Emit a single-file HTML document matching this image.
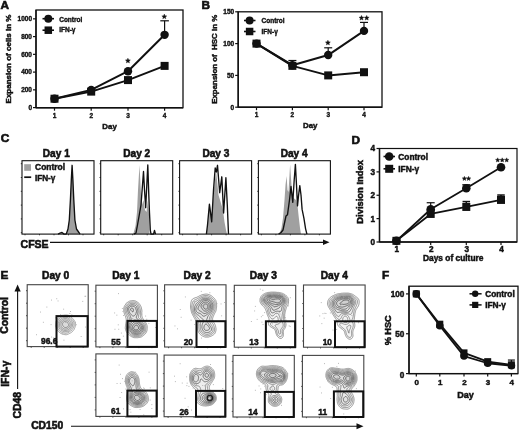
<!DOCTYPE html>
<html><head><meta charset="utf-8"><style>
html,body{margin:0;padding:0;background:#fff;}
body{width:520px;height:430px;overflow:hidden;}
svg{display:block;font-family:"Liberation Sans", sans-serif;}
text{white-space:pre;}
svg{will-change:transform;}
</style></head><body>
<svg width="520" height="430" viewBox="0 0 520 430">
<rect width="520" height="430" fill="#fff"/>
<text x="4.85" y="8.62" font-size="11.8" text-anchor="middle" font-weight="bold" fill="#111" stroke="#111" stroke-width="0.65">A</text>
<rect x="36.00" y="10.00" width="147.00" height="97.70" stroke="#111" stroke-width="1.3" fill="none"/>
<line x1="36.00" y1="10.00" x2="36.00" y2="107.70" stroke="#111" stroke-width="1.35" />
<line x1="36.00" y1="107.70" x2="183.00" y2="107.70" stroke="#111" stroke-width="1.35" />
<line x1="33.00" y1="107.60" x2="36.00" y2="107.60" stroke="#111" stroke-width="1.2" />
<text x="32.00" y="109.93" font-size="6.5" text-anchor="end" font-weight="bold" fill="#111" stroke="#111" stroke-width="0.36">0</text>
<line x1="33.00" y1="89.85" x2="36.00" y2="89.85" stroke="#111" stroke-width="1.2" />
<text x="32.00" y="92.18" font-size="6.5" text-anchor="end" font-weight="bold" fill="#111" stroke="#111" stroke-width="0.36">200</text>
<line x1="33.00" y1="72.10" x2="36.00" y2="72.10" stroke="#111" stroke-width="1.2" />
<text x="32.00" y="74.43" font-size="6.5" text-anchor="end" font-weight="bold" fill="#111" stroke="#111" stroke-width="0.36">400</text>
<line x1="33.00" y1="54.35" x2="36.00" y2="54.35" stroke="#111" stroke-width="1.2" />
<text x="32.00" y="56.68" font-size="6.5" text-anchor="end" font-weight="bold" fill="#111" stroke="#111" stroke-width="0.36">600</text>
<line x1="33.00" y1="36.60" x2="36.00" y2="36.60" stroke="#111" stroke-width="1.2" />
<text x="32.00" y="38.93" font-size="6.5" text-anchor="end" font-weight="bold" fill="#111" stroke="#111" stroke-width="0.36">800</text>
<line x1="33.00" y1="18.85" x2="36.00" y2="18.85" stroke="#111" stroke-width="1.2" />
<text x="32.00" y="21.18" font-size="6.5" text-anchor="end" font-weight="bold" fill="#111" stroke="#111" stroke-width="0.36">1000</text>
<line x1="54.50" y1="107.70" x2="54.50" y2="110.70" stroke="#111" stroke-width="1.2" />
<text x="54.50" y="117.63" font-size="6.5" text-anchor="middle" font-weight="bold" fill="#111" stroke="#111" stroke-width="0.36">1</text>
<line x1="91.20" y1="107.70" x2="91.20" y2="110.70" stroke="#111" stroke-width="1.2" />
<text x="91.20" y="117.63" font-size="6.5" text-anchor="middle" font-weight="bold" fill="#111" stroke="#111" stroke-width="0.36">2</text>
<line x1="128.00" y1="107.70" x2="128.00" y2="110.70" stroke="#111" stroke-width="1.2" />
<text x="128.00" y="117.63" font-size="6.5" text-anchor="middle" font-weight="bold" fill="#111" stroke="#111" stroke-width="0.36">3</text>
<line x1="164.60" y1="107.70" x2="164.60" y2="110.70" stroke="#111" stroke-width="1.2" />
<text x="164.60" y="117.63" font-size="6.5" text-anchor="middle" font-weight="bold" fill="#111" stroke="#111" stroke-width="0.36">4</text>
<text x="109.60" y="129.23" font-size="7.9" text-anchor="middle" font-weight="bold" fill="#111" stroke="#111" stroke-width="0.43">Day</text>
<text transform="translate(8.60,59.00) rotate(-90)" x="0" y="2.86" font-size="8" text-anchor="middle" font-weight="bold" fill="#111" stroke="#111" stroke-width="0.44">Expansion of cells in %</text>
<line x1="164.60" y1="34.83" x2="164.60" y2="20.80" stroke="#111" stroke-width="1.2" />
<line x1="160.30" y1="20.80" x2="168.90" y2="20.80" stroke="#111" stroke-width="1.2" />
<polyline points="54.50,98.72 91.20,89.85 128.00,71.21 164.60,34.83" stroke="#111" stroke-width="2.0" fill="none" stroke-linejoin="round" />
<polyline points="54.50,98.72 91.20,91.62 128.00,80.09 164.60,65.89" stroke="#111" stroke-width="2.0" fill="none" stroke-linejoin="round" />
<rect x="50.50" y="94.72" width="8" height="8" fill="#111"/>
<circle cx="54.50" cy="98.72" r="4.2" fill="#111"/>
<rect x="87.20" y="87.62" width="8" height="8" fill="#111"/>
<circle cx="91.20" cy="89.85" r="4.2" fill="#111"/>
<rect x="124.00" y="76.09" width="8" height="8" fill="#111"/>
<circle cx="128.00" cy="71.21" r="4.2" fill="#111"/>
<rect x="160.60" y="61.89" width="8" height="8" fill="#111"/>
<circle cx="164.60" cy="34.83" r="4.2" fill="#111"/>
<polygon points="127.90,58.20 128.59,59.85 130.37,60.00 129.01,61.16 129.43,62.90 127.90,61.97 126.37,62.90 126.79,61.16 125.43,60.00 127.21,59.85" fill="#111" stroke="#111" stroke-width="0.4" stroke-linejoin="round"/>
<polygon points="164.30,14.10 164.99,15.75 166.77,15.90 165.41,17.06 165.83,18.80 164.30,17.87 162.77,18.80 163.19,17.06 161.83,15.90 163.61,15.75" fill="#111" stroke="#111" stroke-width="0.4" stroke-linejoin="round"/>
<line x1="42.50" y1="18.70" x2="54.00" y2="18.70" stroke="#111" stroke-width="1.6" />
<circle cx="48.30" cy="18.70" r="4" fill="#111"/>
<line x1="42.50" y1="30.20" x2="54.00" y2="30.20" stroke="#111" stroke-width="1.6" />
<rect x="44.55" y="26.45" width="7.5" height="7.5" fill="#111"/>
<text x="59.20" y="21.63" font-size="6.5" text-anchor="start" font-weight="bold" fill="#111" stroke="#111" stroke-width="0.36">Control</text>
<text x="59.20" y="32.33" font-size="6.5" text-anchor="start" font-weight="bold" fill="#111" stroke="#111" stroke-width="0.36">IFN-γ</text>
<text x="205.80" y="8.72" font-size="11.8" text-anchor="middle" font-weight="bold" fill="#111" stroke="#111" stroke-width="0.65">B</text>
<rect x="238.20" y="11.80" width="143.80" height="95.40" stroke="#111" stroke-width="1.3" fill="none"/>
<line x1="238.20" y1="11.80" x2="238.20" y2="107.20" stroke="#111" stroke-width="1.35" />
<line x1="238.20" y1="107.20" x2="382.00" y2="107.20" stroke="#111" stroke-width="1.35" />
<line x1="235.20" y1="107.20" x2="238.20" y2="107.20" stroke="#111" stroke-width="1.2" />
<text x="234.20" y="109.53" font-size="6.5" text-anchor="end" font-weight="bold" fill="#111" stroke="#111" stroke-width="0.36">0</text>
<line x1="235.20" y1="75.40" x2="238.20" y2="75.40" stroke="#111" stroke-width="1.2" />
<text x="234.20" y="77.73" font-size="6.5" text-anchor="end" font-weight="bold" fill="#111" stroke="#111" stroke-width="0.36">50</text>
<line x1="235.20" y1="43.60" x2="238.20" y2="43.60" stroke="#111" stroke-width="1.2" />
<text x="234.20" y="45.93" font-size="6.5" text-anchor="end" font-weight="bold" fill="#111" stroke="#111" stroke-width="0.36">100</text>
<line x1="235.20" y1="11.80" x2="238.20" y2="11.80" stroke="#111" stroke-width="1.2" />
<text x="234.20" y="14.13" font-size="6.5" text-anchor="end" font-weight="bold" fill="#111" stroke="#111" stroke-width="0.36">150</text>
<line x1="256.50" y1="107.20" x2="256.50" y2="110.20" stroke="#111" stroke-width="1.2" />
<text x="256.50" y="116.93" font-size="6.5" text-anchor="middle" font-weight="bold" fill="#111" stroke="#111" stroke-width="0.36">1</text>
<line x1="292.40" y1="107.20" x2="292.40" y2="110.20" stroke="#111" stroke-width="1.2" />
<text x="292.40" y="116.93" font-size="6.5" text-anchor="middle" font-weight="bold" fill="#111" stroke="#111" stroke-width="0.36">2</text>
<line x1="328.20" y1="107.20" x2="328.20" y2="110.20" stroke="#111" stroke-width="1.2" />
<text x="328.20" y="116.93" font-size="6.5" text-anchor="middle" font-weight="bold" fill="#111" stroke="#111" stroke-width="0.36">3</text>
<line x1="364.00" y1="107.20" x2="364.00" y2="110.20" stroke="#111" stroke-width="1.2" />
<text x="364.00" y="116.93" font-size="6.5" text-anchor="middle" font-weight="bold" fill="#111" stroke="#111" stroke-width="0.36">4</text>
<text x="310.20" y="128.43" font-size="7.9" text-anchor="middle" font-weight="bold" fill="#111" stroke="#111" stroke-width="0.43">Day</text>
<text transform="translate(214.60,59.30) rotate(-90)" x="0" y="2.83" font-size="7.9" text-anchor="middle" font-weight="bold" fill="#111" stroke="#111" stroke-width="0.43">Expansion of  HSC in %</text>
<line x1="292.40" y1="65.22" x2="292.40" y2="60.50" stroke="#111" stroke-width="1.2" />
<line x1="288.40" y1="60.50" x2="296.40" y2="60.50" stroke="#111" stroke-width="1.2" />
<line x1="328.20" y1="55.05" x2="328.20" y2="47.80" stroke="#111" stroke-width="1.2" />
<line x1="324.20" y1="47.80" x2="332.20" y2="47.80" stroke="#111" stroke-width="1.2" />
<line x1="364.00" y1="30.88" x2="364.00" y2="22.40" stroke="#111" stroke-width="1.2" />
<line x1="360.00" y1="22.40" x2="368.00" y2="22.40" stroke="#111" stroke-width="1.2" />
<polyline points="256.50,43.60 292.40,65.22 328.20,55.05 364.00,30.88" stroke="#111" stroke-width="2.0" fill="none" stroke-linejoin="round" />
<polyline points="256.50,43.60 292.40,65.86 328.20,75.40 364.00,72.22" stroke="#111" stroke-width="2.0" fill="none" stroke-linejoin="round" />
<circle cx="256.50" cy="43.60" r="4.2" fill="#111"/>
<rect x="252.50" y="39.60" width="8" height="8" fill="#111"/>
<circle cx="292.40" cy="65.22" r="4.2" fill="#111"/>
<rect x="288.40" y="61.86" width="8" height="8" fill="#111"/>
<circle cx="328.20" cy="55.05" r="4.2" fill="#111"/>
<rect x="324.20" y="71.40" width="8" height="8" fill="#111"/>
<circle cx="364.00" cy="30.88" r="4.2" fill="#111"/>
<rect x="360.00" y="68.22" width="8" height="8" fill="#111"/>
<polygon points="327.90,40.20 328.59,41.85 330.37,42.00 329.01,43.16 329.43,44.90 327.90,43.97 326.37,44.90 326.79,43.16 325.43,42.00 327.21,41.85" fill="#111" stroke="#111" stroke-width="0.4" stroke-linejoin="round"/>
<polygon points="361.50,15.40 362.19,17.05 363.97,17.20 362.61,18.36 363.03,20.10 361.50,19.17 359.97,20.10 360.39,18.36 359.03,17.20 360.81,17.05" fill="#111" stroke="#111" stroke-width="0.4" stroke-linejoin="round"/>
<polygon points="366.70,15.40 367.39,17.05 369.17,17.20 367.81,18.36 368.23,20.10 366.70,19.17 365.17,20.10 365.59,18.36 364.23,17.20 366.01,17.05" fill="#111" stroke="#111" stroke-width="0.4" stroke-linejoin="round"/>
<line x1="244.00" y1="20.50" x2="255.50" y2="20.50" stroke="#111" stroke-width="1.6" />
<circle cx="249.60" cy="20.50" r="4" fill="#111"/>
<line x1="244.00" y1="31.50" x2="255.50" y2="31.50" stroke="#111" stroke-width="1.6" />
<rect x="245.85" y="27.75" width="7.5" height="7.5" fill="#111"/>
<text x="261.50" y="22.83" font-size="6.5" text-anchor="start" font-weight="bold" fill="#111" stroke="#111" stroke-width="0.36">Control</text>
<text x="261.50" y="33.83" font-size="6.5" text-anchor="start" font-weight="bold" fill="#111" stroke="#111" stroke-width="0.36">IFN-γ</text>
<text x="4.90" y="142.32" font-size="11.8" text-anchor="middle" font-weight="bold" fill="#111" stroke="#111" stroke-width="0.65">C</text>
<line x1="20.80" y1="163.70" x2="22.00" y2="163.70" stroke="#111" stroke-width="0.8" />
<line x1="20.80" y1="177.50" x2="22.00" y2="177.50" stroke="#111" stroke-width="0.8" />
<line x1="20.80" y1="191.30" x2="22.00" y2="191.30" stroke="#111" stroke-width="0.8" />
<line x1="20.80" y1="205.10" x2="22.00" y2="205.10" stroke="#111" stroke-width="0.8" />
<line x1="20.80" y1="218.90" x2="22.00" y2="218.90" stroke="#111" stroke-width="0.8" />
<line x1="20.80" y1="232.70" x2="22.00" y2="232.70" stroke="#111" stroke-width="0.8" />
<line x1="25.00" y1="234.10" x2="25.00" y2="235.30" stroke="#111" stroke-width="0.8" />
<line x1="39.50" y1="234.10" x2="39.50" y2="235.30" stroke="#111" stroke-width="0.8" />
<line x1="54.00" y1="234.10" x2="54.00" y2="235.30" stroke="#111" stroke-width="0.8" />
<line x1="68.50" y1="234.10" x2="68.50" y2="235.30" stroke="#111" stroke-width="0.8" />
<line x1="83.00" y1="234.10" x2="83.00" y2="235.30" stroke="#111" stroke-width="0.8" />
<text x="56.30" y="156.92" font-size="10.1" text-anchor="middle" font-weight="bold" fill="#111" stroke="#111" stroke-width="0.56">Day 1</text>
<line x1="99.50" y1="163.70" x2="100.70" y2="163.70" stroke="#111" stroke-width="0.8" />
<line x1="99.50" y1="177.50" x2="100.70" y2="177.50" stroke="#111" stroke-width="0.8" />
<line x1="99.50" y1="191.30" x2="100.70" y2="191.30" stroke="#111" stroke-width="0.8" />
<line x1="99.50" y1="205.10" x2="100.70" y2="205.10" stroke="#111" stroke-width="0.8" />
<line x1="99.50" y1="218.90" x2="100.70" y2="218.90" stroke="#111" stroke-width="0.8" />
<line x1="99.50" y1="232.70" x2="100.70" y2="232.70" stroke="#111" stroke-width="0.8" />
<line x1="103.70" y1="234.10" x2="103.70" y2="235.30" stroke="#111" stroke-width="0.8" />
<line x1="118.20" y1="234.10" x2="118.20" y2="235.30" stroke="#111" stroke-width="0.8" />
<line x1="132.70" y1="234.10" x2="132.70" y2="235.30" stroke="#111" stroke-width="0.8" />
<line x1="147.20" y1="234.10" x2="147.20" y2="235.30" stroke="#111" stroke-width="0.8" />
<line x1="161.70" y1="234.10" x2="161.70" y2="235.30" stroke="#111" stroke-width="0.8" />
<text x="136.75" y="156.92" font-size="10.1" text-anchor="middle" font-weight="bold" fill="#111" stroke="#111" stroke-width="0.56">Day 2</text>
<line x1="178.40" y1="163.70" x2="179.60" y2="163.70" stroke="#111" stroke-width="0.8" />
<line x1="178.40" y1="177.50" x2="179.60" y2="177.50" stroke="#111" stroke-width="0.8" />
<line x1="178.40" y1="191.30" x2="179.60" y2="191.30" stroke="#111" stroke-width="0.8" />
<line x1="178.40" y1="205.10" x2="179.60" y2="205.10" stroke="#111" stroke-width="0.8" />
<line x1="178.40" y1="218.90" x2="179.60" y2="218.90" stroke="#111" stroke-width="0.8" />
<line x1="178.40" y1="232.70" x2="179.60" y2="232.70" stroke="#111" stroke-width="0.8" />
<line x1="182.60" y1="234.10" x2="182.60" y2="235.30" stroke="#111" stroke-width="0.8" />
<line x1="197.10" y1="234.10" x2="197.10" y2="235.30" stroke="#111" stroke-width="0.8" />
<line x1="211.60" y1="234.10" x2="211.60" y2="235.30" stroke="#111" stroke-width="0.8" />
<line x1="226.10" y1="234.10" x2="226.10" y2="235.30" stroke="#111" stroke-width="0.8" />
<line x1="240.60" y1="234.10" x2="240.60" y2="235.30" stroke="#111" stroke-width="0.8" />
<text x="215.85" y="156.92" font-size="10.1" text-anchor="middle" font-weight="bold" fill="#111" stroke="#111" stroke-width="0.56">Day 3</text>
<line x1="257.20" y1="163.70" x2="258.40" y2="163.70" stroke="#111" stroke-width="0.8" />
<line x1="257.20" y1="177.50" x2="258.40" y2="177.50" stroke="#111" stroke-width="0.8" />
<line x1="257.20" y1="191.30" x2="258.40" y2="191.30" stroke="#111" stroke-width="0.8" />
<line x1="257.20" y1="205.10" x2="258.40" y2="205.10" stroke="#111" stroke-width="0.8" />
<line x1="257.20" y1="218.90" x2="258.40" y2="218.90" stroke="#111" stroke-width="0.8" />
<line x1="257.20" y1="232.70" x2="258.40" y2="232.70" stroke="#111" stroke-width="0.8" />
<line x1="261.40" y1="234.10" x2="261.40" y2="235.30" stroke="#111" stroke-width="0.8" />
<line x1="275.90" y1="234.10" x2="275.90" y2="235.30" stroke="#111" stroke-width="0.8" />
<line x1="290.40" y1="234.10" x2="290.40" y2="235.30" stroke="#111" stroke-width="0.8" />
<line x1="304.90" y1="234.10" x2="304.90" y2="235.30" stroke="#111" stroke-width="0.8" />
<line x1="319.40" y1="234.10" x2="319.40" y2="235.30" stroke="#111" stroke-width="0.8" />
<text x="294.15" y="156.92" font-size="10.1" text-anchor="middle" font-weight="bold" fill="#111" stroke="#111" stroke-width="0.56">Day 4</text>
<polygon points="66.20,234.10 68.00,229.00 69.30,220.00 70.40,200.00 71.30,180.00 72.10,165.30 72.90,180.00 73.80,200.00 74.90,220.00 76.50,229.00 78.90,234.10" fill="#a0a0a0" stroke="none" stroke-width="0"/>
<polyline points="58.00,234.10 60.00,233.20 62.00,232.50 64.00,234.10 66.20,234.10 68.00,229.00 69.30,220.00 70.40,200.00 71.30,180.00 72.10,165.30 72.90,180.00 73.80,200.00 74.90,220.00 76.50,229.00 78.90,232.50 80.00,234.10" stroke="#111" stroke-width="1.35" fill="none" stroke-linejoin="round" />
<polygon points="133.30,234.10 135.50,226.00 137.00,212.00 138.00,190.00 139.50,165.00 140.80,190.00 141.40,200.00 142.00,205.00 143.50,200.00 145.00,210.00 146.50,212.00 147.80,200.00 149.00,215.00 149.60,234.10" fill="#a0a0a0" stroke="none" stroke-width="0"/>
<polyline points="134.00,234.10 136.00,233.00 137.50,225.00 139.00,216.50 141.00,205.00 142.50,185.00 143.50,171.50 144.50,190.00 145.70,207.70 146.80,185.00 147.80,165.00 148.80,195.00 149.50,213.00 150.30,230.00 151.00,234.10 153.50,234.10 154.50,230.50 155.50,234.10" stroke="#111" stroke-width="1.35" fill="none" stroke-linejoin="round" />
<polygon points="206.40,234.10 207.50,226.00 209.00,212.00 210.00,206.00 211.20,215.00 212.50,208.00 213.50,195.00 215.00,180.00 216.20,172.00 217.50,185.00 218.50,195.00 220.00,200.00 221.50,205.00 223.00,210.00 224.50,222.00 226.00,230.00 227.00,234.10" fill="#a0a0a0" stroke="none" stroke-width="0"/>
<polyline points="206.40,234.10 207.50,225.00 209.40,204.20 211.70,221.80 213.50,190.00 215.20,168.00 216.40,172.00 217.50,165.30 219.70,192.70 221.80,176.80 223.60,213.00 225.90,177.70 227.30,205.00 228.50,234.10" stroke="#111" stroke-width="1.35" fill="none" stroke-linejoin="round" />
<polygon points="279.50,234.10 281.50,228.00 283.00,218.00 284.50,200.00 285.50,185.00 286.60,176.00 287.50,190.00 288.50,192.00 289.50,175.00 290.10,164.40 291.00,178.00 291.80,190.00 293.50,198.00 296.00,200.00 297.50,205.00 298.50,215.00 300.00,228.00 301.00,234.10" fill="#a0a0a0" stroke="none" stroke-width="0"/>
<polyline points="278.60,234.10 281.00,232.50 283.00,230.00 286.00,216.00 287.50,214.70 289.50,200.00 291.00,186.50 292.80,202.30 294.20,180.00 295.40,164.40 296.50,185.00 297.50,205.90 298.60,195.00 299.80,185.60 301.00,195.00 302.10,209.40 303.90,218.20 305.60,228.80 306.90,234.10" stroke="#111" stroke-width="1.35" fill="none" stroke-linejoin="round" />
<rect x="22.00" y="160.70" width="72.00" height="73.40" stroke="#111" stroke-width="1.1" fill="none"/>
<rect x="100.70" y="160.70" width="72.00" height="73.40" stroke="#111" stroke-width="1.1" fill="none"/>
<rect x="179.60" y="160.70" width="72.00" height="73.40" stroke="#111" stroke-width="1.1" fill="none"/>
<rect x="258.40" y="160.70" width="72.00" height="73.40" stroke="#111" stroke-width="1.1" fill="none"/>
<rect x="24.2" y="164.2" width="6.8" height="6.6" fill="#a0a0a0"/>
<text x="35.10" y="170.13" font-size="8.45" text-anchor="start" font-weight="bold" fill="#111" stroke="#111" stroke-width="0.46">Control</text>
<line x1="24.20" y1="177.20" x2="31.20" y2="177.20" stroke="#111" stroke-width="1.7" />
<text x="34.90" y="180.74" font-size="8.2" text-anchor="start" font-weight="bold" fill="#111" stroke="#111" stroke-width="0.45">IFN-γ</text>
<text x="20.60" y="247.66" font-size="10.5" text-anchor="start" font-weight="bold" fill="#111" stroke="#111" stroke-width="0.58">CFSE</text>
<line x1="50.00" y1="242.30" x2="324.00" y2="242.30" stroke="#111" stroke-width="1.3" />
<polygon points="323.00,239.50 329.50,242.30 323.00,245.10" fill="#111" stroke="none" stroke-width="0"/>
<text x="355.80" y="143.72" font-size="11.8" text-anchor="middle" font-weight="bold" fill="#111" stroke="#111" stroke-width="0.65">D</text>
<rect x="379.50" y="148.50" width="137.50" height="93.50" stroke="#111" stroke-width="1.2" fill="none"/>
<line x1="379.50" y1="148.50" x2="379.50" y2="242.00" stroke="#111" stroke-width="1.4" />
<line x1="379.50" y1="242.00" x2="517.00" y2="242.00" stroke="#111" stroke-width="1.4" />
<line x1="376.50" y1="242.00" x2="379.50" y2="242.00" stroke="#111" stroke-width="1.2" />
<text x="375.00" y="244.94" font-size="8.2" text-anchor="end" font-weight="bold" fill="#111" stroke="#111" stroke-width="0.45">0</text>
<line x1="376.50" y1="218.62" x2="379.50" y2="218.62" stroke="#111" stroke-width="1.2" />
<text x="375.00" y="221.56" font-size="8.2" text-anchor="end" font-weight="bold" fill="#111" stroke="#111" stroke-width="0.45">1</text>
<line x1="376.50" y1="195.25" x2="379.50" y2="195.25" stroke="#111" stroke-width="1.2" />
<text x="375.00" y="198.19" font-size="8.2" text-anchor="end" font-weight="bold" fill="#111" stroke="#111" stroke-width="0.45">2</text>
<line x1="376.50" y1="171.88" x2="379.50" y2="171.88" stroke="#111" stroke-width="1.2" />
<text x="375.00" y="174.81" font-size="8.2" text-anchor="end" font-weight="bold" fill="#111" stroke="#111" stroke-width="0.45">3</text>
<line x1="376.50" y1="148.50" x2="379.50" y2="148.50" stroke="#111" stroke-width="1.2" />
<text x="375.00" y="151.44" font-size="8.2" text-anchor="end" font-weight="bold" fill="#111" stroke="#111" stroke-width="0.45">4</text>
<line x1="396.40" y1="242.00" x2="396.40" y2="245.00" stroke="#111" stroke-width="1.2" />
<text x="396.90" y="252.14" font-size="8.2" text-anchor="middle" font-weight="bold" fill="#111" stroke="#111" stroke-width="0.45">1</text>
<line x1="430.70" y1="242.00" x2="430.70" y2="245.00" stroke="#111" stroke-width="1.2" />
<text x="431.20" y="252.14" font-size="8.2" text-anchor="middle" font-weight="bold" fill="#111" stroke="#111" stroke-width="0.45">2</text>
<line x1="466.30" y1="242.00" x2="466.30" y2="245.00" stroke="#111" stroke-width="1.2" />
<text x="466.80" y="252.14" font-size="8.2" text-anchor="middle" font-weight="bold" fill="#111" stroke="#111" stroke-width="0.45">3</text>
<line x1="501.00" y1="242.00" x2="501.00" y2="245.00" stroke="#111" stroke-width="1.2" />
<text x="501.50" y="252.14" font-size="8.2" text-anchor="middle" font-weight="bold" fill="#111" stroke="#111" stroke-width="0.45">4</text>
<text x="453.20" y="261.31" font-size="8.4" text-anchor="middle" font-weight="bold" fill="#111" stroke="#111" stroke-width="0.46">Days of culture</text>
<text transform="translate(359.50,191.90) rotate(-90)" x="0" y="3.37" font-size="9.4" text-anchor="middle" font-weight="bold" fill="#111" stroke="#111" stroke-width="0.52">Division Index</text>
<line x1="430.70" y1="209.28" x2="430.70" y2="202.73" stroke="#111" stroke-width="1.2" />
<line x1="426.70" y1="202.73" x2="434.70" y2="202.73" stroke="#111" stroke-width="1.2" />
<line x1="466.30" y1="188.24" x2="466.30" y2="184.73" stroke="#111" stroke-width="1.2" />
<line x1="462.30" y1="184.73" x2="470.30" y2="184.73" stroke="#111" stroke-width="1.2" />
<line x1="466.30" y1="206.94" x2="466.30" y2="201.56" stroke="#111" stroke-width="1.5" />
<line x1="462.55" y1="201.56" x2="470.05" y2="201.56" stroke="#111" stroke-width="1.5" />
<line x1="501.00" y1="199.93" x2="501.00" y2="195.02" stroke="#111" stroke-width="1.5" />
<line x1="497.25" y1="195.02" x2="504.75" y2="195.02" stroke="#111" stroke-width="1.5" />
<polyline points="396.40,240.83 430.70,209.28 466.30,188.24 501.00,167.20" stroke="#111" stroke-width="1.8" fill="none" stroke-linejoin="round" />
<polyline points="396.40,240.83 430.70,213.95 466.30,206.94 501.00,199.93" stroke="#111" stroke-width="1.8" fill="none" stroke-linejoin="round" />
<circle cx="396.40" cy="240.83" r="4.3" fill="#111"/>
<rect x="392.40" y="236.83" width="8" height="8" fill="#111"/>
<circle cx="430.70" cy="209.28" r="4.3" fill="#111"/>
<rect x="426.70" y="209.95" width="8" height="8" fill="#111"/>
<circle cx="466.30" cy="188.24" r="4.3" fill="#111"/>
<rect x="462.30" y="202.94" width="8" height="8" fill="#111"/>
<circle cx="501.00" cy="167.20" r="4.3" fill="#111"/>
<rect x="497.00" y="195.93" width="8" height="8" fill="#111"/>
<polygon points="464.40,176.30 465.01,177.76 466.59,177.89 465.38,178.92 465.75,180.46 464.40,179.64 463.05,180.46 463.42,178.92 462.21,177.89 463.79,177.76" fill="#111" stroke="#111" stroke-width="0.4" stroke-linejoin="round"/>
<polygon points="468.60,176.30 469.21,177.76 470.79,177.89 469.58,178.92 469.95,180.46 468.60,179.64 467.25,180.46 467.62,178.92 466.41,177.89 467.99,177.76" fill="#111" stroke="#111" stroke-width="0.4" stroke-linejoin="round"/>
<polygon points="497.70,157.80 498.31,159.26 499.89,159.39 498.68,160.42 499.05,161.96 497.70,161.14 496.35,161.96 496.72,160.42 495.51,159.39 497.09,159.26" fill="#111" stroke="#111" stroke-width="0.4" stroke-linejoin="round"/>
<polygon points="502.20,157.80 502.81,159.26 504.39,159.39 503.18,160.42 503.55,161.96 502.20,161.14 500.85,161.96 501.22,160.42 500.01,159.39 501.59,159.26" fill="#111" stroke="#111" stroke-width="0.4" stroke-linejoin="round"/>
<polygon points="506.70,157.80 507.31,159.26 508.89,159.39 507.68,160.42 508.05,161.96 506.70,161.14 505.35,161.96 505.72,160.42 504.51,159.39 506.09,159.26" fill="#111" stroke="#111" stroke-width="0.4" stroke-linejoin="round"/>
<circle cx="389.20" cy="156.50" r="4.3" fill="#111"/>
<rect x="385.20" y="164.80" width="8" height="8" fill="#111"/>
<line x1="383.50" y1="156.50" x2="395.00" y2="156.50" stroke="#111" stroke-width="1.6" />
<line x1="383.50" y1="168.80" x2="395.00" y2="168.80" stroke="#111" stroke-width="1.6" />
<text x="398.30" y="160.09" font-size="8.35" text-anchor="start" font-weight="bold" fill="#111" stroke="#111" stroke-width="0.46">Control</text>
<text x="398.30" y="172.49" font-size="8.35" text-anchor="start" font-weight="bold" fill="#111" stroke="#111" stroke-width="0.46">IFN-γ</text>
<text x="4.40" y="278.82" font-size="11.8" text-anchor="middle" font-weight="bold" fill="#111" stroke="#111" stroke-width="0.65">E</text>
<text x="55.65" y="279.15" font-size="10.2" text-anchor="middle" font-weight="bold" fill="#111" stroke="#111" stroke-width="0.56">Day 0</text>
<text x="125.75" y="279.15" font-size="10.2" text-anchor="middle" font-weight="bold" fill="#111" stroke="#111" stroke-width="0.56">Day 1</text>
<text x="197.20" y="279.15" font-size="10.2" text-anchor="middle" font-weight="bold" fill="#111" stroke="#111" stroke-width="0.56">Day 2</text>
<text x="263.45" y="279.15" font-size="10.2" text-anchor="middle" font-weight="bold" fill="#111" stroke="#111" stroke-width="0.56">Day 3</text>
<text x="334.25" y="279.15" font-size="10.2" text-anchor="middle" font-weight="bold" fill="#111" stroke="#111" stroke-width="0.56">Day 4</text>
<line x1="26.00" y1="290.70" x2="27.20" y2="290.70" stroke="#333" stroke-width="0.9" />
<line x1="26.00" y1="303.20" x2="27.20" y2="303.20" stroke="#333" stroke-width="0.9" />
<line x1="26.00" y1="315.70" x2="27.20" y2="315.70" stroke="#333" stroke-width="0.9" />
<line x1="26.00" y1="328.20" x2="27.20" y2="328.20" stroke="#333" stroke-width="0.9" />
<line x1="26.00" y1="340.70" x2="27.20" y2="340.70" stroke="#333" stroke-width="0.9" />
<line x1="31.20" y1="346.60" x2="31.20" y2="347.80" stroke="#333" stroke-width="0.9" />
<line x1="44.20" y1="346.60" x2="44.20" y2="347.80" stroke="#333" stroke-width="0.9" />
<line x1="57.20" y1="346.60" x2="57.20" y2="347.80" stroke="#333" stroke-width="0.9" />
<line x1="70.20" y1="346.60" x2="70.20" y2="347.80" stroke="#333" stroke-width="0.9" />
<line x1="83.20" y1="346.60" x2="83.20" y2="347.80" stroke="#333" stroke-width="0.9" />
<rect x="27.20" y="284.70" width="61.00" height="61.90" stroke="#444" stroke-width="1.1" fill="none"/>
<text x="41.00" y="344.40" font-size="8.4" text-anchor="start" font-weight="bold" fill="#111" stroke="#111" stroke-width="0.46">96.6</text>
<line x1="94.70" y1="291.20" x2="95.90" y2="291.20" stroke="#333" stroke-width="0.9" />
<line x1="94.70" y1="303.70" x2="95.90" y2="303.70" stroke="#333" stroke-width="0.9" />
<line x1="94.70" y1="316.20" x2="95.90" y2="316.20" stroke="#333" stroke-width="0.9" />
<line x1="94.70" y1="328.70" x2="95.90" y2="328.70" stroke="#333" stroke-width="0.9" />
<line x1="94.70" y1="341.20" x2="95.90" y2="341.20" stroke="#333" stroke-width="0.9" />
<line x1="99.90" y1="346.90" x2="99.90" y2="348.10" stroke="#333" stroke-width="0.9" />
<line x1="112.90" y1="346.90" x2="112.90" y2="348.10" stroke="#333" stroke-width="0.9" />
<line x1="125.90" y1="346.90" x2="125.90" y2="348.10" stroke="#333" stroke-width="0.9" />
<line x1="138.90" y1="346.90" x2="138.90" y2="348.10" stroke="#333" stroke-width="0.9" />
<line x1="151.90" y1="346.90" x2="151.90" y2="348.10" stroke="#333" stroke-width="0.9" />
<rect x="95.90" y="285.20" width="61.50" height="61.70" stroke="#444" stroke-width="1.1" fill="none"/>
<text x="111.30" y="344.70" font-size="8.4" text-anchor="start" font-weight="bold" fill="#111" stroke="#111" stroke-width="0.46">55</text>
<line x1="163.40" y1="290.80" x2="164.60" y2="290.80" stroke="#333" stroke-width="0.9" />
<line x1="163.40" y1="303.30" x2="164.60" y2="303.30" stroke="#333" stroke-width="0.9" />
<line x1="163.40" y1="315.80" x2="164.60" y2="315.80" stroke="#333" stroke-width="0.9" />
<line x1="163.40" y1="328.30" x2="164.60" y2="328.30" stroke="#333" stroke-width="0.9" />
<line x1="163.40" y1="340.80" x2="164.60" y2="340.80" stroke="#333" stroke-width="0.9" />
<line x1="168.60" y1="347.00" x2="168.60" y2="348.20" stroke="#333" stroke-width="0.9" />
<line x1="181.60" y1="347.00" x2="181.60" y2="348.20" stroke="#333" stroke-width="0.9" />
<line x1="194.60" y1="347.00" x2="194.60" y2="348.20" stroke="#333" stroke-width="0.9" />
<line x1="207.60" y1="347.00" x2="207.60" y2="348.20" stroke="#333" stroke-width="0.9" />
<line x1="220.60" y1="347.00" x2="220.60" y2="348.20" stroke="#333" stroke-width="0.9" />
<rect x="164.60" y="284.80" width="61.40" height="62.20" stroke="#444" stroke-width="1.1" fill="none"/>
<text x="183.70" y="344.80" font-size="8.4" text-anchor="start" font-weight="bold" fill="#111" stroke="#111" stroke-width="0.46">20</text>
<line x1="233.10" y1="291.30" x2="234.30" y2="291.30" stroke="#333" stroke-width="0.9" />
<line x1="233.10" y1="303.80" x2="234.30" y2="303.80" stroke="#333" stroke-width="0.9" />
<line x1="233.10" y1="316.30" x2="234.30" y2="316.30" stroke="#333" stroke-width="0.9" />
<line x1="233.10" y1="328.80" x2="234.30" y2="328.80" stroke="#333" stroke-width="0.9" />
<line x1="233.10" y1="341.30" x2="234.30" y2="341.30" stroke="#333" stroke-width="0.9" />
<line x1="238.30" y1="347.20" x2="238.30" y2="348.40" stroke="#333" stroke-width="0.9" />
<line x1="251.30" y1="347.20" x2="251.30" y2="348.40" stroke="#333" stroke-width="0.9" />
<line x1="264.30" y1="347.20" x2="264.30" y2="348.40" stroke="#333" stroke-width="0.9" />
<line x1="277.30" y1="347.20" x2="277.30" y2="348.40" stroke="#333" stroke-width="0.9" />
<line x1="290.30" y1="347.20" x2="290.30" y2="348.40" stroke="#333" stroke-width="0.9" />
<rect x="234.30" y="285.30" width="61.40" height="61.90" stroke="#444" stroke-width="1.1" fill="none"/>
<text x="249.30" y="345.00" font-size="8.4" text-anchor="start" font-weight="bold" fill="#111" stroke="#111" stroke-width="0.46">13</text>
<line x1="302.30" y1="291.00" x2="303.50" y2="291.00" stroke="#333" stroke-width="0.9" />
<line x1="302.30" y1="303.50" x2="303.50" y2="303.50" stroke="#333" stroke-width="0.9" />
<line x1="302.30" y1="316.00" x2="303.50" y2="316.00" stroke="#333" stroke-width="0.9" />
<line x1="302.30" y1="328.50" x2="303.50" y2="328.50" stroke="#333" stroke-width="0.9" />
<line x1="302.30" y1="341.00" x2="303.50" y2="341.00" stroke="#333" stroke-width="0.9" />
<line x1="307.50" y1="347.20" x2="307.50" y2="348.40" stroke="#333" stroke-width="0.9" />
<line x1="320.50" y1="347.20" x2="320.50" y2="348.40" stroke="#333" stroke-width="0.9" />
<line x1="333.50" y1="347.20" x2="333.50" y2="348.40" stroke="#333" stroke-width="0.9" />
<line x1="346.50" y1="347.20" x2="346.50" y2="348.40" stroke="#333" stroke-width="0.9" />
<line x1="359.50" y1="347.20" x2="359.50" y2="348.40" stroke="#333" stroke-width="0.9" />
<rect x="303.50" y="285.00" width="61.60" height="62.20" stroke="#444" stroke-width="1.1" fill="none"/>
<text x="322.70" y="345.00" font-size="8.4" text-anchor="start" font-weight="bold" fill="#111" stroke="#111" stroke-width="0.46">10</text>
<line x1="94.70" y1="359.90" x2="95.90" y2="359.90" stroke="#333" stroke-width="0.9" />
<line x1="94.70" y1="372.40" x2="95.90" y2="372.40" stroke="#333" stroke-width="0.9" />
<line x1="94.70" y1="384.90" x2="95.90" y2="384.90" stroke="#333" stroke-width="0.9" />
<line x1="94.70" y1="397.40" x2="95.90" y2="397.40" stroke="#333" stroke-width="0.9" />
<line x1="94.70" y1="409.90" x2="95.90" y2="409.90" stroke="#333" stroke-width="0.9" />
<line x1="99.90" y1="416.40" x2="99.90" y2="417.60" stroke="#333" stroke-width="0.9" />
<line x1="112.90" y1="416.40" x2="112.90" y2="417.60" stroke="#333" stroke-width="0.9" />
<line x1="125.90" y1="416.40" x2="125.90" y2="417.60" stroke="#333" stroke-width="0.9" />
<line x1="138.90" y1="416.40" x2="138.90" y2="417.60" stroke="#333" stroke-width="0.9" />
<line x1="151.90" y1="416.40" x2="151.90" y2="417.60" stroke="#333" stroke-width="0.9" />
<rect x="95.90" y="353.90" width="61.30" height="62.50" stroke="#444" stroke-width="1.1" fill="none"/>
<text x="111.10" y="414.20" font-size="8.4" text-anchor="start" font-weight="bold" fill="#111" stroke="#111" stroke-width="0.46">61</text>
<line x1="162.90" y1="361.10" x2="164.10" y2="361.10" stroke="#333" stroke-width="0.9" />
<line x1="162.90" y1="373.60" x2="164.10" y2="373.60" stroke="#333" stroke-width="0.9" />
<line x1="162.90" y1="386.10" x2="164.10" y2="386.10" stroke="#333" stroke-width="0.9" />
<line x1="162.90" y1="398.60" x2="164.10" y2="398.60" stroke="#333" stroke-width="0.9" />
<line x1="162.90" y1="411.10" x2="164.10" y2="411.10" stroke="#333" stroke-width="0.9" />
<line x1="168.10" y1="416.70" x2="168.10" y2="417.90" stroke="#333" stroke-width="0.9" />
<line x1="181.10" y1="416.70" x2="181.10" y2="417.90" stroke="#333" stroke-width="0.9" />
<line x1="194.10" y1="416.70" x2="194.10" y2="417.90" stroke="#333" stroke-width="0.9" />
<line x1="207.10" y1="416.70" x2="207.10" y2="417.90" stroke="#333" stroke-width="0.9" />
<line x1="220.10" y1="416.70" x2="220.10" y2="417.90" stroke="#333" stroke-width="0.9" />
<rect x="164.10" y="355.10" width="61.70" height="61.60" stroke="#444" stroke-width="1.1" fill="none"/>
<text x="179.40" y="414.50" font-size="8.4" text-anchor="start" font-weight="bold" fill="#111" stroke="#111" stroke-width="0.46">26</text>
<line x1="231.80" y1="361.40" x2="233.00" y2="361.40" stroke="#333" stroke-width="0.9" />
<line x1="231.80" y1="373.90" x2="233.00" y2="373.90" stroke="#333" stroke-width="0.9" />
<line x1="231.80" y1="386.40" x2="233.00" y2="386.40" stroke="#333" stroke-width="0.9" />
<line x1="231.80" y1="398.90" x2="233.00" y2="398.90" stroke="#333" stroke-width="0.9" />
<line x1="231.80" y1="411.40" x2="233.00" y2="411.40" stroke="#333" stroke-width="0.9" />
<line x1="237.00" y1="417.00" x2="237.00" y2="418.20" stroke="#333" stroke-width="0.9" />
<line x1="250.00" y1="417.00" x2="250.00" y2="418.20" stroke="#333" stroke-width="0.9" />
<line x1="263.00" y1="417.00" x2="263.00" y2="418.20" stroke="#333" stroke-width="0.9" />
<line x1="276.00" y1="417.00" x2="276.00" y2="418.20" stroke="#333" stroke-width="0.9" />
<line x1="289.00" y1="417.00" x2="289.00" y2="418.20" stroke="#333" stroke-width="0.9" />
<rect x="233.00" y="355.40" width="61.30" height="61.60" stroke="#444" stroke-width="1.1" fill="none"/>
<text x="248.30" y="414.80" font-size="8.4" text-anchor="start" font-weight="bold" fill="#111" stroke="#111" stroke-width="0.46">14</text>
<line x1="301.20" y1="361.40" x2="302.40" y2="361.40" stroke="#333" stroke-width="0.9" />
<line x1="301.20" y1="373.90" x2="302.40" y2="373.90" stroke="#333" stroke-width="0.9" />
<line x1="301.20" y1="386.40" x2="302.40" y2="386.40" stroke="#333" stroke-width="0.9" />
<line x1="301.20" y1="398.90" x2="302.40" y2="398.90" stroke="#333" stroke-width="0.9" />
<line x1="301.20" y1="411.40" x2="302.40" y2="411.40" stroke="#333" stroke-width="0.9" />
<line x1="306.40" y1="417.00" x2="306.40" y2="418.20" stroke="#333" stroke-width="0.9" />
<line x1="319.40" y1="417.00" x2="319.40" y2="418.20" stroke="#333" stroke-width="0.9" />
<line x1="332.40" y1="417.00" x2="332.40" y2="418.20" stroke="#333" stroke-width="0.9" />
<line x1="345.40" y1="417.00" x2="345.40" y2="418.20" stroke="#333" stroke-width="0.9" />
<line x1="358.40" y1="417.00" x2="358.40" y2="418.20" stroke="#333" stroke-width="0.9" />
<rect x="302.40" y="355.40" width="61.40" height="61.60" stroke="#444" stroke-width="1.1" fill="none"/>
<text x="318.30" y="414.80" font-size="8.4" text-anchor="start" font-weight="bold" fill="#111" stroke="#111" stroke-width="0.46">11</text>
<path d="M66.0,327.5 L65.2,327.5 L64.8,327.4 L64.2,327.2 L63.8,326.8 L63.4,326.5 L63.0,326.0 L62.8,325.5 L62.6,325.0 L62.5,324.5 L62.5,323.9 L62.7,323.2 L62.9,322.8 L63.2,322.2 L63.5,322.0 L64.0,321.7 L64.5,321.5 L65.2,321.4 L65.8,321.5 L66.3,321.8 L66.8,322.0 L67.2,322.4 L67.6,322.8 L68.0,323.2 L68.2,323.6 L68.5,324.2 L68.6,324.8 L68.6,325.5 L68.4,326.0 L68.0,326.5 L67.8,326.8 L67.2,327.1 L66.8,327.3 L66.0,327.5Z" fill="#000" fill-opacity="0.022" stroke="#888" stroke-width="0.75"/>
<path d="M66.0,329.0 L65.2,329.1 L64.5,329.0 L64.0,328.9 L63.5,328.6 L63.0,328.4 L62.5,328.0 L62.2,327.7 L61.8,327.2 L61.5,326.8 L61.2,326.4 L61.0,325.8 L60.9,325.2 L60.9,324.5 L61.0,323.8 L61.1,323.2 L61.3,322.8 L61.5,322.2 L61.8,321.8 L62.2,321.2 L62.5,321.0 L63.0,320.6 L63.5,320.3 L64.0,320.1 L64.5,320.0 L65.2,319.9 L66.0,320.0 L66.5,320.2 L67.0,320.4 L67.5,320.7 L67.9,321.0 L68.2,321.3 L68.7,321.8 L69.0,322.1 L69.2,322.5 L69.5,323.0 L69.8,323.5 L70.0,324.2 L70.0,324.8 L70.0,325.4 L69.8,326.0 L69.6,326.5 L69.3,327.0 L69.0,327.4 L68.6,327.8 L68.2,328.1 L67.8,328.4 L67.2,328.7 L66.8,328.8 L66.2,329.0Z" fill="#000" fill-opacity="0.022" stroke="#888" stroke-width="0.75"/>
<path d="M66.5,330.3 L65.8,330.4 L65.0,330.4 L64.2,330.3 L63.8,330.2 L63.1,330.0 L62.6,329.8 L62.1,329.5 L61.8,329.2 L61.2,328.8 L60.9,328.5 L60.5,328.0 L60.2,327.6 L60.0,327.2 L59.8,326.7 L59.5,326.0 L59.4,325.5 L59.4,324.8 L59.5,324.0 L59.6,323.5 L59.7,322.8 L59.9,322.2 L60.1,321.8 L60.4,321.2 L60.8,320.9 L61.1,320.5 L61.5,320.1 L62.0,319.8 L62.3,319.5 L62.8,319.2 L63.2,319.0 L63.9,318.8 L64.5,318.6 L65.2,318.5 L65.6,318.5 L66.2,318.6 L66.8,318.8 L67.3,319.0 L67.8,319.3 L68.2,319.6 L68.8,320.0 L69.1,320.2 L69.5,320.6 L69.9,321.0 L70.2,321.4 L70.5,321.8 L70.8,322.2 L71.0,322.8 L71.2,323.5 L71.3,324.0 L71.4,324.8 L71.3,325.5 L71.2,326.0 L71.0,326.5 L70.7,327.0 L70.4,327.5 L70.1,328.0 L69.8,328.4 L69.4,328.8 L69.0,329.1 L68.5,329.5 L68.0,329.8 L67.5,330.0 L67.0,330.2 L66.5,330.3Z" fill="#000" fill-opacity="0.022" stroke="#888" stroke-width="0.75"/>
<path d="M66.8,331.6 L66.0,331.7 L65.2,331.7 L64.5,331.7 L63.8,331.5 L63.2,331.4 L62.8,331.2 L62.2,331.0 L61.7,330.8 L61.2,330.5 L60.8,330.1 L60.4,329.8 L60.0,329.3 L59.7,329.0 L59.4,328.5 L59.0,328.0 L58.8,327.5 L58.5,327.0 L58.3,326.5 L58.2,326.0 L58.1,325.2 L58.2,324.5 L58.2,323.8 L58.3,323.2 L58.5,322.5 L58.6,322.0 L58.8,321.5 L59.1,321.0 L59.4,320.5 L59.8,320.1 L60.1,319.8 L60.5,319.4 L61.0,319.0 L61.3,318.8 L61.8,318.4 L62.2,318.1 L62.8,317.9 L63.2,317.7 L63.9,317.5 L64.5,317.4 L65.2,317.3 L66.0,317.3 L66.8,317.4 L67.2,317.5 L67.8,317.8 L68.2,318.1 L68.8,318.5 L69.1,318.8 L69.5,319.0 L70.0,319.4 L70.4,319.8 L70.8,320.0 L71.2,320.5 L71.5,320.8 L71.8,321.2 L72.1,321.8 L72.3,322.2 L72.5,322.8 L72.7,323.5 L72.7,324.2 L72.7,325.0 L72.5,325.8 L72.4,326.2 L72.2,326.8 L72.0,327.3 L71.7,327.8 L71.4,328.2 L71.0,328.8 L70.8,329.1 L70.3,329.5 L70.0,329.8 L69.5,330.2 L69.1,330.5 L68.7,330.8 L68.2,331.0 L67.7,331.2 L67.0,331.5Z" fill="#000" fill-opacity="0.022" stroke="#888" stroke-width="0.75"/>
<path d="M65.8,333.3 L65.2,333.2 L64.5,333.1 L63.9,333.0 L63.2,332.8 L62.8,332.7 L62.2,332.5 L61.6,332.2 L61.1,332.0 L60.7,331.8 L60.2,331.5 L59.8,331.0 L59.5,330.8 L59.0,330.3 L58.8,330.0 L58.4,329.5 L58.1,329.0 L57.8,328.5 L57.5,328.0 L57.3,327.5 L57.1,327.0 L57.0,326.5 L56.9,325.8 L56.8,325.0 L56.9,324.2 L57.0,323.5 L57.1,323.0 L57.2,322.2 L57.3,321.8 L57.5,321.2 L57.8,320.7 L58.0,320.2 L58.4,319.8 L58.8,319.3 L59.0,319.0 L59.5,318.6 L59.9,318.2 L60.2,317.9 L60.8,317.6 L61.2,317.2 L61.6,317.0 L62.1,316.8 L62.7,316.5 L63.2,316.4 L63.9,316.2 L64.5,316.2 L65.2,316.1 L66.0,316.1 L66.8,316.1 L67.4,316.2 L68.0,316.4 L68.5,316.7 L69.0,317.0 L69.3,317.2 L69.8,317.6 L70.2,318.0 L70.6,318.2 L71.0,318.6 L71.5,319.0 L71.8,319.2 L72.2,319.7 L72.5,320.0 L72.9,320.5 L73.2,321.0 L73.5,321.5 L73.7,322.0 L73.9,322.5 L74.0,323.1 L74.1,323.8 L74.1,324.5 L74.1,325.2 L74.0,325.8 L73.8,326.5 L73.6,327.0 L73.4,327.5 L73.2,328.0 L72.9,328.5 L72.6,329.0 L72.2,329.5 L72.0,329.8 L71.6,330.2 L71.2,330.6 L70.8,331.0 L70.4,331.2 L70.0,331.5 L69.5,331.8 L69.0,332.1 L68.5,332.4 L68.0,332.6 L67.5,332.9 L67.0,333.0 L66.2,333.2 L65.8,333.3Z" fill="#000" fill-opacity="0.022" stroke="#888" stroke-width="0.75"/>
<path d="M67.2,334.5 L66.5,334.7 L65.8,334.7 L65.0,334.7 L64.2,334.5 L63.8,334.4 L63.0,334.2 L62.5,334.1 L62.0,333.9 L61.5,333.7 L61.0,333.5 L60.5,333.2 L60.0,332.9 L59.5,332.5 L59.2,332.2 L58.8,331.9 L58.4,331.5 L58.0,331.1 L57.7,330.8 L57.3,330.2 L57.0,329.9 L56.8,329.5 L56.5,329.0 L56.2,328.5 L56.0,327.8 L55.9,327.2 L55.7,326.8 L55.6,326.0 L55.6,325.2 L55.6,324.5 L55.7,323.8 L55.8,323.2 L55.9,322.5 L56.0,322.0 L56.2,321.2 L56.4,320.8 L56.7,320.2 L57.0,319.8 L57.2,319.3 L57.5,319.0 L57.9,318.5 L58.2,318.2 L58.7,317.8 L59.0,317.5 L59.5,317.0 L59.8,316.8 L60.2,316.4 L60.8,316.1 L61.2,315.8 L61.8,315.6 L62.2,315.4 L62.9,315.2 L63.5,315.2 L64.2,315.1 L65.0,315.0 L65.6,315.0 L66.2,315.0 L66.8,315.0 L67.5,315.1 L68.2,315.2 L68.8,315.5 L69.2,315.7 L69.7,316.0 L70.0,316.2 L70.5,316.6 L71.0,317.0 L71.3,317.2 L71.8,317.6 L72.2,318.0 L72.5,318.3 L73.0,318.8 L73.2,319.0 L73.6,319.5 L74.0,320.0 L74.2,320.4 L74.5,320.8 L74.8,321.3 L75.0,322.0 L75.2,322.5 L75.3,323.0 L75.4,323.8 L75.4,324.5 L75.4,325.2 L75.3,326.0 L75.2,326.5 L75.0,327.2 L74.8,327.8 L74.6,328.2 L74.4,328.8 L74.2,329.2 L73.9,329.8 L73.5,330.2 L73.2,330.6 L72.9,331.0 L72.5,331.5 L72.2,331.8 L71.8,332.1 L71.2,332.5 L70.8,332.8 L70.4,333.0 L69.9,333.2 L69.5,333.5 L69.0,333.8 L68.5,334.0 L68.0,334.2 L67.3,334.5Z" fill="#000" fill-opacity="0.022" stroke="#888" stroke-width="0.75"/>
<rect x="63.5" y="339.7" width="0.9" height="0.9" fill="#aaa"/>
<rect x="51.2" y="336.6" width="0.9" height="0.9" fill="#aaa"/>
<rect x="59.3" y="321.6" width="0.9" height="0.9" fill="#aaa"/>
<rect x="85.2" y="326.6" width="0.9" height="0.9" fill="#aaa"/>
<rect x="61.9" y="333.4" width="0.9" height="0.9" fill="#aaa"/>
<rect x="75.9" y="324.3" width="0.9" height="0.9" fill="#aaa"/>
<rect x="69.4" y="313.0" width="0.9" height="0.9" fill="#aaa"/>
<rect x="58.0" y="319.4" width="0.9" height="0.9" fill="#aaa"/>
<rect x="46.4" y="306.6" width="0.9" height="0.9" fill="#aaa"/>
<rect x="42.9" y="321.8" width="0.9" height="0.9" fill="#aaa"/>
<rect x="60.3" y="320.9" width="0.9" height="0.9" fill="#aaa"/>
<rect x="63.2" y="308.7" width="0.9" height="0.9" fill="#aaa"/>
<rect x="61.4" y="327.6" width="0.9" height="0.9" fill="#aaa"/>
<rect x="71.4" y="314.5" width="0.9" height="0.9" fill="#aaa"/>
<rect x="57.6" y="300.5" width="0.9" height="0.9" fill="#aaa"/>
<rect x="56.3" y="298.3" width="0.9" height="0.9" fill="#aaa"/>
<rect x="45.4" y="337.9" width="0.9" height="0.9" fill="#aaa"/>
<rect x="36.0" y="334.3" width="0.9" height="0.9" fill="#aaa"/>
<rect x="66.3" y="320.9" width="0.9" height="0.9" fill="#aaa"/>
<rect x="67.9" y="331.0" width="0.9" height="0.9" fill="#aaa"/>
<rect x="74.9" y="321.9" width="0.9" height="0.9" fill="#aaa"/>
<rect x="55.3" y="317.4" width="0.9" height="0.9" fill="#aaa"/>
<rect x="50.6" y="324.2" width="0.9" height="0.9" fill="#aaa"/>
<rect x="53.0" y="337.5" width="0.9" height="0.9" fill="#aaa"/>
<rect x="40.0" y="311.6" width="0.9" height="0.9" fill="#aaa"/>
<rect x="51.0" y="299.6" width="0.9" height="0.9" fill="#aaa"/>
<rect x="85.2" y="295.8" width="0.9" height="0.9" fill="#aaa"/>
<rect x="59.0" y="318.4" width="0.9" height="0.9" fill="#aaa"/>
<rect x="82.3" y="300.9" width="0.9" height="0.9" fill="#aaa"/>
<rect x="75.3" y="315.9" width="0.9" height="0.9" fill="#aaa"/>
<rect x="60.5" y="316.6" width="0.9" height="0.9" fill="#aaa"/>
<rect x="70.1" y="311.0" width="0.9" height="0.9" fill="#aaa"/>
<rect x="61.4" y="328.9" width="0.9" height="0.9" fill="#aaa"/>
<rect x="84.5" y="295.8" width="0.9" height="0.9" fill="#aaa"/>
<rect x="80.7" y="336.1" width="0.9" height="0.9" fill="#aaa"/>
<rect x="56.6" y="328.4" width="0.9" height="0.9" fill="#aaa"/>
<rect x="56.8" y="344.5" width="0.9" height="0.9" fill="#aaa"/>
<rect x="64.9" y="322.1" width="0.9" height="0.9" fill="#aaa"/>
<rect x="59.7" y="322.3" width="0.9" height="0.9" fill="#aaa"/>
<rect x="60.3" y="314.1" width="0.9" height="0.9" fill="#aaa"/>
<path d="M136.7,329.8 L135.9,329.9 L135.2,329.9 L134.6,329.8 L134.2,329.5 L133.8,329.0 L133.7,328.5 L133.7,328.0 L133.9,327.3 L134.2,326.8 L134.4,326.5 L134.8,326.0 L135.2,325.5 L135.5,325.2 L136.2,325.1 L136.9,325.2 L137.3,325.5 L137.7,325.9 L138.0,326.2 L138.3,326.8 L138.5,327.2 L138.7,328.0 L138.5,328.8 L138.2,329.1 L137.7,329.5 L137.2,329.7 L136.7,329.8Z" fill="#000" fill-opacity="0.022" stroke="#555" stroke-width="0.75"/>
<path d="M136.9,331.0 L136.2,331.1 L135.4,331.1 L134.7,331.1 L134.2,330.9 L133.7,330.7 L133.2,330.3 L132.9,330.0 L132.7,329.5 L132.4,329.0 L132.2,328.2 L132.2,327.8 L132.3,327.2 L132.4,326.7 L132.7,326.1 L132.9,325.7 L133.2,325.2 L133.5,324.8 L133.9,324.3 L134.2,324.0 L134.7,323.6 L135.2,323.3 L135.7,323.2 L136.4,323.1 L136.9,323.3 L137.4,323.5 L137.9,323.9 L138.3,324.2 L138.7,324.6 L139.0,325.0 L139.4,325.5 L139.7,326.0 L139.9,326.5 L140.1,327.0 L140.3,327.5 L140.3,328.2 L140.2,328.8 L139.9,329.3 L139.7,329.8 L139.2,330.2 L138.8,330.5 L138.2,330.8 L137.7,330.9 L137.1,331.0Z" fill="#000" fill-opacity="0.022" stroke="#555" stroke-width="0.75"/>
<path d="M132.9,311.8 L132.4,311.7 L131.9,311.4 L131.5,311.0 L131.2,310.7 L130.9,310.2 L130.6,309.8 L130.5,309.0 L130.8,308.5 L131.2,308.2 L131.9,308.1 L132.6,308.2 L132.9,308.5 L133.2,309.0 L133.4,309.8 L133.4,310.5 L133.4,311.2 L133.0,311.8Z" fill="#000" fill-opacity="0.022" stroke="#555" stroke-width="0.75"/>
<path d="M138.2,332.1 L137.4,332.2 L136.7,332.2 L135.9,332.2 L135.2,332.2 L134.4,332.1 L133.9,332.0 L133.4,331.7 L132.9,331.4 L132.6,331.0 L132.2,330.6 L131.9,330.2 L131.6,329.8 L131.3,329.2 L131.1,328.8 L130.9,328.2 L130.8,327.5 L130.8,326.8 L130.9,326.2 L131.2,325.5 L131.4,325.0 L131.7,324.5 L131.9,324.1 L132.2,323.8 L132.7,323.3 L133.0,323.0 L133.4,322.6 L133.9,322.2 L134.3,322.0 L134.9,321.8 L135.4,321.6 L136.2,321.6 L136.7,321.8 L137.4,322.0 L137.9,322.2 L138.2,322.5 L138.7,322.9 L139.1,323.2 L139.4,323.6 L139.8,324.0 L140.2,324.5 L140.4,324.8 L140.8,325.2 L141.1,325.8 L141.3,326.2 L141.5,326.8 L141.6,327.5 L141.5,328.2 L141.4,328.8 L141.2,329.4 L140.9,330.0 L140.7,330.4 L140.4,330.8 L139.9,331.2 L139.5,331.5 L139.1,331.8 L138.4,332.0Z" fill="#000" fill-opacity="0.022" stroke="#555" stroke-width="0.75"/>
<path d="M133.7,316.0 L132.9,316.0 L132.5,315.8 L132.2,315.5 L131.7,315.1 L131.3,314.8 L130.9,314.4 L130.6,314.0 L130.2,313.5 L129.9,313.1 L129.7,312.7 L129.4,312.1 L129.2,311.5 L129.1,311.0 L128.9,310.5 L128.7,309.8 L128.7,309.2 L128.7,308.7 L128.9,308.0 L129.2,307.5 L129.4,307.1 L129.9,306.8 L130.3,306.5 L130.9,306.3 L131.4,306.2 L132.2,306.1 L132.9,306.2 L133.4,306.3 L134.1,306.5 L134.6,306.8 L134.9,307.1 L135.3,307.5 L135.5,308.0 L135.7,308.5 L135.9,309.2 L136.1,309.8 L136.3,310.2 L136.4,310.8 L136.5,311.5 L136.4,312.2 L136.3,312.8 L136.1,313.2 L135.9,313.8 L135.6,314.2 L135.3,314.8 L134.9,315.2 L134.6,315.5 L134.2,315.8 L133.7,316.0Z" fill="#000" fill-opacity="0.022" stroke="#555" stroke-width="0.75"/>
<path d="M138.2,333.3 L137.4,333.4 L136.7,333.4 L135.9,333.4 L135.2,333.4 L134.4,333.3 L133.9,333.1 L133.4,332.9 L132.9,332.6 L132.6,332.2 L132.2,331.9 L131.8,331.5 L131.4,331.1 L131.1,330.8 L130.7,330.2 L130.4,329.8 L130.2,329.4 L129.9,328.9 L129.7,328.2 L129.6,327.8 L129.6,327.0 L129.7,326.2 L129.8,325.8 L130.0,325.2 L130.2,324.7 L130.4,324.1 L130.7,323.6 L130.9,323.2 L131.2,322.8 L131.6,322.2 L131.9,321.9 L132.3,321.5 L132.7,321.1 L133.0,320.8 L133.4,320.4 L133.9,320.1 L134.6,320.0 L135.2,320.0 L135.7,320.1 L136.4,320.2 L136.9,320.4 L137.4,320.7 L137.9,320.9 L138.4,321.2 L138.8,321.5 L139.2,321.8 L139.6,322.2 L139.9,322.6 L140.3,323.0 L140.7,323.5 L140.9,323.8 L141.3,324.2 L141.7,324.7 L141.9,325.1 L142.2,325.5 L142.4,326.1 L142.6,326.8 L142.7,327.5 L142.6,328.2 L142.4,329.0 L142.3,329.5 L142.2,330.0 L141.9,330.6 L141.7,331.0 L141.3,331.5 L140.9,331.9 L140.5,332.2 L140.1,332.5 L139.7,332.8 L139.1,333.0 L138.4,333.2Z" fill="#000" fill-opacity="0.022" stroke="#555" stroke-width="0.75"/>
<path d="M138.4,334.3 L137.7,334.4 L136.9,334.4 L136.2,334.4 L135.4,334.4 L134.7,334.4 L134.1,334.2 L133.4,334.0 L133.0,333.8 L132.6,333.5 L132.2,333.2 L131.8,332.8 L131.4,332.4 L131.0,332.0 L130.7,331.7 L130.3,331.2 L129.9,330.8 L129.7,330.5 L129.4,330.0 L129.1,329.5 L128.9,329.0 L128.7,328.4 L128.6,327.8 L128.6,327.0 L128.7,326.2 L128.8,325.8 L128.9,325.1 L129.1,324.5 L129.3,324.0 L129.5,323.5 L129.7,322.9 L129.9,322.4 L130.2,321.9 L130.4,321.4 L130.7,320.8 L130.9,320.2 L131.0,319.8 L131.1,319.0 L131.0,318.2 L130.9,317.8 L130.7,317.0 L130.5,316.5 L130.3,316.0 L130.0,315.5 L129.7,315.1 L129.4,314.8 L129.1,314.2 L128.8,313.8 L128.5,313.2 L128.3,312.8 L128.1,312.2 L127.9,311.8 L127.7,311.1 L127.5,310.5 L127.5,309.9 L127.4,309.2 L127.5,308.7 L127.6,308.0 L127.8,307.5 L128.1,307.0 L128.4,306.5 L128.7,306.2 L129.2,305.8 L129.5,305.5 L129.9,305.2 L130.5,305.0 L131.2,304.8 L131.9,304.8 L132.4,304.7 L132.9,304.8 L133.7,304.9 L134.4,305.0 L134.9,305.2 L135.4,305.4 L135.9,305.8 L136.2,306.1 L136.5,306.5 L136.7,307.0 L136.9,307.6 L137.1,308.2 L137.3,308.8 L137.4,309.3 L137.6,310.0 L137.7,310.5 L137.9,311.2 L137.9,312.0 L137.8,312.8 L137.7,313.4 L137.5,314.0 L137.3,314.5 L137.0,315.0 L136.8,315.5 L136.6,316.0 L136.4,316.5 L136.3,317.2 L136.4,318.0 L136.7,318.4 L137.0,318.8 L137.4,319.1 L137.9,319.5 L138.4,319.8 L138.8,320.0 L139.2,320.3 L139.7,320.8 L139.9,321.1 L140.3,321.5 L140.7,322.0 L140.9,322.3 L141.3,322.8 L141.7,323.2 L142.0,323.5 L142.4,324.0 L142.7,324.4 L142.9,324.8 L143.2,325.3 L143.4,325.9 L143.6,326.5 L143.7,327.2 L143.6,328.0 L143.6,328.8 L143.4,329.4 L143.3,330.0 L143.2,330.5 L142.9,331.1 L142.7,331.5 L142.3,332.0 L141.9,332.4 L141.6,332.8 L141.2,333.0 L140.7,333.4 L140.2,333.7 L139.7,333.9 L139.2,334.1 L138.6,334.2Z" fill="#000" fill-opacity="0.022" stroke="#555" stroke-width="0.75"/>
<path d="M135.4,335.5 L134.9,335.5 L134.2,335.4 L133.6,335.2 L133.0,335.0 L132.6,334.8 L132.2,334.5 L131.7,334.1 L131.3,333.8 L130.9,333.4 L130.5,333.0 L130.2,332.7 L129.7,332.2 L129.4,332.0 L129.0,331.5 L128.7,331.1 L128.4,330.7 L128.2,330.2 L128.0,329.7 L127.7,329.0 L127.6,328.5 L127.5,327.8 L127.5,327.0 L127.6,326.2 L127.7,325.7 L127.9,325.0 L128.0,324.5 L128.1,323.8 L128.3,323.2 L128.4,322.5 L128.6,322.0 L128.7,321.5 L128.9,320.8 L129.1,320.2 L129.2,319.7 L129.3,319.0 L129.3,318.2 L129.2,317.5 L129.1,317.0 L128.9,316.5 L128.6,316.0 L128.3,315.5 L128.0,315.0 L127.7,314.6 L127.5,314.2 L127.2,313.7 L127.0,313.1 L126.7,312.5 L126.5,312.0 L126.4,311.5 L126.3,310.8 L126.2,310.2 L126.1,309.5 L126.2,308.8 L126.2,308.2 L126.5,307.6 L126.7,307.0 L127.0,306.6 L127.2,306.2 L127.6,305.8 L128.0,305.3 L128.2,305.0 L128.7,304.6 L129.1,304.2 L129.5,304.0 L130.1,303.8 L130.7,303.5 L131.2,303.4 L131.9,303.4 L132.7,303.3 L133.4,303.4 L134.2,303.4 L134.7,303.6 L135.3,303.8 L135.8,304.0 L136.2,304.2 L136.7,304.6 L137.0,305.0 L137.4,305.5 L137.7,306.0 L137.9,306.5 L138.1,307.0 L138.3,307.5 L138.4,308.0 L138.7,308.8 L138.8,309.2 L138.9,310.0 L139.0,310.5 L139.1,311.2 L139.2,312.0 L139.2,312.5 L139.2,313.0 L139.1,313.8 L138.9,314.3 L138.7,315.0 L138.5,315.5 L138.4,316.0 L138.3,316.8 L138.4,317.4 L138.7,317.8 L139.0,318.2 L139.4,318.7 L139.8,319.0 L140.2,319.5 L140.5,319.8 L140.9,320.2 L141.2,320.7 L141.4,321.1 L141.8,321.5 L142.2,322.0 L142.4,322.3 L142.9,322.8 L143.2,323.1 L143.5,323.5 L143.8,324.0 L144.1,324.5 L144.3,325.0 L144.5,325.5 L144.6,326.2 L144.7,326.9 L144.7,327.5 L144.7,328.2 L144.7,328.8 L144.6,329.5 L144.5,330.2 L144.4,330.8 L144.2,331.2 L143.9,331.8 L143.6,332.2 L143.2,332.7 L142.9,333.0 L142.4,333.4 L142.0,333.8 L141.7,334.0 L141.2,334.4 L140.7,334.7 L140.2,334.9 L139.7,335.1 L139.1,335.2 L138.4,335.4 L137.7,335.4 L136.9,335.4 L136.2,335.5 L135.6,335.5Z" fill="#000" fill-opacity="0.022" stroke="#777" stroke-width="0.75"/>
<path d="M137.4,336.5 L136.7,336.5 L135.9,336.6 L135.2,336.6 L134.4,336.5 L133.9,336.5 L133.3,336.2 L132.7,336.0 L132.2,335.8 L131.8,335.5 L131.4,335.2 L130.9,334.9 L130.5,334.5 L130.2,334.2 L129.7,333.8 L129.4,333.5 L128.9,333.1 L128.6,332.8 L128.2,332.3 L128.0,332.0 L127.6,331.5 L127.3,331.0 L127.1,330.5 L126.9,330.0 L126.7,329.4 L126.5,328.8 L126.5,328.0 L126.5,327.2 L126.5,326.5 L126.6,325.8 L126.7,325.2 L126.8,324.5 L127.0,323.8 L127.0,323.2 L127.2,322.5 L127.3,322.0 L127.4,321.2 L127.5,320.8 L127.6,320.0 L127.7,319.2 L127.7,318.5 L127.6,317.8 L127.4,317.2 L127.2,316.7 L127.0,316.2 L126.7,315.7 L126.5,315.2 L126.2,314.7 L126.0,314.2 L125.7,313.5 L125.5,313.0 L125.4,312.5 L125.2,311.8 L125.1,311.2 L125.0,310.5 L125.0,309.8 L124.9,309.2 L125.0,308.8 L125.0,308.0 L125.2,307.4 L125.5,306.8 L125.7,306.4 L126.0,306.0 L126.3,305.5 L126.7,305.0 L127.0,304.7 L127.3,304.2 L127.7,303.8 L128.0,303.5 L128.4,303.2 L128.9,302.9 L129.4,302.6 L129.9,302.4 L130.4,302.2 L131.2,302.1 L131.9,302.0 L132.4,302.0 L133.2,302.0 L133.9,302.0 L134.4,302.1 L135.2,302.2 L135.7,302.5 L136.2,302.7 L136.6,303.0 L137.0,303.2 L137.4,303.6 L137.8,304.0 L138.2,304.5 L138.4,304.8 L138.7,305.2 L139.0,305.8 L139.2,306.2 L139.4,306.8 L139.7,307.4 L139.9,308.0 L140.0,308.5 L140.2,309.1 L140.3,309.8 L140.4,310.5 L140.5,311.0 L140.5,311.8 L140.5,312.5 L140.5,313.2 L140.4,313.8 L140.4,314.5 L140.3,315.2 L140.3,316.0 L140.4,316.8 L140.6,317.2 L140.8,317.8 L141.1,318.2 L141.4,318.8 L141.7,319.2 L141.9,319.6 L142.2,320.0 L142.6,320.5 L142.9,321.0 L143.2,321.3 L143.6,321.8 L143.9,322.1 L144.2,322.5 L144.6,323.0 L144.9,323.5 L145.2,324.0 L145.4,324.5 L145.6,325.0 L145.7,325.5 L145.9,326.2 L145.9,327.0 L145.9,327.8 L145.8,328.5 L145.8,329.2 L145.7,330.0 L145.6,330.5 L145.4,331.2 L145.2,331.8 L144.9,332.2 L144.7,332.6 L144.4,333.0 L143.9,333.5 L143.7,333.8 L143.2,334.2 L142.8,334.5 L142.4,334.8 L141.9,335.2 L141.5,335.5 L141.1,335.8 L140.5,336.0 L139.9,336.2 L139.4,336.3 L138.7,336.4 L137.9,336.5 L137.4,336.5Z" fill="#000" fill-opacity="0.022" stroke="#777" stroke-width="0.75"/>
<path d="M139.2,337.5 L138.4,337.6 L137.7,337.7 L136.9,337.7 L136.2,337.7 L135.4,337.7 L134.7,337.7 L133.9,337.6 L133.4,337.5 L132.8,337.2 L132.3,337.0 L131.8,336.8 L131.3,336.5 L130.9,336.2 L130.4,335.9 L129.9,335.6 L129.5,335.2 L129.2,335.0 L128.7,334.5 L128.4,334.2 L128.0,333.8 L127.7,333.5 L127.2,333.0 L127.0,332.7 L126.7,332.2 L126.4,331.8 L126.1,331.2 L125.9,330.8 L125.7,330.1 L125.5,329.5 L125.4,329.0 L125.3,328.2 L125.3,327.5 L125.4,326.8 L125.4,326.0 L125.5,325.5 L125.6,324.8 L125.7,324.0 L125.8,323.5 L125.9,322.8 L126.0,322.2 L126.1,321.5 L126.2,320.8 L126.2,320.2 L126.2,319.7 L126.1,319.0 L126.0,318.2 L125.8,317.8 L125.7,317.2 L125.5,316.6 L125.2,316.0 L125.0,315.5 L124.8,315.0 L124.6,314.5 L124.5,313.9 L124.2,313.2 L124.1,312.8 L124.0,312.0 L123.9,311.5 L123.8,310.8 L123.8,310.0 L123.8,309.2 L123.8,308.5 L123.9,307.8 L124.0,307.2 L124.2,306.7 L124.5,306.1 L124.7,305.6 L125.0,305.2 L125.3,304.8 L125.7,304.2 L126.0,303.9 L126.2,303.5 L126.7,303.0 L127.0,302.8 L127.5,302.3 L127.9,302.0 L128.3,301.8 L128.8,301.5 L129.4,301.2 L129.9,301.1 L130.4,300.9 L131.2,300.8 L131.7,300.7 L132.4,300.6 L133.2,300.6 L133.9,300.6 L134.7,300.8 L135.2,300.9 L135.7,301.1 L136.2,301.3 L136.7,301.6 L137.2,301.9 L137.7,302.2 L138.0,302.5 L138.4,302.9 L138.8,303.2 L139.2,303.7 L139.5,304.0 L139.8,304.5 L140.2,305.0 L140.4,305.5 L140.7,306.0 L140.9,306.5 L141.1,307.0 L141.3,307.5 L141.4,308.1 L141.6,308.8 L141.7,309.2 L141.8,310.0 L141.9,310.8 L141.9,311.5 L141.8,312.2 L141.8,313.0 L141.8,313.8 L141.8,314.5 L141.8,315.2 L141.9,316.0 L142.0,316.5 L142.2,317.1 L142.4,317.7 L142.7,318.2 L142.9,318.6 L143.2,319.1 L143.5,319.5 L143.8,320.0 L144.2,320.5 L144.4,320.8 L144.8,321.2 L145.2,321.8 L145.4,322.1 L145.7,322.5 L146.0,323.0 L146.3,323.5 L146.5,324.0 L146.7,324.5 L146.9,325.1 L147.1,325.8 L147.2,326.5 L147.2,327.2 L147.2,328.0 L147.1,328.8 L147.1,329.5 L147.0,330.2 L146.9,330.8 L146.7,331.4 L146.4,332.0 L146.2,332.5 L145.9,332.9 L145.7,333.3 L145.3,333.8 L144.9,334.2 L144.6,334.5 L144.2,334.9 L143.8,335.2 L143.4,335.5 L142.9,335.9 L142.5,336.2 L142.1,336.5 L141.6,336.8 L141.1,337.0 L140.4,337.2 L139.9,337.4 L139.4,337.5Z" fill="#000" fill-opacity="0.022" stroke="#777" stroke-width="0.75"/>
<rect x="130.1" y="325.3" width="0.9" height="0.9" fill="#aaa"/>
<rect x="129.5" y="319.0" width="0.9" height="0.9" fill="#aaa"/>
<rect x="135.9" y="332.4" width="0.9" height="0.9" fill="#aaa"/>
<rect x="126.5" y="316.3" width="0.9" height="0.9" fill="#aaa"/>
<rect x="155.2" y="327.1" width="0.9" height="0.9" fill="#aaa"/>
<rect x="141.2" y="313.7" width="0.9" height="0.9" fill="#aaa"/>
<rect x="117.8" y="324.4" width="0.9" height="0.9" fill="#aaa"/>
<rect x="121.9" y="308.1" width="0.9" height="0.9" fill="#aaa"/>
<rect x="116.4" y="314.7" width="0.9" height="0.9" fill="#aaa"/>
<rect x="145.2" y="315.6" width="0.9" height="0.9" fill="#aaa"/>
<rect x="114.5" y="328.8" width="0.9" height="0.9" fill="#aaa"/>
<rect x="132.7" y="330.9" width="0.9" height="0.9" fill="#aaa"/>
<rect x="146.3" y="318.8" width="0.9" height="0.9" fill="#aaa"/>
<rect x="130.2" y="320.2" width="0.9" height="0.9" fill="#aaa"/>
<rect x="118.3" y="328.8" width="0.9" height="0.9" fill="#aaa"/>
<rect x="148.4" y="322.9" width="0.9" height="0.9" fill="#aaa"/>
<rect x="129.1" y="317.7" width="0.9" height="0.9" fill="#aaa"/>
<rect x="122.5" y="311.1" width="0.9" height="0.9" fill="#aaa"/>
<rect x="127.1" y="310.7" width="0.9" height="0.9" fill="#aaa"/>
<rect x="126.7" y="301.9" width="0.9" height="0.9" fill="#aaa"/>
<rect x="136.1" y="321.4" width="0.9" height="0.9" fill="#aaa"/>
<rect x="118.1" y="293.2" width="0.9" height="0.9" fill="#aaa"/>
<rect x="131.8" y="334.0" width="0.9" height="0.9" fill="#aaa"/>
<rect x="123.1" y="315.0" width="0.9" height="0.9" fill="#aaa"/>
<rect x="125.1" y="328.6" width="0.9" height="0.9" fill="#aaa"/>
<rect x="120.9" y="332.6" width="0.9" height="0.9" fill="#aaa"/>
<rect x="128.3" y="331.9" width="0.9" height="0.9" fill="#aaa"/>
<rect x="132.3" y="318.0" width="0.9" height="0.9" fill="#aaa"/>
<rect x="114.2" y="312.5" width="0.9" height="0.9" fill="#aaa"/>
<rect x="128.8" y="328.7" width="0.9" height="0.9" fill="#aaa"/>
<rect x="134.8" y="312.4" width="0.9" height="0.9" fill="#aaa"/>
<rect x="136.8" y="332.6" width="0.9" height="0.9" fill="#aaa"/>
<rect x="130.1" y="315.5" width="0.9" height="0.9" fill="#aaa"/>
<rect x="127.2" y="330.5" width="0.9" height="0.9" fill="#aaa"/>
<rect x="138.4" y="309.6" width="0.9" height="0.9" fill="#aaa"/>
<rect x="136.4" y="315.0" width="0.9" height="0.9" fill="#aaa"/>
<rect x="122.9" y="335.7" width="0.9" height="0.9" fill="#aaa"/>
<path d="M206.4,309.1 L205.7,309.2 L205.2,309.0 L204.7,308.7 L204.2,308.4 L203.9,307.9 L203.7,307.6 L203.4,307.1 L203.2,306.6 L203.1,305.9 L203.2,305.4 L203.5,304.9 L203.9,304.5 L204.4,304.2 L204.9,304.0 L205.7,303.9 L206.4,304.0 L206.9,304.2 L207.3,304.6 L207.6,305.1 L207.7,305.6 L207.8,306.4 L207.8,307.1 L207.7,307.7 L207.4,308.3 L207.1,308.6 L206.7,309.0Z" fill="#000" fill-opacity="0.022" stroke="#555" stroke-width="0.75"/>
<path d="M205.9,311.1 L205.2,311.1 L204.7,311.0 L204.1,310.9 L203.7,310.5 L203.2,310.1 L202.9,309.8 L202.6,309.4 L202.3,308.9 L201.9,308.4 L201.7,308.0 L201.4,307.6 L201.1,307.1 L201.0,306.4 L201.1,305.6 L201.3,305.1 L201.5,304.6 L201.8,304.1 L202.2,303.7 L202.4,303.4 L202.9,303.0 L203.4,302.7 L203.9,302.5 L204.4,302.3 L205.2,302.1 L205.7,302.1 L206.2,302.1 L206.9,302.3 L207.4,302.6 L207.8,302.9 L208.2,303.2 L208.5,303.6 L208.8,304.1 L209.0,304.6 L209.2,305.2 L209.2,305.9 L209.3,306.6 L209.2,307.4 L209.1,307.9 L208.9,308.4 L208.7,308.9 L208.4,309.4 L208.0,309.9 L207.7,310.2 L207.2,310.6 L206.7,310.9 L206.2,311.1Z" fill="#000" fill-opacity="0.022" stroke="#555" stroke-width="0.75"/>
<path d="M205.4,313.4 L204.7,313.6 L203.9,313.4 L203.4,313.2 L202.9,312.9 L202.5,312.6 L202.2,312.3 L201.7,312.0 L201.2,311.6 L200.7,311.4 L200.3,311.1 L199.8,310.9 L199.4,310.6 L198.9,310.3 L198.5,309.9 L198.2,309.4 L198.0,308.9 L198.0,308.1 L198.2,307.5 L198.4,306.9 L198.7,306.4 L198.9,306.0 L199.2,305.6 L199.4,305.1 L199.7,304.6 L200.1,304.1 L200.4,303.7 L200.7,303.3 L201.1,302.9 L201.4,302.5 L201.8,302.1 L202.2,301.8 L202.7,301.4 L203.2,301.1 L203.7,300.9 L204.2,300.7 L204.7,300.6 L205.4,300.5 L206.2,300.5 L206.7,300.6 L207.4,300.8 L207.9,301.0 L208.4,301.4 L208.7,301.6 L209.1,302.1 L209.4,302.5 L209.7,302.9 L209.9,303.4 L210.2,303.9 L210.4,304.6 L210.5,305.1 L210.6,305.9 L210.6,306.6 L210.5,307.4 L210.4,307.9 L210.2,308.6 L210.0,309.1 L209.7,309.6 L209.4,310.1 L209.2,310.5 L208.9,310.9 L208.5,311.4 L208.2,311.7 L207.7,312.1 L207.4,312.4 L206.9,312.7 L206.4,313.0 L205.9,313.2 L205.4,313.4Z" fill="#000" fill-opacity="0.022" stroke="#555" stroke-width="0.75"/>
<path d="M204.4,316.1 L203.7,316.2 L203.1,316.1 L202.7,315.8 L202.2,315.4 L201.9,315.1 L201.5,314.6 L201.2,314.3 L200.7,313.9 L200.2,313.6 L199.7,313.4 L199.2,313.3 L198.6,313.1 L198.0,312.9 L197.6,312.6 L197.2,312.3 L196.8,311.9 L196.4,311.4 L196.2,310.9 L196.0,310.4 L195.9,309.9 L195.8,309.1 L195.9,308.5 L196.0,307.9 L196.2,307.4 L196.4,306.8 L196.7,306.3 L196.9,305.8 L197.2,305.4 L197.6,304.9 L197.9,304.4 L198.2,304.1 L198.6,303.6 L198.9,303.3 L199.3,302.9 L199.7,302.5 L200.1,302.1 L200.4,301.8 L200.8,301.4 L201.2,301.1 L201.7,300.6 L202.0,300.4 L202.4,300.1 L202.9,299.8 L203.5,299.6 L204.2,299.4 L204.7,299.3 L205.4,299.3 L206.2,299.3 L206.7,299.4 L207.4,299.6 L207.9,299.7 L208.4,299.9 L208.9,300.2 L209.4,300.5 L209.8,300.9 L210.2,301.3 L210.4,301.7 L210.7,302.1 L210.9,302.6 L211.2,303.2 L211.4,303.8 L211.6,304.4 L211.7,304.9 L211.8,305.6 L211.8,306.4 L211.7,307.1 L211.7,307.6 L211.5,308.4 L211.3,308.9 L211.1,309.4 L210.9,309.9 L210.7,310.5 L210.4,310.9 L210.1,311.4 L209.7,311.9 L209.4,312.3 L209.1,312.6 L208.7,313.1 L208.4,313.4 L207.9,313.8 L207.5,314.1 L207.2,314.4 L206.7,314.8 L206.2,315.1 L205.8,315.4 L205.4,315.6 L204.9,315.9 L204.4,316.1Z" fill="#000" fill-opacity="0.022" stroke="#555" stroke-width="0.75"/>
<path d="M207.2,330.4 L206.4,330.4 L205.8,330.4 L205.2,330.1 L204.8,329.9 L204.4,329.4 L204.2,328.9 L204.0,328.4 L203.9,327.6 L204.0,326.9 L204.1,326.1 L204.3,325.6 L204.6,325.1 L204.9,324.6 L205.3,324.4 L205.9,324.2 L206.5,324.4 L206.9,324.6 L207.4,325.0 L207.7,325.4 L208.1,325.9 L208.4,326.2 L208.7,326.6 L209.0,327.1 L209.3,327.6 L209.5,328.1 L209.5,328.9 L209.2,329.4 L208.9,329.7 L208.4,330.0 L207.9,330.2 L207.3,330.4Z" fill="#000" fill-opacity="0.022" stroke="#555" stroke-width="0.75"/>
<path d="M207.4,332.6 L206.7,332.6 L206.2,332.5 L205.6,332.4 L204.9,332.1 L204.4,331.9 L204.0,331.6 L203.7,331.3 L203.2,330.9 L202.9,330.4 L202.7,330.0 L202.4,329.4 L202.2,328.9 L202.1,328.4 L201.9,327.6 L201.9,327.1 L201.9,326.4 L201.9,325.9 L202.1,325.1 L202.2,324.6 L202.4,324.0 L202.6,323.4 L202.9,322.9 L203.1,322.4 L203.4,321.9 L203.6,321.4 L203.8,320.9 L203.7,320.2 L203.4,319.8 L202.9,319.4 L202.6,319.1 L202.2,318.8 L201.7,318.4 L201.3,318.1 L200.9,317.7 L200.6,317.4 L200.2,316.9 L199.9,316.5 L199.5,316.1 L199.2,315.8 L198.7,315.4 L198.2,315.2 L197.7,314.9 L197.2,314.6 L196.8,314.4 L196.4,314.0 L196.1,313.6 L195.7,313.1 L195.4,312.6 L195.2,312.1 L194.9,311.6 L194.8,311.1 L194.6,310.6 L194.5,309.9 L194.5,309.1 L194.5,308.4 L194.6,307.6 L194.7,307.1 L194.8,306.4 L195.0,305.9 L195.3,305.4 L195.5,304.9 L195.8,304.4 L196.1,303.9 L196.4,303.5 L196.8,303.1 L197.2,302.8 L197.7,302.4 L198.0,302.1 L198.4,301.8 L198.9,301.4 L199.3,301.1 L199.7,300.8 L200.1,300.4 L200.4,300.1 L200.9,299.7 L201.4,299.4 L201.8,299.1 L202.3,298.9 L202.9,298.6 L203.4,298.4 L203.9,298.3 L204.7,298.2 L205.4,298.2 L206.2,298.2 L206.9,298.4 L207.4,298.5 L207.9,298.6 L208.6,298.9 L209.2,299.1 L209.7,299.3 L210.0,299.6 L210.4,299.9 L210.9,300.4 L211.2,300.7 L211.5,301.1 L211.8,301.6 L212.0,302.1 L212.2,302.6 L212.4,303.1 L212.6,303.9 L212.7,304.4 L212.8,305.1 L212.8,305.9 L212.8,306.6 L212.8,307.4 L212.7,308.1 L212.6,308.6 L212.4,309.1 L212.2,309.8 L211.9,310.4 L211.7,310.9 L211.5,311.4 L211.2,311.9 L210.9,312.3 L210.7,312.6 L210.3,313.1 L209.9,313.6 L209.7,313.9 L209.3,314.4 L208.9,314.8 L208.7,315.2 L208.3,315.6 L208.0,316.1 L207.8,316.6 L207.6,317.1 L207.4,317.9 L207.2,318.4 L207.0,318.9 L206.8,319.4 L206.6,319.9 L206.6,320.6 L206.8,321.1 L207.1,321.6 L207.4,322.0 L207.7,322.4 L208.0,322.9 L208.3,323.4 L208.6,323.9 L208.9,324.3 L209.2,324.6 L209.5,325.1 L209.8,325.6 L210.2,326.0 L210.4,326.4 L210.7,326.9 L211.0,327.4 L211.3,327.9 L211.4,328.4 L211.5,329.1 L211.4,329.9 L211.2,330.4 L210.9,330.8 L210.6,331.1 L210.2,331.5 L209.7,331.8 L209.2,332.1 L208.7,332.3 L208.2,332.5 L207.4,332.6Z" fill="#000" fill-opacity="0.022" stroke="#555" stroke-width="0.75"/>
<path d="M207.4,334.4 L206.7,334.4 L206.2,334.3 L205.4,334.1 L204.9,333.9 L204.4,333.6 L203.9,333.4 L203.5,333.1 L203.1,332.9 L202.7,332.5 L202.2,332.1 L201.9,331.8 L201.5,331.4 L201.2,330.9 L201.0,330.4 L200.8,329.9 L200.6,329.4 L200.4,328.6 L200.4,328.1 L200.3,327.4 L200.3,326.6 L200.3,325.9 L200.4,325.1 L200.4,324.4 L200.4,323.9 L200.4,323.4 L200.3,322.6 L200.3,321.9 L200.2,321.2 L200.0,320.6 L199.7,320.1 L199.4,319.6 L199.2,319.3 L198.7,318.9 L198.4,318.5 L198.0,318.1 L197.7,317.7 L197.3,317.4 L196.9,316.9 L196.7,316.5 L196.3,316.1 L195.9,315.6 L195.7,315.3 L195.3,314.9 L194.9,314.4 L194.7,313.9 L194.4,313.4 L194.2,312.9 L193.9,312.4 L193.7,311.9 L193.6,311.4 L193.4,310.6 L193.3,310.1 L193.2,309.4 L193.2,308.6 L193.1,308.1 L193.1,307.4 L193.1,306.6 L193.2,306.1 L193.4,305.4 L193.6,304.9 L193.7,304.4 L193.9,303.9 L194.2,303.3 L194.4,302.8 L194.7,302.4 L195.2,301.9 L195.6,301.6 L196.0,301.4 L196.5,301.1 L196.9,300.9 L197.4,300.6 L197.9,300.2 L198.4,299.9 L198.8,299.6 L199.2,299.3 L199.7,298.9 L200.1,298.6 L200.5,298.4 L200.9,298.1 L201.4,297.8 L202.0,297.6 L202.7,297.4 L203.2,297.2 L203.7,297.1 L204.4,296.9 L204.9,296.9 L205.7,296.8 L206.2,296.9 L206.9,297.0 L207.4,297.1 L208.1,297.4 L208.7,297.6 L209.2,297.8 L209.7,298.0 L210.2,298.3 L210.6,298.6 L211.0,298.9 L211.4,299.2 L211.9,299.6 L212.2,299.9 L212.5,300.4 L212.9,300.9 L213.2,301.3 L213.4,301.8 L213.6,302.4 L213.8,302.9 L213.9,303.6 L213.9,304.1 L213.9,304.9 L213.9,305.6 L213.9,306.4 L213.9,307.1 L213.9,307.9 L213.8,308.4 L213.7,309.1 L213.5,309.6 L213.3,310.1 L213.1,310.6 L212.9,311.1 L212.7,311.7 L212.4,312.2 L212.2,312.6 L211.9,313.1 L211.5,313.6 L211.2,314.1 L210.9,314.6 L210.7,315.1 L210.4,315.6 L210.2,316.1 L210.0,316.6 L209.8,317.1 L209.6,317.6 L209.5,318.4 L209.4,318.9 L209.3,319.6 L209.3,320.4 L209.4,320.9 L209.6,321.6 L209.8,322.1 L210.0,322.6 L210.2,323.1 L210.5,323.6 L210.8,324.1 L211.1,324.6 L211.4,325.0 L211.7,325.4 L211.9,325.9 L212.2,326.4 L212.5,326.9 L212.7,327.4 L212.9,328.0 L213.0,328.6 L213.1,329.4 L213.1,330.1 L212.9,330.7 L212.7,331.3 L212.4,331.7 L212.0,332.1 L211.7,332.4 L211.2,332.8 L210.7,333.1 L210.3,333.4 L209.8,333.6 L209.3,333.9 L208.7,334.1 L208.2,334.2 L207.4,334.4Z" fill="#000" fill-opacity="0.022" stroke="#777" stroke-width="0.75"/>
<path d="M208.4,335.6 L207.7,335.8 L206.9,335.8 L206.2,335.8 L205.4,335.7 L204.9,335.5 L204.4,335.3 L203.9,335.1 L203.4,334.8 L202.9,334.5 L202.4,334.2 L202.0,333.9 L201.7,333.6 L201.2,333.1 L200.9,332.9 L200.5,332.4 L200.2,331.9 L199.9,331.5 L199.7,331.1 L199.4,330.5 L199.2,329.9 L199.1,329.4 L198.9,328.6 L198.9,328.1 L198.8,327.4 L198.8,326.6 L198.8,325.9 L198.8,325.1 L198.8,324.4 L198.7,323.6 L198.6,323.1 L198.4,322.4 L198.3,321.9 L198.1,321.4 L197.9,320.9 L197.6,320.4 L197.2,319.9 L196.9,319.5 L196.6,319.1 L196.2,318.6 L195.9,318.1 L195.7,317.7 L195.4,317.3 L195.1,316.9 L194.8,316.4 L194.5,315.9 L194.2,315.4 L193.9,314.9 L193.7,314.4 L193.4,314.0 L193.2,313.4 L192.9,312.9 L192.7,312.4 L192.5,311.9 L192.4,311.4 L192.2,310.6 L192.1,310.1 L192.0,309.4 L191.9,308.8 L191.8,308.1 L191.7,307.4 L191.7,306.6 L191.8,305.9 L191.9,305.1 L192.0,304.6 L192.2,304.1 L192.3,303.4 L192.5,302.9 L192.7,302.3 L192.9,301.7 L193.2,301.2 L193.4,300.9 L193.9,300.5 L194.4,300.1 L194.9,299.9 L195.4,299.7 L195.9,299.4 L196.4,299.2 L196.9,299.0 L197.4,298.7 L197.9,298.4 L198.4,298.1 L198.8,297.9 L199.2,297.6 L199.7,297.3 L200.2,297.0 L200.7,296.8 L201.2,296.5 L201.7,296.3 L202.3,296.1 L202.9,295.9 L203.4,295.8 L204.2,295.6 L204.7,295.5 L205.4,295.5 L206.2,295.5 L206.9,295.5 L207.4,295.6 L208.1,295.9 L208.7,296.0 L209.2,296.3 L209.7,296.5 L210.2,296.8 L210.6,297.1 L211.0,297.4 L211.4,297.6 L211.9,298.0 L212.4,298.4 L212.7,298.6 L213.1,299.1 L213.4,299.4 L213.8,299.9 L214.2,300.3 L214.4,300.7 L214.7,301.2 L214.9,301.8 L215.0,302.4 L215.1,303.1 L215.2,303.6 L215.2,304.4 L215.2,305.1 L215.2,305.9 L215.2,306.6 L215.2,307.4 L215.1,307.9 L215.1,308.6 L214.9,309.4 L214.8,309.9 L214.6,310.4 L214.4,310.9 L214.2,311.5 L213.9,312.0 L213.7,312.5 L213.4,313.0 L213.2,313.5 L212.9,313.9 L212.7,314.4 L212.4,314.9 L212.2,315.4 L211.9,316.0 L211.7,316.6 L211.4,317.1 L211.3,317.6 L211.1,318.1 L211.0,318.9 L211.0,319.6 L211.1,320.4 L211.2,320.9 L211.4,321.4 L211.7,322.0 L211.9,322.5 L212.2,322.9 L212.5,323.4 L212.8,323.9 L213.2,324.3 L213.4,324.8 L213.6,325.4 L213.8,325.9 L214.0,326.4 L214.2,327.1 L214.3,327.6 L214.4,328.1 L214.5,328.9 L214.6,329.6 L214.5,330.4 L214.4,330.9 L214.2,331.6 L213.9,332.1 L213.7,332.5 L213.4,332.9 L212.9,333.3 L212.6,333.6 L212.2,333.9 L211.7,334.2 L211.2,334.5 L210.7,334.8 L210.2,335.1 L209.7,335.3 L209.2,335.4 L208.6,335.6Z" fill="#000" fill-opacity="0.022" stroke="#777" stroke-width="0.75"/>
<path d="M207.4,337.1 L206.7,337.1 L205.9,337.1 L205.4,337.1 L204.7,336.9 L204.2,336.8 L203.7,336.6 L203.1,336.4 L202.6,336.1 L202.2,335.8 L201.7,335.5 L201.2,335.2 L200.8,334.9 L200.4,334.5 L200.0,334.1 L199.7,333.7 L199.3,333.4 L199.0,332.9 L198.7,332.4 L198.4,331.9 L198.2,331.4 L197.9,330.9 L197.8,330.4 L197.7,329.8 L197.5,329.1 L197.4,328.4 L197.4,327.9 L197.3,327.1 L197.3,326.4 L197.3,325.6 L197.3,324.9 L197.2,324.1 L197.1,323.6 L197.0,322.9 L196.8,322.4 L196.6,321.9 L196.4,321.4 L196.1,320.9 L195.7,320.4 L195.4,319.9 L195.2,319.4 L194.9,319.0 L194.7,318.5 L194.4,318.1 L194.1,317.6 L193.9,317.1 L193.6,316.6 L193.3,316.1 L193.0,315.6 L192.8,315.1 L192.5,314.6 L192.3,314.1 L192.0,313.6 L191.8,313.1 L191.6,312.6 L191.4,311.9 L191.3,311.4 L191.2,310.8 L191.0,310.1 L190.9,309.6 L190.7,308.9 L190.6,308.4 L190.5,307.6 L190.5,306.9 L190.5,306.1 L190.5,305.4 L190.6,304.6 L190.7,304.1 L190.8,303.4 L190.9,302.9 L191.0,302.1 L191.2,301.5 L191.3,300.9 L191.5,300.4 L191.8,299.9 L192.2,299.5 L192.5,299.1 L192.9,298.8 L193.4,298.5 L193.9,298.3 L194.4,298.1 L195.0,297.9 L195.7,297.6 L196.2,297.5 L196.7,297.3 L197.2,297.1 L197.7,296.8 L198.2,296.6 L198.7,296.3 L199.2,296.0 L199.7,295.7 L200.2,295.5 L200.7,295.3 L201.2,295.0 L201.7,294.9 L202.4,294.6 L202.9,294.5 L203.7,294.4 L204.2,294.3 L204.9,294.2 L205.6,294.1 L206.2,294.1 L206.7,294.1 L207.4,294.2 L208.0,294.4 L208.7,294.5 L209.2,294.7 L209.7,294.9 L210.2,295.1 L210.7,295.4 L211.2,295.7 L211.7,296.0 L212.1,296.4 L212.4,296.6 L212.9,297.0 L213.3,297.4 L213.7,297.7 L214.1,298.1 L214.4,298.4 L214.7,298.9 L215.1,299.4 L215.4,299.8 L215.7,300.2 L215.9,300.7 L216.1,301.4 L216.2,301.9 L216.4,302.6 L216.4,303.1 L216.5,303.9 L216.5,304.6 L216.6,305.4 L216.6,306.1 L216.6,306.9 L216.5,307.6 L216.4,308.4 L216.4,308.9 L216.2,309.6 L216.1,310.1 L215.9,310.8 L215.7,311.4 L215.5,311.9 L215.2,312.4 L215.0,312.9 L214.7,313.4 L214.4,313.9 L214.2,314.4 L213.9,314.9 L213.7,315.4 L213.5,315.9 L213.3,316.4 L213.1,316.9 L212.9,317.4 L212.7,318.1 L212.6,318.6 L212.6,319.4 L212.7,319.9 L212.8,320.6 L213.0,321.1 L213.3,321.6 L213.5,322.1 L213.9,322.6 L214.2,323.0 L214.4,323.4 L214.7,323.9 L214.9,324.4 L215.2,324.9 L215.4,325.6 L215.5,326.1 L215.7,326.7 L215.8,327.4 L215.9,327.9 L216.0,328.6 L216.0,329.4 L216.0,330.1 L215.9,330.6 L215.7,331.4 L215.6,331.9 L215.4,332.4 L215.2,332.9 L214.9,333.4 L214.5,333.9 L214.2,334.2 L213.7,334.6 L213.3,334.9 L212.9,335.2 L212.4,335.5 L211.9,335.8 L211.4,336.0 L210.9,336.3 L210.4,336.5 L209.9,336.6 L209.2,336.8 L208.7,337.0 L207.9,337.1 L207.4,337.1Z" fill="#000" fill-opacity="0.022" stroke="#777" stroke-width="0.75"/>
<rect x="211.3" y="305.1" width="0.9" height="0.9" fill="#aaa"/>
<rect x="202.4" y="319.8" width="0.9" height="0.9" fill="#aaa"/>
<rect x="193.8" y="312.3" width="0.9" height="0.9" fill="#aaa"/>
<rect x="209.4" y="292.3" width="0.9" height="0.9" fill="#aaa"/>
<rect x="205.4" y="322.6" width="0.9" height="0.9" fill="#aaa"/>
<rect x="207.5" y="297.7" width="0.9" height="0.9" fill="#aaa"/>
<rect x="205.3" y="303.4" width="0.9" height="0.9" fill="#aaa"/>
<rect x="208.3" y="321.0" width="0.9" height="0.9" fill="#aaa"/>
<rect x="204.0" y="304.6" width="0.9" height="0.9" fill="#aaa"/>
<rect x="194.3" y="324.0" width="0.9" height="0.9" fill="#aaa"/>
<rect x="190.6" y="319.7" width="0.9" height="0.9" fill="#aaa"/>
<rect x="207.6" y="310.4" width="0.9" height="0.9" fill="#aaa"/>
<rect x="174.5" y="325.5" width="0.9" height="0.9" fill="#aaa"/>
<rect x="209.1" y="310.0" width="0.9" height="0.9" fill="#aaa"/>
<rect x="200.8" y="290.9" width="0.9" height="0.9" fill="#aaa"/>
<rect x="193.9" y="301.4" width="0.9" height="0.9" fill="#aaa"/>
<rect x="198.8" y="324.4" width="0.9" height="0.9" fill="#aaa"/>
<rect x="202.1" y="318.2" width="0.9" height="0.9" fill="#aaa"/>
<rect x="193.1" y="308.5" width="0.9" height="0.9" fill="#aaa"/>
<rect x="202.8" y="310.4" width="0.9" height="0.9" fill="#aaa"/>
<rect x="216.6" y="303.3" width="0.9" height="0.9" fill="#aaa"/>
<rect x="224.1" y="302.0" width="0.9" height="0.9" fill="#aaa"/>
<rect x="214.1" y="304.5" width="0.9" height="0.9" fill="#aaa"/>
<rect x="221.2" y="315.4" width="0.9" height="0.9" fill="#aaa"/>
<rect x="206.2" y="322.7" width="0.9" height="0.9" fill="#aaa"/>
<rect x="193.8" y="301.3" width="0.9" height="0.9" fill="#aaa"/>
<rect x="177.1" y="328.4" width="0.9" height="0.9" fill="#aaa"/>
<rect x="193.1" y="306.7" width="0.9" height="0.9" fill="#aaa"/>
<rect x="201.1" y="337.6" width="0.9" height="0.9" fill="#aaa"/>
<rect x="180.7" y="316.8" width="0.9" height="0.9" fill="#aaa"/>
<rect x="196.7" y="320.1" width="0.9" height="0.9" fill="#aaa"/>
<rect x="179.8" y="309.0" width="0.9" height="0.9" fill="#aaa"/>
<rect x="211.5" y="332.5" width="0.9" height="0.9" fill="#aaa"/>
<rect x="220.6" y="303.5" width="0.9" height="0.9" fill="#aaa"/>
<rect x="202.1" y="312.4" width="0.9" height="0.9" fill="#aaa"/>
<rect x="184.9" y="296.5" width="0.9" height="0.9" fill="#aaa"/>
<rect x="210.5" y="316.7" width="0.9" height="0.9" fill="#aaa"/>
<rect x="199.7" y="328.4" width="0.9" height="0.9" fill="#aaa"/>
<path d="M277.9,302.9 L277.1,302.9 L276.6,302.8 L275.9,302.6 L275.4,302.4 L274.9,302.2 L274.3,302.1 L273.6,301.9 L273.1,301.8 L272.6,301.6 L271.9,301.4 L271.4,301.3 L270.6,301.1 L270.1,301.0 L269.6,300.8 L269.1,300.4 L268.9,299.9 L269.1,299.1 L269.4,298.8 L269.9,298.6 L270.5,298.6 L271.1,298.9 L271.5,299.1 L271.9,299.4 L272.4,299.6 L273.1,299.7 L273.6,299.6 L274.4,299.4 L274.9,299.2 L275.4,299.1 L276.1,299.0 L276.9,298.9 L277.6,298.9 L278.4,298.9 L279.1,299.1 L279.6,299.3 L280.1,299.6 L280.4,299.9 L280.6,300.4 L280.6,301.1 L280.4,301.6 L280.1,301.9 L279.6,302.2 L279.1,302.5 L278.6,302.7 L277.9,302.9Z" fill="#000" fill-opacity="0.022" stroke="#555" stroke-width="0.75"/>
<path d="M276.9,304.6 L276.1,304.6 L275.6,304.6 L274.9,304.4 L274.4,304.3 L273.6,304.1 L273.1,304.0 L272.6,303.8 L272.1,303.6 L271.6,303.4 L271.1,303.1 L270.6,302.9 L270.1,302.6 L269.6,302.4 L269.1,302.1 L268.6,301.8 L268.1,301.5 L267.6,301.1 L267.4,300.8 L267.2,300.1 L267.3,299.4 L267.6,298.9 L267.9,298.4 L268.1,298.1 L268.6,297.7 L269.1,297.5 L269.6,297.3 L270.4,297.3 L270.9,297.4 L271.5,297.6 L272.1,297.8 L272.6,297.9 L273.4,297.9 L274.1,297.9 L274.6,297.8 L275.4,297.7 L276.1,297.7 L276.9,297.7 L277.6,297.7 L278.4,297.8 L279.0,297.9 L279.6,298.0 L280.1,298.1 L280.7,298.4 L281.1,298.6 L281.6,299.1 L281.9,299.5 L282.1,300.0 L282.2,300.6 L282.1,301.4 L281.9,301.9 L281.6,302.2 L281.3,302.6 L280.9,303.0 L280.4,303.3 L279.9,303.6 L279.4,303.8 L278.9,304.0 L278.4,304.2 L277.9,304.4 L277.1,304.6Z" fill="#000" fill-opacity="0.022" stroke="#555" stroke-width="0.75"/>
<path d="M275.9,306.6 L275.1,306.7 L274.4,306.6 L273.9,306.4 L273.4,306.1 L272.9,305.9 L272.4,305.6 L272.0,305.4 L271.6,305.1 L271.1,304.8 L270.6,304.4 L270.1,304.1 L269.7,303.9 L269.3,303.6 L268.9,303.3 L268.4,303.0 L267.9,302.7 L267.4,302.4 L266.9,302.1 L266.6,301.9 L266.1,301.4 L265.9,300.9 L265.7,300.4 L265.8,299.6 L266.0,299.1 L266.3,298.6 L266.6,298.2 L266.9,297.9 L267.4,297.4 L267.8,297.1 L268.2,296.9 L268.8,296.6 L269.4,296.5 L270.1,296.4 L270.9,296.4 L271.6,296.6 L272.1,296.7 L272.9,296.7 L273.6,296.7 L274.4,296.6 L275.1,296.6 L275.9,296.6 L276.6,296.7 L277.4,296.7 L278.1,296.8 L278.6,296.9 L279.4,297.0 L279.9,297.1 L280.6,297.3 L281.1,297.5 L281.6,297.8 L282.1,298.1 L282.4,298.4 L282.7,298.9 L282.9,299.4 L283.1,299.9 L283.3,300.6 L283.2,301.4 L283.1,301.9 L282.8,302.4 L282.4,302.9 L282.1,303.2 L281.7,303.6 L281.4,303.9 L280.9,304.3 L280.4,304.6 L280.0,304.9 L279.5,305.1 L279.0,305.4 L278.5,305.6 L278.0,305.9 L277.5,306.1 L276.9,306.4 L276.4,306.5 L275.9,306.6Z" fill="#000" fill-opacity="0.022" stroke="#555" stroke-width="0.75"/>
<path d="M274.4,310.2 L273.6,310.3 L272.9,310.1 L272.6,309.8 L272.4,309.3 L272.1,308.7 L271.9,308.1 L271.6,307.6 L271.4,307.1 L271.1,306.8 L270.6,306.4 L270.4,306.1 L269.9,305.6 L269.5,305.4 L269.1,305.0 L268.6,304.6 L268.3,304.4 L267.9,304.0 L267.4,303.7 L266.9,303.4 L266.5,303.1 L266.1,302.8 L265.6,302.4 L265.3,302.1 L265.0,301.6 L264.7,301.1 L264.6,300.6 L264.5,299.9 L264.6,299.3 L264.9,298.6 L265.1,298.2 L265.4,297.9 L265.9,297.4 L266.3,297.1 L266.6,296.8 L267.1,296.5 L267.6,296.2 L268.1,296.0 L268.6,295.8 L269.4,295.7 L270.1,295.6 L270.4,295.6 L271.1,295.6 L271.9,295.7 L272.6,295.7 L273.4,295.7 L274.1,295.7 L274.9,295.6 L275.6,295.7 L276.4,295.7 L277.1,295.8 L277.6,295.9 L278.4,295.9 L279.1,296.1 L279.6,296.2 L280.2,296.4 L280.9,296.5 L281.4,296.7 L281.9,297.0 L282.4,297.2 L282.8,297.6 L283.1,297.9 L283.4,298.4 L283.7,298.9 L283.9,299.4 L284.1,300.0 L284.2,300.6 L284.2,301.4 L284.0,301.9 L283.9,302.4 L283.6,302.9 L283.2,303.4 L282.9,303.8 L282.6,304.1 L282.1,304.6 L281.9,304.9 L281.4,305.4 L281.1,305.6 L280.6,306.1 L280.4,306.4 L280.0,306.9 L279.6,307.4 L279.4,307.7 L278.9,308.1 L278.4,308.4 L277.9,308.6 L277.4,308.8 L276.9,309.0 L276.4,309.3 L275.9,309.5 L275.4,309.7 L274.9,310.0 L274.4,310.2Z" fill="#000" fill-opacity="0.022" stroke="#555" stroke-width="0.75"/>
<path d="M272.6,312.9 L272.1,312.8 L271.6,312.6 L271.2,312.1 L270.9,311.6 L270.7,311.1 L270.6,310.6 L270.4,309.9 L270.3,309.4 L270.2,308.6 L270.0,308.1 L269.7,307.6 L269.4,307.2 L269.1,306.9 L268.6,306.4 L268.4,306.0 L267.9,305.6 L267.6,305.3 L267.1,304.9 L266.8,304.6 L266.4,304.3 L265.9,303.9 L265.5,303.6 L265.1,303.3 L264.7,302.9 L264.4,302.4 L264.1,302.0 L263.9,301.5 L263.6,300.9 L263.5,300.4 L263.5,299.6 L263.6,298.9 L263.8,298.4 L264.0,297.9 L264.4,297.5 L264.7,297.1 L265.1,296.8 L265.6,296.5 L266.1,296.1 L266.6,295.9 L267.1,295.6 L267.6,295.4 L268.1,295.2 L268.6,295.0 L269.4,294.9 L270.1,294.9 L270.6,294.8 L271.1,294.9 L271.9,294.9 L272.6,294.9 L273.1,294.8 L273.9,294.8 L274.6,294.8 L275.4,294.8 L275.9,294.9 L276.6,294.9 L277.4,295.0 L278.1,295.1 L278.6,295.2 L279.4,295.3 L279.9,295.5 L280.4,295.6 L281.1,295.9 L281.6,296.0 L282.1,296.2 L282.6,296.5 L283.1,296.8 L283.4,297.1 L283.9,297.5 L284.1,297.9 L284.4,298.4 L284.7,298.9 L284.9,299.4 L285.0,300.1 L285.1,300.9 L285.0,301.6 L284.9,302.3 L284.6,302.9 L284.4,303.4 L284.1,303.7 L283.8,304.1 L283.5,304.6 L283.1,305.1 L282.9,305.5 L282.6,305.9 L282.3,306.4 L282.0,306.9 L281.9,307.5 L281.8,308.1 L281.7,308.9 L281.6,309.6 L281.5,310.1 L281.3,310.6 L280.9,311.1 L280.5,311.4 L279.9,311.5 L279.1,311.4 L278.6,311.3 L277.9,311.2 L277.1,311.2 L276.4,311.3 L275.9,311.4 L275.4,311.6 L274.9,311.9 L274.4,312.2 L273.9,312.4 L273.4,312.7 L272.7,312.9Z" fill="#000" fill-opacity="0.022" stroke="#555" stroke-width="0.75"/>
<path d="M280.1,333.9 L279.4,334.0 L278.9,333.6 L278.6,333.1 L278.5,332.6 L278.4,331.9 L278.4,331.2 L278.2,330.6 L278.0,330.1 L277.7,329.6 L277.4,329.1 L277.1,328.6 L276.9,328.3 L276.6,327.9 L276.2,327.4 L275.9,327.0 L275.6,326.6 L275.2,326.1 L275.0,325.6 L275.2,325.1 L275.6,324.9 L276.3,324.6 L276.9,324.4 L277.4,324.3 L277.9,324.1 L278.4,323.9 L278.9,323.6 L279.4,323.3 L279.8,322.9 L280.1,322.6 L280.4,322.1 L280.7,321.6 L280.9,320.9 L280.8,320.6 L280.6,319.9 L280.4,319.4 L280.2,318.9 L280.1,318.4 L279.9,317.6 L279.8,317.1 L279.6,316.6 L279.4,316.0 L279.1,315.5 L278.9,315.0 L278.6,314.5 L278.3,314.1 L277.9,313.6 L277.5,313.4 L276.9,313.2 L276.1,313.3 L275.6,313.5 L275.1,313.8 L274.8,314.1 L274.4,314.6 L274.1,314.9 L273.7,315.4 L273.4,315.6 L272.8,315.9 L272.1,315.9 L271.6,315.7 L271.1,315.4 L270.8,315.1 L270.4,314.6 L270.1,314.2 L269.9,313.7 L269.6,313.2 L269.4,312.6 L269.2,312.1 L269.0,311.6 L268.9,310.9 L268.8,310.4 L268.7,309.6 L268.6,309.1 L268.4,308.5 L268.1,308.0 L267.8,307.6 L267.5,307.1 L267.1,306.6 L266.9,306.3 L266.4,305.9 L266.1,305.5 L265.6,305.1 L265.3,304.9 L264.9,304.5 L264.4,304.1 L264.1,303.9 L263.6,303.4 L263.4,303.0 L263.1,302.5 L262.9,302.0 L262.6,301.4 L262.5,300.9 L262.4,300.1 L262.4,299.4 L262.6,298.6 L262.7,298.1 L262.9,297.6 L263.3,297.1 L263.6,296.7 L264.0,296.4 L264.4,296.1 L264.9,295.8 L265.4,295.5 L265.9,295.2 L266.4,295.0 L266.9,294.7 L267.4,294.5 L268.0,294.4 L268.6,294.2 L269.4,294.1 L269.9,294.1 L270.6,294.0 L271.4,294.0 L272.1,294.0 L272.9,293.9 L273.6,293.9 L274.4,293.9 L275.1,293.9 L275.9,294.0 L276.6,294.1 L277.1,294.1 L277.9,294.2 L278.6,294.3 L279.1,294.4 L279.9,294.6 L280.4,294.7 L280.9,294.9 L281.4,295.1 L282.1,295.4 L282.6,295.6 L283.1,295.8 L283.6,296.1 L283.9,296.4 L284.4,296.7 L284.7,297.1 L285.1,297.6 L285.4,298.0 L285.6,298.4 L285.9,299.1 L286.0,299.6 L286.0,300.4 L286.1,301.1 L286.0,301.9 L285.9,302.6 L285.7,303.1 L285.5,303.6 L285.2,304.1 L284.9,304.6 L284.6,305.0 L284.4,305.5 L284.1,306.0 L283.9,306.5 L283.6,307.1 L283.5,307.6 L283.4,308.4 L283.3,308.9 L283.2,309.6 L283.1,310.3 L283.0,310.9 L282.9,311.5 L282.7,312.1 L282.6,312.8 L282.5,313.4 L282.4,314.1 L282.3,314.6 L282.2,315.4 L282.1,315.9 L282.0,316.6 L282.0,317.4 L281.9,318.1 L281.9,318.7 L281.7,319.4 L281.6,320.1 L281.7,320.9 L281.9,321.4 L282.1,321.9 L282.4,322.4 L282.6,322.9 L282.9,323.4 L283.1,324.1 L283.2,324.6 L283.2,325.4 L283.1,326.0 L282.9,326.6 L282.6,327.0 L282.3,327.4 L281.9,327.9 L281.6,328.3 L281.4,328.6 L281.1,329.1 L280.8,329.6 L280.7,330.4 L280.6,331.1 L280.7,331.9 L280.7,332.6 L280.6,333.1 L280.4,333.7Z" fill="#000" fill-opacity="0.022" stroke="#777" stroke-width="0.75"/>
<path d="M280.9,336.6 L280.1,336.7 L279.6,336.6 L279.1,336.3 L278.6,335.9 L278.3,335.6 L277.9,335.1 L277.6,334.6 L277.4,334.1 L277.2,333.6 L277.0,333.1 L276.9,332.4 L276.8,331.9 L276.6,331.1 L276.5,330.6 L276.3,330.1 L276.1,329.6 L275.8,329.1 L275.4,328.6 L275.1,328.3 L274.6,327.9 L274.2,327.6 L273.9,327.3 L273.4,327.0 L272.9,326.7 L272.4,326.4 L271.9,326.1 L271.6,325.9 L271.1,325.4 L270.8,325.1 L270.5,324.6 L270.5,323.9 L270.6,323.4 L271.0,322.9 L271.4,322.5 L271.9,322.2 L272.4,322.1 L273.1,322.1 L273.6,322.2 L274.2,322.4 L274.9,322.5 L275.6,322.6 L276.1,322.6 L276.6,322.6 L277.3,322.4 L277.7,322.1 L278.1,321.6 L278.3,321.1 L278.4,320.6 L278.3,320.1 L278.2,319.4 L278.1,318.8 L277.9,318.1 L277.8,317.6 L277.6,317.1 L277.2,316.6 L276.9,316.3 L276.1,316.3 L275.7,316.6 L275.4,317.0 L275.1,317.4 L274.6,317.8 L274.3,318.1 L273.9,318.5 L273.4,318.8 L272.9,319.0 L272.1,319.0 L271.6,318.7 L271.1,318.4 L270.8,318.1 L270.4,317.6 L270.1,317.1 L269.9,316.8 L269.6,316.4 L269.3,315.9 L269.0,315.4 L268.8,314.9 L268.6,314.4 L268.4,313.8 L268.1,313.1 L268.0,312.6 L267.8,312.1 L267.6,311.4 L267.5,310.9 L267.4,310.2 L267.2,309.6 L267.0,309.1 L266.8,308.6 L266.5,308.1 L266.2,307.6 L265.9,307.1 L265.6,306.8 L265.2,306.4 L264.9,306.0 L264.4,305.6 L264.0,305.4 L263.6,305.0 L263.2,304.6 L262.9,304.2 L262.5,303.9 L262.2,303.4 L261.9,302.9 L261.7,302.4 L261.5,301.9 L261.4,301.1 L261.3,300.6 L261.3,299.9 L261.3,299.1 L261.4,298.6 L261.6,298.0 L261.9,297.4 L262.1,296.9 L262.4,296.6 L262.8,296.1 L263.1,295.8 L263.6,295.4 L264.0,295.1 L264.5,294.9 L264.9,294.6 L265.4,294.4 L266.0,294.1 L266.6,293.9 L267.1,293.7 L267.6,293.5 L268.4,293.4 L268.9,293.3 L269.6,293.2 L270.4,293.2 L271.1,293.1 L271.6,293.1 L272.4,293.0 L273.1,293.0 L273.9,293.0 L274.6,293.0 L275.3,293.1 L275.9,293.1 L276.6,293.2 L277.4,293.3 L278.1,293.3 L278.6,293.4 L279.4,293.5 L279.9,293.6 L280.6,293.8 L281.1,294.0 L281.6,294.2 L282.1,294.4 L282.7,294.6 L283.2,294.9 L283.7,295.1 L284.1,295.4 L284.6,295.7 L285.1,296.1 L285.4,296.4 L285.8,296.9 L286.1,297.2 L286.4,297.6 L286.6,298.1 L286.9,298.6 L287.1,299.4 L287.2,299.9 L287.2,300.6 L287.2,301.4 L287.1,302.1 L287.1,302.6 L286.9,303.4 L286.7,303.9 L286.5,304.4 L286.2,304.9 L285.9,305.4 L285.6,305.9 L285.4,306.4 L285.2,306.9 L285.0,307.4 L284.9,308.0 L284.7,308.6 L284.6,309.1 L284.5,309.9 L284.4,310.4 L284.2,311.1 L284.1,311.7 L284.0,312.4 L283.9,313.1 L283.8,313.6 L283.7,314.4 L283.6,315.1 L283.6,315.6 L283.6,316.4 L283.6,317.1 L283.6,317.9 L283.6,318.6 L283.6,319.1 L283.7,319.9 L283.8,320.6 L283.9,321.1 L284.1,321.8 L284.3,322.4 L284.4,322.9 L284.6,323.6 L284.7,324.1 L284.7,324.9 L284.7,325.6 L284.6,326.1 L284.4,326.8 L284.1,327.3 L283.9,327.7 L283.6,328.1 L283.2,328.6 L282.9,329.1 L282.6,329.6 L282.4,330.1 L282.3,330.6 L282.2,331.4 L282.2,332.1 L282.3,332.9 L282.3,333.6 L282.2,334.4 L282.1,334.9 L281.9,335.6 L281.6,336.0 L281.3,336.4 L280.9,336.6Z" fill="#000" fill-opacity="0.022" stroke="#777" stroke-width="0.75"/>
<path d="M281.4,338.4 L280.6,338.5 L279.9,338.4 L279.4,338.1 L278.9,337.9 L278.6,337.6 L278.1,337.2 L277.8,336.9 L277.4,336.4 L277.1,336.0 L276.9,335.6 L276.6,335.1 L276.4,334.5 L276.1,333.9 L276.0,333.4 L275.8,332.9 L275.7,332.1 L275.5,331.6 L275.4,330.9 L275.1,330.4 L274.9,329.9 L274.6,329.5 L274.2,329.1 L273.9,328.8 L273.4,328.4 L272.9,328.1 L272.4,327.9 L272.0,327.6 L271.5,327.4 L271.1,327.1 L270.6,326.8 L270.1,326.5 L269.7,326.1 L269.4,325.8 L269.0,325.4 L268.7,324.9 L268.5,324.4 L268.4,323.6 L268.4,322.9 L268.6,322.1 L268.8,321.6 L269.0,321.1 L269.1,320.4 L269.1,319.9 L269.0,319.4 L268.9,318.6 L268.7,318.1 L268.5,317.6 L268.3,317.1 L268.1,316.6 L267.9,316.0 L267.6,315.4 L267.4,314.9 L267.2,314.4 L267.1,313.9 L266.9,313.2 L266.7,312.6 L266.5,312.1 L266.4,311.6 L266.1,310.9 L265.9,310.4 L265.7,309.9 L265.5,309.4 L265.3,308.9 L265.0,308.4 L264.6,307.9 L264.4,307.5 L264.0,307.1 L263.6,306.7 L263.3,306.4 L262.9,306.0 L262.5,305.6 L262.1,305.2 L261.8,304.9 L261.4,304.4 L261.1,304.0 L260.9,303.6 L260.6,303.1 L260.4,302.6 L260.1,301.9 L260.0,301.4 L260.0,300.6 L260.0,299.9 L260.1,299.1 L260.1,298.6 L260.4,297.9 L260.6,297.4 L260.8,296.9 L261.1,296.4 L261.4,296.1 L261.7,295.6 L262.1,295.2 L262.5,294.9 L262.9,294.6 L263.4,294.3 L263.9,294.0 L264.4,293.7 L264.9,293.5 L265.4,293.2 L265.9,293.0 L266.4,292.9 L267.1,292.7 L267.6,292.5 L268.4,292.4 L269.0,292.4 L269.6,292.3 L270.4,292.2 L271.1,292.1 L271.6,292.1 L272.4,292.1 L273.1,292.1 L273.9,292.1 L274.4,292.1 L275.1,292.2 L275.9,292.2 L276.6,292.3 L277.3,292.4 L277.9,292.4 L278.6,292.4 L279.4,292.5 L279.9,292.6 L280.6,292.8 L281.1,292.9 L281.7,293.1 L282.4,293.3 L282.9,293.5 L283.4,293.8 L283.9,294.0 L284.4,294.3 L284.9,294.6 L285.2,294.9 L285.6,295.1 L286.1,295.6 L286.4,295.9 L286.9,296.3 L287.1,296.6 L287.5,297.1 L287.8,297.6 L288.1,298.1 L288.3,298.6 L288.4,299.1 L288.5,299.9 L288.6,300.6 L288.5,301.4 L288.5,302.1 L288.4,302.9 L288.3,303.4 L288.2,304.1 L288.0,304.6 L287.7,305.1 L287.4,305.6 L287.1,306.1 L286.9,306.6 L286.6,307.1 L286.4,307.6 L286.2,308.1 L286.1,308.6 L285.9,309.4 L285.7,309.9 L285.6,310.4 L285.4,311.1 L285.3,311.6 L285.1,312.4 L285.0,312.9 L284.9,313.6 L284.8,314.1 L284.7,314.9 L284.7,315.6 L284.6,316.4 L284.6,317.1 L284.6,317.9 L284.7,318.6 L284.8,319.4 L284.9,319.9 L285.0,320.6 L285.2,321.1 L285.4,321.7 L285.6,322.4 L285.7,322.9 L285.9,323.4 L286.0,324.1 L286.0,324.9 L285.9,325.6 L285.8,326.1 L285.6,326.9 L285.4,327.4 L285.2,327.9 L284.9,328.4 L284.6,328.8 L284.4,329.1 L284.0,329.6 L283.7,330.1 L283.5,330.6 L283.4,331.4 L283.3,331.9 L283.3,332.6 L283.4,333.1 L283.4,333.9 L283.4,334.6 L283.4,335.2 L283.2,335.9 L283.1,336.4 L282.9,336.9 L282.6,337.4 L282.1,337.9 L281.8,338.1 L281.4,338.4Z" fill="#000" fill-opacity="0.022" stroke="#777" stroke-width="0.75"/>
<rect x="260.9" y="316.3" width="0.9" height="0.9" fill="#aaa"/>
<rect x="273.1" y="309.3" width="0.9" height="0.9" fill="#aaa"/>
<rect x="278.8" y="312.1" width="0.9" height="0.9" fill="#aaa"/>
<rect x="276.1" y="313.2" width="0.9" height="0.9" fill="#aaa"/>
<rect x="285.1" y="317.3" width="0.9" height="0.9" fill="#aaa"/>
<rect x="268.7" y="319.6" width="0.9" height="0.9" fill="#aaa"/>
<rect x="262.6" y="324.0" width="0.9" height="0.9" fill="#aaa"/>
<rect x="263.2" y="304.1" width="0.9" height="0.9" fill="#aaa"/>
<rect x="276.8" y="320.0" width="0.9" height="0.9" fill="#aaa"/>
<rect x="283.8" y="320.7" width="0.9" height="0.9" fill="#aaa"/>
<rect x="270.4" y="298.6" width="0.9" height="0.9" fill="#aaa"/>
<rect x="279.5" y="313.6" width="0.9" height="0.9" fill="#aaa"/>
<rect x="261.5" y="321.7" width="0.9" height="0.9" fill="#aaa"/>
<rect x="275.3" y="298.5" width="0.9" height="0.9" fill="#aaa"/>
<rect x="278.2" y="294.1" width="0.9" height="0.9" fill="#aaa"/>
<rect x="262.4" y="314.9" width="0.9" height="0.9" fill="#aaa"/>
<rect x="254.2" y="310.5" width="0.9" height="0.9" fill="#aaa"/>
<rect x="256.7" y="318.9" width="0.9" height="0.9" fill="#aaa"/>
<rect x="264.2" y="312.2" width="0.9" height="0.9" fill="#aaa"/>
<rect x="254.9" y="305.9" width="0.9" height="0.9" fill="#aaa"/>
<rect x="284.3" y="315.5" width="0.9" height="0.9" fill="#aaa"/>
<rect x="250.9" y="321.1" width="0.9" height="0.9" fill="#aaa"/>
<rect x="283.6" y="305.5" width="0.9" height="0.9" fill="#aaa"/>
<rect x="289.9" y="297.3" width="0.9" height="0.9" fill="#aaa"/>
<rect x="271.9" y="323.4" width="0.9" height="0.9" fill="#aaa"/>
<rect x="288.7" y="325.4" width="0.9" height="0.9" fill="#aaa"/>
<rect x="259.8" y="288.7" width="0.9" height="0.9" fill="#aaa"/>
<rect x="277.6" y="292.8" width="0.9" height="0.9" fill="#aaa"/>
<rect x="271.4" y="294.6" width="0.9" height="0.9" fill="#aaa"/>
<rect x="285.7" y="319.7" width="0.9" height="0.9" fill="#aaa"/>
<rect x="279.6" y="310.2" width="0.9" height="0.9" fill="#aaa"/>
<rect x="273.5" y="306.5" width="0.9" height="0.9" fill="#aaa"/>
<rect x="277.5" y="313.0" width="0.9" height="0.9" fill="#aaa"/>
<rect x="278.4" y="304.9" width="0.9" height="0.9" fill="#aaa"/>
<rect x="289.7" y="326.0" width="0.9" height="0.9" fill="#aaa"/>
<rect x="262.4" y="289.8" width="0.9" height="0.9" fill="#aaa"/>
<rect x="288.0" y="305.4" width="0.9" height="0.9" fill="#aaa"/>
<rect x="273.9" y="306.9" width="0.9" height="0.9" fill="#aaa"/>
<path d="M344.8,304.3 L344.1,304.4 L343.3,304.4 L342.6,304.3 L341.8,304.3 L341.1,304.3 L340.5,304.3 L340.0,304.1 L339.8,303.6 L340.1,303.2 L340.6,303.0 L341.0,302.6 L341.3,302.2 L341.6,301.8 L342.1,301.3 L342.4,301.1 L342.8,300.8 L343.4,300.6 L344.1,300.3 L344.6,300.2 L345.3,300.1 L345.8,300.0 L346.6,300.0 L347.1,300.1 L347.8,300.1 L348.3,300.3 L348.8,300.8 L349.0,301.3 L349.1,301.8 L349.1,302.3 L348.8,302.9 L348.4,303.3 L348.0,303.6 L347.3,303.8 L346.8,303.9 L346.3,304.1 L345.6,304.2 L344.8,304.3Z" fill="#000" fill-opacity="0.022" stroke="#555" stroke-width="0.75"/>
<path d="M342.8,307.1 L342.1,307.1 L341.4,307.1 L340.8,307.0 L340.1,306.8 L339.6,306.7 L339.0,306.6 L338.5,306.3 L338.1,306.0 L337.6,305.6 L337.3,305.3 L337.0,304.8 L336.8,304.3 L336.6,303.6 L336.6,302.8 L336.8,302.1 L337.1,301.7 L337.4,301.3 L337.8,301.0 L338.3,300.7 L338.8,300.5 L339.3,300.2 L339.8,300.0 L340.3,299.8 L341.0,299.6 L341.6,299.4 L342.1,299.3 L342.8,299.2 L343.6,299.1 L344.1,299.0 L344.8,298.9 L345.6,298.9 L346.3,298.8 L347.1,298.8 L347.8,298.8 L348.6,298.9 L349.1,299.1 L349.6,299.5 L349.9,299.8 L350.2,300.3 L350.3,300.8 L350.5,301.6 L350.4,302.3 L350.3,303.0 L350.1,303.6 L349.8,304.0 L349.5,304.3 L349.1,304.7 L348.6,304.9 L348.1,305.2 L347.6,305.4 L347.1,305.6 L346.5,305.8 L345.9,306.1 L345.3,306.3 L344.8,306.5 L344.3,306.7 L343.8,306.8 L343.1,307.0Z" fill="#000" fill-opacity="0.022" stroke="#555" stroke-width="0.75"/>
<path d="M345.3,309.1 L344.6,309.2 L343.8,309.2 L343.1,309.3 L342.3,309.2 L341.7,309.1 L341.1,308.8 L340.6,308.6 L340.1,308.4 L339.6,308.2 L339.0,308.1 L338.3,307.8 L337.8,307.6 L337.3,307.4 L336.8,307.1 L336.3,306.8 L336.0,306.6 L335.6,306.1 L335.3,305.6 L335.1,305.1 L334.9,304.6 L334.8,303.8 L334.8,303.1 L334.9,302.3 L335.1,301.8 L335.4,301.3 L335.8,300.8 L336.1,300.5 L336.6,300.2 L337.1,299.9 L337.6,299.7 L338.1,299.4 L338.6,299.2 L339.1,299.0 L339.7,298.8 L340.3,298.6 L340.8,298.4 L341.5,298.3 L342.1,298.2 L342.8,298.2 L343.6,298.1 L344.1,298.1 L344.8,298.0 L345.6,297.9 L346.3,297.8 L346.9,297.8 L347.6,297.8 L348.1,297.8 L348.8,297.9 L349.3,298.1 L349.8,298.3 L350.3,298.6 L350.7,299.1 L351.1,299.5 L351.3,300.1 L351.5,300.6 L351.6,301.1 L351.7,301.8 L351.7,302.6 L351.6,303.1 L351.3,303.8 L351.1,304.3 L350.8,304.7 L350.5,305.1 L350.1,305.6 L349.8,305.8 L349.3,306.2 L348.8,306.5 L348.3,306.8 L348.0,307.1 L347.6,307.5 L347.3,307.8 L346.9,308.3 L346.6,308.6 L346.1,308.9 L345.4,309.1Z" fill="#000" fill-opacity="0.022" stroke="#555" stroke-width="0.75"/>
<path d="M346.8,310.8 L346.1,311.0 L345.3,311.0 L344.6,310.9 L343.8,310.8 L343.1,310.8 L342.6,310.8 L341.8,310.7 L341.1,310.6 L340.6,310.4 L340.1,310.2 L339.6,310.0 L338.8,309.8 L338.3,309.7 L337.8,309.5 L337.3,309.3 L336.8,309.0 L336.3,308.7 L335.8,308.4 L335.4,308.1 L335.1,307.7 L334.6,307.3 L334.3,306.9 L334.1,306.5 L333.8,306.0 L333.6,305.3 L333.4,304.8 L333.4,304.1 L333.4,303.3 L333.4,302.6 L333.6,302.1 L333.8,301.4 L334.1,300.9 L334.3,300.5 L334.7,300.1 L335.1,299.8 L335.6,299.4 L336.1,299.2 L336.6,299.0 L337.1,298.7 L337.6,298.5 L338.1,298.3 L338.8,298.1 L339.3,297.9 L339.8,297.7 L340.4,297.6 L341.1,297.4 L341.8,297.3 L342.3,297.3 L343.1,297.3 L343.8,297.2 L344.6,297.1 L345.1,297.1 L345.8,297.0 L346.6,296.9 L347.3,296.9 L348.1,296.9 L348.8,297.0 L349.3,297.1 L349.8,297.3 L350.3,297.6 L350.8,297.9 L351.3,298.3 L351.6,298.6 L352.0,299.1 L352.2,299.6 L352.4,300.1 L352.6,300.6 L352.8,301.1 L352.9,301.8 L352.9,302.6 L352.8,303.2 L352.6,303.8 L352.4,304.3 L352.1,304.8 L351.8,305.3 L351.6,305.7 L351.3,306.1 L351.0,306.6 L350.6,307.0 L350.3,307.3 L349.8,307.8 L349.6,308.1 L349.2,308.6 L348.8,309.1 L348.6,309.4 L348.3,309.8 L347.8,310.3 L347.4,310.6 L346.9,310.8Z" fill="#000" fill-opacity="0.022" stroke="#555" stroke-width="0.75"/>
<path d="M338.6,312.4 L337.8,312.5 L337.1,312.3 L336.7,312.1 L336.3,311.6 L336.0,311.3 L335.7,310.8 L335.4,310.3 L335.1,309.8 L334.8,309.5 L334.5,309.1 L334.1,308.6 L333.8,308.3 L333.4,307.8 L333.1,307.3 L332.8,306.9 L332.6,306.4 L332.4,305.8 L332.2,305.3 L332.1,304.6 L332.1,303.8 L332.1,303.1 L332.2,302.3 L332.4,301.8 L332.6,301.3 L332.8,300.7 L333.1,300.3 L333.4,299.8 L333.8,299.4 L334.2,299.1 L334.6,298.8 L335.1,298.5 L335.6,298.3 L336.2,298.1 L336.8,297.8 L337.3,297.6 L337.8,297.4 L338.3,297.2 L338.8,297.0 L339.5,296.8 L340.1,296.7 L340.6,296.6 L341.3,296.5 L342.1,296.4 L342.8,296.4 L343.6,296.3 L344.1,296.3 L344.8,296.2 L345.6,296.1 L346.1,296.1 L346.8,296.0 L347.6,296.0 L348.3,296.0 L348.8,296.1 L349.5,296.3 L350.1,296.5 L350.6,296.7 L351.1,297.0 L351.5,297.3 L351.8,297.6 L352.3,298.0 L352.6,298.3 L352.9,298.8 L353.2,299.3 L353.5,299.8 L353.8,300.3 L354.0,300.8 L354.1,301.3 L354.2,302.1 L354.2,302.8 L354.1,303.3 L353.8,304.0 L353.6,304.5 L353.3,305.0 L353.1,305.5 L352.8,305.9 L352.6,306.4 L352.3,306.9 L352.1,307.4 L351.8,307.8 L351.6,308.3 L351.3,308.8 L351.0,309.3 L350.7,309.8 L350.5,310.3 L350.1,310.8 L349.8,311.2 L349.5,311.6 L349.1,311.8 L348.5,312.1 L347.8,312.2 L347.1,312.3 L346.3,312.3 L345.6,312.3 L344.8,312.2 L344.1,312.1 L343.6,312.0 L342.8,312.0 L342.3,312.1 L341.6,312.1 L340.8,312.1 L340.1,312.1 L339.3,312.2 L338.7,312.3Z" fill="#000" fill-opacity="0.022" stroke="#555" stroke-width="0.75"/>
<path d="M338.8,316.6 L338.1,316.6 L337.7,316.3 L337.3,316.0 L336.9,315.6 L336.6,315.1 L336.3,314.8 L335.9,314.3 L335.6,313.8 L335.3,313.4 L335.1,313.0 L334.8,312.6 L334.5,312.1 L334.3,311.5 L334.1,311.0 L333.8,310.5 L333.5,310.1 L333.2,309.6 L332.8,309.1 L332.6,308.7 L332.2,308.3 L331.8,307.8 L331.6,307.3 L331.3,306.8 L331.1,306.3 L330.9,305.8 L330.8,305.2 L330.7,304.6 L330.7,303.8 L330.7,303.1 L330.8,302.3 L330.9,301.8 L331.1,301.2 L331.3,300.6 L331.6,300.2 L331.8,299.8 L332.2,299.3 L332.6,298.9 L333.0,298.6 L333.3,298.3 L333.8,297.9 L334.3,297.6 L334.8,297.4 L335.3,297.2 L335.8,297.0 L336.4,296.8 L337.0,296.6 L337.6,296.3 L338.1,296.1 L338.6,296.0 L339.2,295.8 L339.8,295.7 L340.4,295.6 L341.1,295.5 L341.8,295.4 L342.6,295.3 L343.1,295.3 L343.8,295.2 L344.6,295.2 L345.3,295.1 L346.1,295.1 L346.8,295.1 L347.3,295.0 L347.8,295.1 L348.6,295.1 L349.3,295.3 L349.8,295.4 L350.3,295.6 L350.8,295.8 L351.3,296.1 L351.8,296.4 L352.3,296.7 L352.8,297.1 L353.1,297.3 L353.5,297.8 L353.8,298.1 L354.2,298.6 L354.5,299.1 L354.8,299.4 L355.1,299.8 L355.4,300.3 L355.6,300.8 L355.7,301.6 L355.7,302.3 L355.6,303.1 L355.4,303.6 L355.3,304.1 L355.1,304.6 L354.8,305.1 L354.6,305.6 L354.3,306.1 L354.1,306.7 L353.8,307.2 L353.6,307.8 L353.4,308.3 L353.2,308.8 L353.0,309.3 L352.8,310.1 L352.7,310.6 L352.5,311.1 L352.3,311.7 L352.1,312.3 L351.9,312.8 L351.7,313.3 L351.4,313.8 L351.1,314.2 L350.6,314.4 L349.8,314.3 L349.3,314.2 L348.8,314.0 L348.1,313.8 L347.6,313.7 L346.8,313.6 L346.3,313.5 L345.6,313.4 L344.8,313.4 L344.1,313.3 L343.3,313.3 L342.6,313.4 L342.1,313.6 L341.4,313.8 L340.9,314.1 L340.6,314.4 L340.2,314.8 L339.9,315.3 L339.6,315.8 L339.3,316.3 L338.9,316.6Z" fill="#000" fill-opacity="0.022" stroke="#777" stroke-width="0.75"/>
<path d="M349.1,333.2 L348.6,332.8 L348.4,332.3 L348.3,331.8 L348.1,331.1 L347.9,330.6 L347.7,330.1 L347.5,329.6 L347.2,329.1 L347.0,328.6 L346.8,327.8 L346.8,327.5 L347.1,326.9 L347.4,326.6 L347.8,326.2 L348.3,325.8 L348.7,325.6 L349.2,325.3 L349.8,325.1 L350.4,325.3 L350.8,325.8 L350.8,326.3 L350.8,326.8 L350.6,327.6 L350.5,328.1 L350.3,328.6 L350.0,329.1 L349.7,329.6 L349.5,330.1 L349.3,330.6 L349.1,331.3 L349.1,332.1 L349.1,332.8Z" fill="#000" fill-opacity="0.022" stroke="#777" stroke-width="0.75"/>
<path d="M350.1,337.4 L349.3,337.4 L348.8,337.2 L348.3,336.9 L347.8,336.6 L347.6,336.2 L347.2,335.8 L347.0,335.3 L346.7,334.8 L346.5,334.3 L346.3,333.6 L346.2,333.1 L346.0,332.6 L345.9,331.8 L345.7,331.3 L345.5,330.8 L345.3,330.3 L345.0,329.8 L344.6,329.4 L344.2,329.1 L343.8,328.7 L343.3,328.3 L343.0,328.1 L342.6,327.7 L342.1,327.3 L341.7,327.1 L341.3,326.7 L340.9,326.3 L340.6,326.0 L340.2,325.6 L339.9,325.1 L339.7,324.6 L339.8,323.8 L340.1,323.4 L340.6,323.1 L341.3,323.1 L341.8,323.3 L342.5,323.6 L343.1,323.8 L343.6,324.0 L344.1,324.2 L344.6,324.3 L345.3,324.5 L346.1,324.4 L346.7,324.3 L347.3,324.1 L347.7,323.8 L348.1,323.6 L348.6,323.2 L349.0,322.8 L349.3,322.4 L349.6,322.1 L349.9,321.6 L350.1,320.8 L350.1,320.5 L349.9,319.8 L349.8,319.3 L349.6,318.6 L349.3,318.1 L349.1,317.6 L348.9,317.1 L348.6,316.6 L348.3,316.1 L348.1,315.7 L347.6,315.3 L347.1,315.1 L346.6,314.8 L346.1,314.7 L345.3,314.6 L344.6,314.6 L343.8,314.7 L343.3,314.8 L342.8,315.1 L342.3,315.6 L342.1,315.9 L341.8,316.4 L341.6,317.0 L341.3,317.6 L341.1,318.1 L340.8,318.4 L340.5,318.8 L340.1,319.2 L339.6,319.4 L338.8,319.4 L338.3,319.2 L337.8,318.9 L337.4,318.6 L337.1,318.3 L336.6,317.8 L336.3,317.4 L336.0,317.1 L335.7,316.6 L335.3,316.1 L335.1,315.7 L334.8,315.3 L334.5,314.8 L334.2,314.3 L333.9,313.8 L333.6,313.3 L333.4,312.8 L333.2,312.3 L333.0,311.8 L332.7,311.3 L332.5,310.8 L332.2,310.3 L331.8,309.8 L331.6,309.5 L331.2,309.1 L330.9,308.6 L330.6,308.1 L330.3,307.7 L330.1,307.2 L329.8,306.6 L329.6,306.1 L329.4,305.6 L329.3,305.1 L329.1,304.3 L329.0,303.8 L329.1,303.2 L329.1,302.6 L329.3,301.8 L329.4,301.3 L329.6,300.8 L329.8,300.3 L330.1,299.8 L330.4,299.3 L330.8,298.9 L331.1,298.6 L331.6,298.1 L331.9,297.8 L332.3,297.5 L332.8,297.2 L333.3,296.9 L333.8,296.6 L334.3,296.4 L334.8,296.2 L335.3,296.0 L335.8,295.8 L336.4,295.6 L337.0,295.3 L337.6,295.1 L338.1,295.0 L338.8,294.8 L339.3,294.7 L340.1,294.6 L340.6,294.5 L341.3,294.4 L342.1,294.3 L342.6,294.3 L343.3,294.2 L344.1,294.2 L344.8,294.2 L345.6,294.1 L346.3,294.1 L347.1,294.1 L347.8,294.1 L348.6,294.2 L349.3,294.3 L349.8,294.4 L350.3,294.6 L350.9,294.8 L351.5,295.1 L352.0,295.3 L352.4,295.6 L352.8,295.8 L353.3,296.1 L353.8,296.5 L354.1,296.8 L354.6,297.2 L355.0,297.6 L355.3,297.9 L355.8,298.3 L356.1,298.6 L356.5,299.1 L356.8,299.5 L357.1,299.9 L357.3,300.5 L357.4,301.1 L357.5,301.8 L357.4,302.6 L357.3,303.1 L357.1,303.8 L356.9,304.3 L356.7,304.8 L356.6,305.3 L356.3,305.9 L356.1,306.4 L355.8,306.9 L355.6,307.4 L355.3,307.9 L355.1,308.4 L354.8,309.0 L354.6,309.6 L354.4,310.1 L354.2,310.6 L354.1,311.3 L353.9,311.8 L353.8,312.5 L353.7,313.1 L353.6,313.8 L353.5,314.3 L353.4,315.1 L353.3,315.7 L353.2,316.3 L353.1,316.9 L352.9,317.6 L352.7,318.1 L352.5,318.6 L352.3,319.1 L352.1,319.6 L351.8,320.3 L351.8,321.1 L352.1,321.7 L352.3,322.2 L352.6,322.6 L352.8,323.1 L353.1,323.6 L353.2,324.3 L353.3,324.8 L353.3,325.4 L353.2,326.1 L353.1,326.8 L352.9,327.3 L352.8,327.8 L352.6,328.4 L352.3,329.0 L352.1,329.5 L351.8,330.1 L351.7,330.6 L351.6,331.1 L351.5,331.8 L351.5,332.6 L351.5,333.3 L351.6,333.8 L351.6,334.6 L351.6,335.3 L351.5,335.8 L351.3,336.4 L351.0,336.8 L350.6,337.2 L350.1,337.4Z" fill="#000" fill-opacity="0.022" stroke="#777" stroke-width="0.75"/>
<path d="M350.8,339.1 L350.1,339.2 L349.3,339.2 L348.8,339.0 L348.3,338.8 L347.8,338.5 L347.3,338.1 L347.0,337.8 L346.6,337.3 L346.3,337.0 L346.1,336.5 L345.8,336.0 L345.6,335.4 L345.3,334.8 L345.2,334.3 L345.0,333.8 L344.8,333.1 L344.7,332.6 L344.6,332.0 L344.3,331.4 L344.1,331.0 L343.7,330.6 L343.3,330.1 L342.9,329.8 L342.6,329.5 L342.1,329.1 L341.6,328.8 L341.3,328.6 L340.8,328.2 L340.3,327.8 L340.0,327.6 L339.6,327.2 L339.1,326.8 L338.8,326.5 L338.4,326.1 L338.1,325.6 L337.8,325.1 L337.6,324.6 L337.4,324.1 L337.3,323.5 L337.2,322.8 L337.2,322.1 L337.1,321.3 L336.9,320.8 L336.6,320.3 L336.4,319.8 L336.1,319.3 L335.8,318.9 L335.5,318.6 L335.2,318.1 L334.9,317.6 L334.6,317.1 L334.3,316.7 L334.1,316.3 L333.7,315.8 L333.4,315.3 L333.1,314.8 L332.8,314.4 L332.6,313.9 L332.3,313.5 L332.1,312.9 L331.8,312.4 L331.6,311.9 L331.3,311.4 L331.1,311.0 L330.8,310.6 L330.5,310.1 L330.1,309.6 L329.8,309.1 L329.6,308.7 L329.3,308.3 L329.0,307.8 L328.7,307.3 L328.5,306.8 L328.2,306.3 L328.0,305.8 L327.8,305.2 L327.6,304.6 L327.5,304.1 L327.5,303.3 L327.6,302.7 L327.7,302.1 L327.8,301.5 L328.0,300.8 L328.2,300.3 L328.5,299.8 L328.7,299.3 L329.0,298.8 L329.3,298.5 L329.6,298.1 L330.1,297.6 L330.4,297.3 L330.8,297.0 L331.3,296.7 L331.8,296.3 L332.3,296.1 L332.8,295.8 L333.3,295.6 L333.8,295.3 L334.3,295.1 L334.8,294.9 L335.3,294.7 L335.8,294.5 L336.3,294.3 L337.0,294.1 L337.6,293.9 L338.1,293.8 L338.8,293.7 L339.6,293.6 L340.1,293.5 L340.8,293.4 L341.3,293.3 L342.1,293.2 L342.8,293.2 L343.6,293.1 L344.3,293.1 L345.1,293.1 L345.8,293.1 L346.6,293.1 L347.3,293.1 L348.1,293.1 L348.8,293.2 L349.3,293.3 L350.1,293.5 L350.6,293.6 L351.2,293.8 L351.8,294.0 L352.3,294.2 L352.8,294.4 L353.3,294.7 L353.8,295.0 L354.3,295.3 L354.6,295.6 L355.1,295.9 L355.6,296.3 L355.9,296.6 L356.3,296.9 L356.8,297.3 L357.1,297.6 L357.6,297.9 L357.9,298.3 L358.3,298.8 L358.6,299.2 L358.8,299.8 L359.0,300.3 L359.1,300.8 L359.2,301.6 L359.2,302.3 L359.1,303.1 L359.0,303.6 L358.9,304.3 L358.8,304.8 L358.6,305.4 L358.3,306.0 L358.1,306.5 L357.8,306.9 L357.6,307.3 L357.2,307.8 L356.9,308.3 L356.6,308.8 L356.3,309.2 L356.1,309.7 L355.8,310.3 L355.6,310.8 L355.5,311.3 L355.3,311.9 L355.2,312.6 L355.1,313.1 L354.9,313.8 L354.8,314.6 L354.8,315.1 L354.7,315.8 L354.6,316.6 L354.5,317.1 L354.4,317.8 L354.3,318.6 L354.2,319.1 L354.1,319.8 L354.0,320.3 L354.0,321.1 L354.1,321.6 L354.3,322.3 L354.4,322.8 L354.6,323.3 L354.7,324.1 L354.8,324.6 L354.8,325.3 L354.8,325.8 L354.7,326.6 L354.6,327.1 L354.3,327.8 L354.1,328.3 L353.9,328.8 L353.7,329.3 L353.4,329.8 L353.2,330.3 L353.0,330.8 L352.9,331.6 L352.8,332.1 L352.8,332.8 L352.8,333.3 L352.9,334.1 L352.9,334.8 L353.0,335.6 L352.9,336.3 L352.8,336.8 L352.6,337.3 L352.3,337.8 L351.9,338.3 L351.6,338.6 L351.1,339.0Z" fill="#000" fill-opacity="0.022" stroke="#777" stroke-width="0.75"/>
<path d="M346.3,322.6 L346.8,322.3 L347.3,321.8 L347.6,321.4 L347.7,320.8 L347.8,320.3 L347.8,319.6 L347.7,319.1 L347.6,318.3 L347.4,317.8 L347.1,317.3 L346.8,316.9 L346.5,316.6 L346.1,316.3 L345.3,316.1 L345.0,316.1 L344.3,316.3 L343.9,316.6 L343.6,317.0 L343.3,317.4 L343.1,318.1 L342.9,318.6 L342.8,319.2 L342.7,319.8 L342.7,320.6 L342.9,321.1 L343.2,321.6 L343.6,321.9 L344.1,322.2 L344.6,322.5 L345.1,322.6 L345.8,322.7 L346.3,322.6Z" fill="#000" fill-opacity="0.022" stroke="#777" stroke-width="0.75"/>
<rect x="343.1" y="296.7" width="0.9" height="0.9" fill="#aaa"/>
<rect x="340.3" y="305.4" width="0.9" height="0.9" fill="#aaa"/>
<rect x="351.4" y="315.0" width="0.9" height="0.9" fill="#aaa"/>
<rect x="320.8" y="302.2" width="0.9" height="0.9" fill="#aaa"/>
<rect x="341.9" y="318.5" width="0.9" height="0.9" fill="#aaa"/>
<rect x="341.6" y="327.6" width="0.9" height="0.9" fill="#aaa"/>
<rect x="341.8" y="299.0" width="0.9" height="0.9" fill="#aaa"/>
<rect x="333.4" y="319.9" width="0.9" height="0.9" fill="#aaa"/>
<rect x="334.2" y="321.1" width="0.9" height="0.9" fill="#aaa"/>
<rect x="353.8" y="318.1" width="0.9" height="0.9" fill="#aaa"/>
<rect x="353.8" y="308.9" width="0.9" height="0.9" fill="#aaa"/>
<rect x="341.4" y="303.9" width="0.9" height="0.9" fill="#aaa"/>
<rect x="334.2" y="292.2" width="0.9" height="0.9" fill="#aaa"/>
<rect x="334.9" y="298.1" width="0.9" height="0.9" fill="#aaa"/>
<rect x="324.4" y="312.8" width="0.9" height="0.9" fill="#aaa"/>
<rect x="347.0" y="306.9" width="0.9" height="0.9" fill="#aaa"/>
<rect x="358.0" y="322.3" width="0.9" height="0.9" fill="#aaa"/>
<rect x="354.1" y="303.8" width="0.9" height="0.9" fill="#aaa"/>
<rect x="323.7" y="317.7" width="0.9" height="0.9" fill="#aaa"/>
<rect x="345.3" y="319.7" width="0.9" height="0.9" fill="#aaa"/>
<rect x="346.6" y="326.1" width="0.9" height="0.9" fill="#aaa"/>
<rect x="338.1" y="319.0" width="0.9" height="0.9" fill="#aaa"/>
<rect x="336.2" y="329.0" width="0.9" height="0.9" fill="#aaa"/>
<rect x="321.4" y="323.2" width="0.9" height="0.9" fill="#aaa"/>
<rect x="333.4" y="306.2" width="0.9" height="0.9" fill="#aaa"/>
<rect x="342.1" y="313.5" width="0.9" height="0.9" fill="#aaa"/>
<rect x="329.9" y="312.5" width="0.9" height="0.9" fill="#aaa"/>
<rect x="346.9" y="321.0" width="0.9" height="0.9" fill="#aaa"/>
<rect x="332.5" y="329.6" width="0.9" height="0.9" fill="#aaa"/>
<rect x="325.5" y="313.1" width="0.9" height="0.9" fill="#aaa"/>
<rect x="319.3" y="315.5" width="0.9" height="0.9" fill="#aaa"/>
<rect x="348.2" y="297.2" width="0.9" height="0.9" fill="#aaa"/>
<rect x="322.5" y="313.2" width="0.9" height="0.9" fill="#aaa"/>
<rect x="349.1" y="301.5" width="0.9" height="0.9" fill="#aaa"/>
<rect x="333.1" y="312.8" width="0.9" height="0.9" fill="#aaa"/>
<rect x="343.4" y="330.0" width="0.9" height="0.9" fill="#aaa"/>
<path d="M137.9,400.5 L137.2,400.5 L136.7,400.4 L136.2,400.2 L135.7,399.9 L135.3,399.4 L135.0,398.9 L134.7,398.5 L134.4,398.0 L134.3,397.4 L134.3,396.7 L134.5,396.2 L134.9,395.7 L135.4,395.5 L135.9,395.4 L136.7,395.3 L137.4,395.4 L137.9,395.6 L138.4,395.9 L138.9,396.2 L139.2,396.5 L139.6,396.9 L139.9,397.4 L140.2,397.9 L140.2,398.4 L140.0,398.9 L139.7,399.4 L139.4,399.7 L138.9,400.0 L138.4,400.3 L137.9,400.5Z" fill="#000" fill-opacity="0.022" stroke="#555" stroke-width="0.75"/>
<path d="M138.2,401.7 L137.4,401.8 L136.7,401.7 L136.2,401.6 L135.7,401.4 L135.2,401.1 L134.7,400.8 L134.4,400.4 L134.0,399.9 L133.7,399.5 L133.4,399.2 L133.2,398.7 L132.9,398.2 L132.7,397.4 L132.8,396.7 L132.9,395.9 L133.1,395.4 L133.4,395.0 L133.7,394.7 L134.2,394.2 L134.7,394.0 L135.2,393.9 L135.9,393.9 L136.5,393.9 L137.2,394.1 L137.8,394.2 L138.4,394.4 L138.9,394.7 L139.4,394.9 L139.7,395.2 L140.2,395.6 L140.6,395.9 L140.9,396.3 L141.3,396.7 L141.6,397.2 L141.8,397.7 L141.8,398.4 L141.7,398.9 L141.4,399.4 L141.1,399.9 L140.7,400.4 L140.3,400.7 L139.9,401.0 L139.4,401.3 L138.9,401.5 L138.3,401.7Z" fill="#000" fill-opacity="0.022" stroke="#555" stroke-width="0.75"/>
<path d="M138.2,402.7 L137.4,402.8 L136.7,402.7 L136.2,402.6 L135.6,402.4 L134.9,402.2 L134.4,402.0 L134.0,401.7 L133.7,401.4 L133.2,400.9 L132.9,400.6 L132.6,400.2 L132.3,399.7 L132.0,399.2 L131.8,398.7 L131.6,398.2 L131.5,397.4 L131.6,396.7 L131.7,396.1 L131.9,395.4 L132.1,394.9 L132.4,394.4 L132.7,393.9 L132.9,393.6 L133.3,393.2 L133.7,392.8 L134.2,392.5 L134.9,392.4 L135.2,392.5 L135.9,392.6 L136.4,392.7 L137.2,392.9 L137.7,393.1 L138.2,393.3 L138.7,393.5 L139.2,393.7 L139.7,394.0 L140.2,394.3 L140.7,394.7 L141.0,394.9 L141.4,395.3 L141.9,395.7 L142.2,396.1 L142.5,396.4 L142.8,396.9 L143.0,397.4 L143.0,398.2 L142.9,398.7 L142.7,399.3 L142.4,399.8 L142.2,400.2 L141.8,400.7 L141.4,401.2 L141.1,401.4 L140.7,401.8 L140.2,402.1 L139.7,402.3 L139.2,402.5 L138.4,402.7Z" fill="#000" fill-opacity="0.022" stroke="#555" stroke-width="0.75"/>
<path d="M133.2,385.7 L132.7,385.7 L132.2,385.4 L131.7,385.0 L131.4,384.7 L130.9,384.3 L130.7,383.9 L130.3,383.4 L130.0,382.9 L129.7,382.4 L129.5,381.9 L129.4,381.4 L129.4,380.7 L129.5,380.2 L129.7,379.6 L129.9,379.0 L130.2,378.6 L130.5,378.2 L130.9,377.8 L131.4,377.5 L131.9,377.4 L132.6,377.4 L133.2,377.7 L133.5,377.9 L133.9,378.3 L134.2,378.7 L134.5,379.2 L134.7,379.9 L134.8,380.4 L134.9,381.2 L134.8,381.9 L134.7,382.6 L134.5,383.2 L134.4,383.7 L134.2,384.3 L133.9,384.9 L133.7,385.3 L133.2,385.7Z" fill="#000" fill-opacity="0.022" stroke="#555" stroke-width="0.75"/>
<path d="M138.9,403.5 L138.2,403.6 L137.4,403.7 L136.7,403.6 L135.9,403.5 L135.4,403.4 L134.9,403.2 L134.3,402.9 L133.8,402.7 L133.4,402.4 L132.9,402.1 L132.5,401.7 L132.2,401.4 L131.9,400.9 L131.5,400.4 L131.2,400.0 L130.9,399.5 L130.7,398.9 L130.6,398.4 L130.6,397.7 L130.6,396.9 L130.7,396.3 L130.8,395.7 L130.9,395.2 L131.2,394.5 L131.4,394.0 L131.7,393.5 L131.9,393.0 L132.2,392.5 L132.4,391.9 L132.6,391.4 L132.9,390.9 L133.2,390.4 L133.5,390.2 L134.2,390.1 L134.7,390.3 L135.2,390.6 L135.7,390.9 L136.2,391.2 L136.7,391.4 L137.2,391.7 L137.7,391.9 L138.2,392.2 L138.7,392.4 L139.2,392.7 L139.7,392.9 L140.1,393.2 L140.6,393.4 L140.9,393.7 L141.4,394.1 L141.9,394.4 L142.3,394.7 L142.7,395.1 L143.0,395.4 L143.4,395.9 L143.7,396.4 L143.8,396.9 L144.0,397.4 L144.0,398.2 L143.9,398.7 L143.7,399.4 L143.4,399.9 L143.2,400.4 L142.9,400.8 L142.7,401.2 L142.3,401.7 L141.9,402.0 L141.4,402.4 L141.0,402.7 L140.5,402.9 L139.9,403.2 L139.4,403.4 L138.9,403.5Z" fill="#000" fill-opacity="0.022" stroke="#555" stroke-width="0.75"/>
<path d="M138.4,404.5 L137.7,404.5 L136.9,404.5 L136.2,404.5 L135.7,404.4 L135.1,404.2 L134.5,403.9 L133.9,403.7 L133.4,403.5 L132.9,403.2 L132.5,402.9 L132.1,402.7 L131.7,402.3 L131.4,401.9 L131.0,401.4 L130.7,401.0 L130.4,400.6 L130.2,400.1 L129.9,399.5 L129.8,398.9 L129.7,398.2 L129.7,397.4 L129.8,396.7 L129.9,395.9 L129.9,395.4 L130.1,394.7 L130.3,394.2 L130.5,393.7 L130.7,393.2 L130.9,392.6 L131.1,391.9 L131.2,391.4 L131.3,390.7 L131.3,389.9 L131.3,389.2 L131.3,388.4 L131.1,387.9 L130.9,387.4 L130.7,386.8 L130.4,386.3 L130.2,385.9 L129.9,385.4 L129.7,384.9 L129.4,384.4 L129.1,383.9 L128.9,383.4 L128.6,382.9 L128.4,382.4 L128.3,381.7 L128.2,380.9 L128.3,380.2 L128.4,379.7 L128.7,378.9 L128.9,378.4 L129.1,377.9 L129.3,377.4 L129.7,376.9 L129.9,376.7 L130.4,376.3 L130.9,376.0 L131.4,375.8 L132.2,375.7 L132.9,375.9 L133.4,376.1 L133.9,376.4 L134.3,376.7 L134.7,377.1 L135.0,377.4 L135.3,377.9 L135.5,378.4 L135.7,378.9 L135.9,379.7 L136.0,380.2 L136.1,380.9 L136.1,381.7 L136.1,382.4 L136.1,383.2 L136.1,383.9 L136.0,384.7 L136.0,385.4 L136.0,386.2 L136.1,386.9 L136.2,387.7 L136.3,388.2 L136.4,388.7 L136.7,389.2 L137.0,389.7 L137.4,390.2 L137.7,390.4 L138.2,390.9 L138.6,391.2 L139.0,391.4 L139.4,391.7 L139.9,392.0 L140.4,392.3 L140.9,392.6 L141.4,392.9 L141.9,393.2 L142.2,393.4 L142.7,393.8 L143.1,394.2 L143.4,394.5 L143.8,394.9 L144.2,395.4 L144.4,395.9 L144.7,396.4 L144.8,396.9 L144.9,397.7 L144.9,398.4 L144.8,399.2 L144.6,399.7 L144.4,400.2 L144.2,400.7 L143.9,401.2 L143.6,401.7 L143.2,402.2 L142.9,402.4 L142.4,402.9 L142.0,403.2 L141.6,403.4 L141.1,403.7 L140.5,403.9 L139.9,404.1 L139.4,404.3 L138.7,404.4Z" fill="#000" fill-opacity="0.022" stroke="#555" stroke-width="0.75"/>
<path d="M138.2,405.5 L137.4,405.5 L136.7,405.5 L136.1,405.4 L135.4,405.3 L134.9,405.2 L134.4,404.9 L133.8,404.7 L133.3,404.4 L132.7,404.2 L132.2,403.9 L131.8,403.7 L131.4,403.4 L130.9,403.0 L130.7,402.7 L130.3,402.2 L129.9,401.8 L129.7,401.4 L129.4,400.9 L129.2,400.4 L128.9,399.7 L128.8,399.2 L128.8,398.4 L128.8,397.7 L128.8,396.9 L128.8,396.2 L128.9,395.4 L129.0,394.9 L129.2,394.3 L129.4,393.7 L129.6,393.2 L129.7,392.7 L129.9,391.9 L129.9,391.2 L129.9,390.4 L129.9,389.7 L129.8,388.9 L129.7,388.4 L129.5,387.7 L129.3,387.2 L129.1,386.7 L128.9,386.2 L128.7,385.7 L128.4,385.2 L128.2,384.7 L128.0,384.1 L127.7,383.5 L127.5,382.9 L127.3,382.4 L127.2,381.7 L127.2,381.2 L127.2,380.7 L127.3,379.9 L127.5,379.4 L127.6,378.7 L127.8,378.2 L128.0,377.6 L128.2,377.0 L128.4,376.5 L128.7,376.1 L129.1,375.7 L129.4,375.4 L129.9,375.0 L130.4,374.7 L130.9,374.5 L131.4,374.3 L132.2,374.3 L132.9,374.4 L133.4,374.5 L133.9,374.8 L134.4,375.1 L134.8,375.4 L135.2,375.9 L135.5,376.2 L135.9,376.7 L136.2,377.2 L136.4,377.7 L136.6,378.2 L136.8,378.7 L136.9,379.4 L137.0,379.9 L137.1,380.7 L137.2,381.4 L137.2,381.9 L137.3,382.7 L137.3,383.4 L137.3,384.2 L137.4,384.9 L137.4,385.7 L137.5,386.2 L137.6,386.9 L137.7,387.4 L137.9,388.1 L138.2,388.7 L138.4,389.2 L138.7,389.5 L139.0,389.9 L139.4,390.3 L139.9,390.7 L140.2,390.9 L140.7,391.3 L141.2,391.6 L141.7,391.8 L142.2,392.1 L142.7,392.4 L143.0,392.7 L143.4,393.0 L143.9,393.4 L144.2,393.7 L144.6,394.2 L144.9,394.7 L145.2,395.2 L145.4,395.7 L145.7,396.2 L145.8,396.7 L145.9,397.4 L146.0,397.9 L146.0,398.7 L145.9,399.2 L145.8,399.9 L145.6,400.4 L145.4,400.9 L145.2,401.4 L144.9,401.9 L144.5,402.4 L144.2,402.8 L143.8,403.2 L143.4,403.5 L142.9,403.9 L142.4,404.2 L141.9,404.4 L141.4,404.7 L140.9,404.9 L140.4,405.0 L139.7,405.2 L139.2,405.3 L138.4,405.4Z" fill="#000" fill-opacity="0.022" stroke="#777" stroke-width="0.75"/>
<path d="M137.9,406.5 L137.2,406.5 L136.4,406.5 L135.9,406.4 L135.2,406.3 L134.7,406.2 L134.1,405.9 L133.5,405.7 L133.0,405.4 L132.5,405.2 L132.0,404.9 L131.5,404.7 L131.1,404.4 L130.7,404.2 L130.2,403.8 L129.9,403.4 L129.4,403.0 L129.2,402.6 L128.9,402.2 L128.6,401.7 L128.3,401.2 L128.1,400.7 L127.9,400.2 L127.8,399.4 L127.7,398.7 L127.7,398.2 L127.7,397.4 L127.7,396.9 L127.8,396.2 L127.9,395.4 L128.0,394.9 L128.2,394.2 L128.3,393.7 L128.4,393.1 L128.6,392.4 L128.7,391.7 L128.7,391.1 L128.7,390.5 L128.7,389.9 L128.6,389.2 L128.4,388.5 L128.3,387.9 L128.2,387.4 L128.0,386.8 L127.7,386.2 L127.5,385.7 L127.3,385.2 L127.1,384.7 L126.9,384.2 L126.7,383.7 L126.5,382.9 L126.4,382.4 L126.3,381.7 L126.2,380.9 L126.3,380.2 L126.4,379.4 L126.5,378.9 L126.7,378.2 L126.8,377.7 L127.0,377.1 L127.2,376.4 L127.4,375.9 L127.7,375.5 L128.0,375.2 L128.4,374.7 L128.7,374.4 L129.2,374.0 L129.7,373.7 L130.2,373.4 L130.7,373.2 L131.2,373.1 L131.9,373.0 L132.7,373.0 L133.4,373.2 L133.9,373.4 L134.4,373.7 L134.9,373.9 L135.2,374.2 L135.7,374.7 L135.9,375.0 L136.3,375.4 L136.7,375.9 L136.9,376.4 L137.2,376.9 L137.4,377.4 L137.6,377.9 L137.8,378.4 L137.9,379.2 L138.0,379.7 L138.1,380.4 L138.2,381.2 L138.2,381.7 L138.3,382.4 L138.4,383.2 L138.4,383.9 L138.5,384.4 L138.6,385.2 L138.7,385.9 L138.8,386.4 L138.9,387.0 L139.2,387.7 L139.4,388.2 L139.7,388.7 L139.9,389.1 L140.3,389.4 L140.7,389.9 L141.1,390.2 L141.5,390.4 L141.9,390.7 L142.4,391.0 L142.9,391.3 L143.4,391.6 L143.9,391.9 L144.2,392.2 L144.7,392.6 L145.0,392.9 L145.4,393.4 L145.7,393.8 L146.0,394.2 L146.2,394.7 L146.5,395.2 L146.7,395.8 L146.9,396.4 L147.0,396.9 L147.1,397.7 L147.1,398.4 L147.1,399.2 L147.0,399.9 L146.9,400.4 L146.7,401.1 L146.4,401.7 L146.2,402.2 L145.9,402.5 L145.6,402.9 L145.2,403.4 L144.9,403.7 L144.4,404.1 L144.0,404.4 L143.7,404.7 L143.2,405.0 L142.7,405.3 L142.2,405.5 L141.7,405.7 L140.9,405.9 L140.4,406.1 L139.8,406.2 L139.2,406.3 L138.4,406.4 L137.9,406.5Z" fill="#000" fill-opacity="0.022" stroke="#777" stroke-width="0.75"/>
<path d="M138.4,407.5 L137.7,407.5 L136.9,407.6 L136.2,407.5 L135.4,407.5 L134.9,407.4 L134.2,407.2 L133.7,407.0 L133.2,406.8 L132.7,406.5 L132.2,406.3 L131.7,406.0 L131.2,405.7 L130.7,405.5 L130.3,405.2 L129.9,404.9 L129.4,404.6 L129.0,404.2 L128.7,403.9 L128.3,403.4 L128.0,402.9 L127.7,402.5 L127.5,402.1 L127.2,401.6 L127.0,400.9 L126.8,400.4 L126.7,399.9 L126.6,399.2 L126.5,398.4 L126.5,397.7 L126.5,396.9 L126.6,396.2 L126.7,395.7 L126.9,394.9 L127.0,394.4 L127.2,393.7 L127.3,393.2 L127.4,392.4 L127.5,391.9 L127.5,391.2 L127.5,390.4 L127.5,389.7 L127.4,389.2 L127.3,388.4 L127.2,387.9 L127.0,387.2 L126.8,386.7 L126.6,386.2 L126.4,385.7 L126.2,385.1 L126.0,384.5 L125.7,383.9 L125.6,383.4 L125.5,382.8 L125.4,382.2 L125.3,381.4 L125.3,380.7 L125.3,379.9 L125.4,379.2 L125.5,378.7 L125.6,377.9 L125.7,377.4 L125.9,376.7 L126.1,376.2 L126.3,375.7 L126.5,375.2 L126.8,374.7 L127.2,374.2 L127.5,373.9 L127.9,373.4 L128.3,373.2 L128.7,372.9 L129.2,372.6 L129.7,372.3 L130.2,372.0 L130.7,371.9 L131.4,371.7 L132.2,371.8 L132.9,371.9 L133.4,372.0 L134.1,372.2 L134.7,372.4 L135.1,372.7 L135.5,372.9 L135.9,373.3 L136.3,373.7 L136.7,374.1 L136.9,374.5 L137.3,374.9 L137.6,375.4 L137.9,375.9 L138.1,376.4 L138.4,376.9 L138.5,377.4 L138.7,377.9 L138.9,378.7 L139.0,379.2 L139.1,379.9 L139.2,380.7 L139.2,381.2 L139.3,381.9 L139.4,382.7 L139.5,383.2 L139.5,383.9 L139.7,384.7 L139.8,385.2 L139.9,385.9 L140.1,386.4 L140.3,386.9 L140.5,387.4 L140.8,387.9 L141.1,388.4 L141.4,388.8 L141.9,389.2 L142.2,389.5 L142.7,389.8 L143.2,390.1 L143.7,390.4 L144.1,390.7 L144.5,390.9 L144.9,391.3 L145.4,391.7 L145.7,392.0 L146.2,392.4 L146.4,392.8 L146.8,393.2 L147.1,393.7 L147.4,394.2 L147.6,394.7 L147.8,395.2 L147.9,395.9 L148.1,396.4 L148.2,397.2 L148.3,397.7 L148.4,398.4 L148.4,399.2 L148.3,399.9 L148.2,400.6 L148.0,401.2 L147.8,401.7 L147.6,402.2 L147.3,402.7 L146.9,403.2 L146.7,403.5 L146.3,403.9 L145.9,404.3 L145.5,404.7 L145.1,404.9 L144.7,405.3 L144.2,405.7 L143.8,405.9 L143.3,406.2 L142.8,406.4 L142.2,406.7 L141.7,406.8 L141.2,407.0 L140.4,407.1 L139.9,407.2 L139.2,407.4 L138.5,407.4Z" fill="#000" fill-opacity="0.022" stroke="#777" stroke-width="0.75"/>
<rect x="118.7" y="364.6" width="0.9" height="0.9" fill="#aaa"/>
<rect x="137.8" y="384.6" width="0.9" height="0.9" fill="#aaa"/>
<rect x="135.8" y="400.3" width="0.9" height="0.9" fill="#aaa"/>
<rect x="139.6" y="409.0" width="0.9" height="0.9" fill="#aaa"/>
<rect x="148.6" y="371.7" width="0.9" height="0.9" fill="#aaa"/>
<rect x="127.5" y="403.3" width="0.9" height="0.9" fill="#aaa"/>
<rect x="131.7" y="386.6" width="0.9" height="0.9" fill="#aaa"/>
<rect x="151.4" y="404.2" width="0.9" height="0.9" fill="#aaa"/>
<rect x="129.5" y="402.6" width="0.9" height="0.9" fill="#aaa"/>
<rect x="116.6" y="383.0" width="0.9" height="0.9" fill="#aaa"/>
<rect x="143.2" y="392.1" width="0.9" height="0.9" fill="#aaa"/>
<rect x="119.6" y="397.1" width="0.9" height="0.9" fill="#aaa"/>
<rect x="136.3" y="407.1" width="0.9" height="0.9" fill="#aaa"/>
<rect x="143.9" y="388.4" width="0.9" height="0.9" fill="#aaa"/>
<rect x="126.6" y="390.0" width="0.9" height="0.9" fill="#aaa"/>
<rect x="129.6" y="409.2" width="0.9" height="0.9" fill="#aaa"/>
<rect x="151.4" y="408.0" width="0.9" height="0.9" fill="#aaa"/>
<rect x="136.9" y="388.7" width="0.9" height="0.9" fill="#aaa"/>
<rect x="143.2" y="387.5" width="0.9" height="0.9" fill="#aaa"/>
<rect x="135.2" y="371.7" width="0.9" height="0.9" fill="#aaa"/>
<rect x="127.3" y="408.9" width="0.9" height="0.9" fill="#aaa"/>
<rect x="120.1" y="373.8" width="0.9" height="0.9" fill="#aaa"/>
<rect x="130.4" y="411.7" width="0.9" height="0.9" fill="#aaa"/>
<rect x="149.8" y="387.4" width="0.9" height="0.9" fill="#aaa"/>
<rect x="126.7" y="390.3" width="0.9" height="0.9" fill="#aaa"/>
<rect x="121.2" y="392.1" width="0.9" height="0.9" fill="#aaa"/>
<rect x="128.8" y="373.9" width="0.9" height="0.9" fill="#aaa"/>
<rect x="125.4" y="388.6" width="0.9" height="0.9" fill="#aaa"/>
<rect x="122.1" y="378.2" width="0.9" height="0.9" fill="#aaa"/>
<rect x="143.3" y="414.4" width="0.9" height="0.9" fill="#aaa"/>
<rect x="128.9" y="386.6" width="0.9" height="0.9" fill="#aaa"/>
<rect x="138.4" y="388.9" width="0.9" height="0.9" fill="#aaa"/>
<rect x="123.0" y="408.4" width="0.9" height="0.9" fill="#aaa"/>
<rect x="119.9" y="382.9" width="0.9" height="0.9" fill="#aaa"/>
<rect x="124.4" y="381.1" width="0.9" height="0.9" fill="#aaa"/>
<rect x="129.5" y="398.6" width="0.9" height="0.9" fill="#aaa"/>
<rect x="149.7" y="399.6" width="0.9" height="0.9" fill="#aaa"/>
<rect x="132.8" y="376.7" width="0.9" height="0.9" fill="#aaa"/>
<rect x="131.7" y="380.4" width="0.9" height="0.9" fill="#aaa"/>
<path d="M209.9,399.9 L209.2,400.0 L208.6,399.9 L208.2,399.6 L207.8,399.2 L207.7,398.4 L207.9,397.8 L208.2,397.4 L208.7,397.0 L209.2,396.8 L209.7,396.6 L210.2,396.7 L210.7,397.0 L210.9,397.4 L211.1,398.2 L211.0,398.9 L210.7,399.4 L210.4,399.7 L209.9,399.9Z" fill="#000" fill-opacity="0.022" stroke="#555" stroke-width="0.75"/>
<path d="M209.4,400.9 L208.7,401.0 L208.2,400.9 L207.5,400.7 L207.1,400.4 L206.7,399.9 L206.4,399.6 L206.1,399.2 L205.9,398.7 L205.8,397.9 L205.9,397.4 L206.3,396.9 L206.7,396.6 L207.2,396.3 L207.7,396.0 L208.2,395.8 L208.7,395.6 L209.4,395.5 L210.2,395.5 L210.7,395.7 L211.2,396.1 L211.4,396.4 L211.7,396.9 L211.9,397.4 L212.0,398.2 L211.9,398.9 L211.7,399.4 L211.4,399.9 L211.1,400.2 L210.7,400.5 L210.2,400.7 L209.6,400.9Z" fill="#000" fill-opacity="0.022" stroke="#555" stroke-width="0.75"/>
<path d="M207.2,377.2 L206.4,377.2 L205.9,377.0 L205.5,376.7 L205.2,376.2 L205.0,375.7 L205.0,374.9 L205.2,374.4 L205.5,373.9 L205.9,373.4 L206.4,373.2 L207.2,373.3 L207.6,373.7 L207.9,374.0 L208.2,374.4 L208.4,375.0 L208.5,375.7 L208.4,376.2 L208.1,376.7 L207.7,377.0 L207.2,377.2Z" fill="#000" fill-opacity="0.022" stroke="#555" stroke-width="0.75"/>
<path d="M209.7,401.7 L208.9,401.8 L208.2,401.7 L207.6,401.7 L206.9,401.4 L206.4,401.2 L206.0,400.9 L205.7,400.6 L205.2,400.2 L204.9,399.9 L204.6,399.4 L204.3,398.9 L204.1,398.4 L204.1,397.7 L204.3,397.2 L204.6,396.7 L204.9,396.3 L205.4,395.9 L205.8,395.7 L206.2,395.4 L206.7,395.2 L207.3,394.9 L207.9,394.7 L208.4,394.6 L209.2,394.6 L209.9,394.6 L210.4,394.7 L210.9,394.9 L211.4,395.2 L211.8,395.7 L212.2,396.0 L212.4,396.5 L212.7,397.1 L212.8,397.7 L212.8,398.4 L212.7,399.1 L212.4,399.7 L212.2,400.1 L211.9,400.4 L211.4,400.8 L210.9,401.2 L210.4,401.4 L209.9,401.6Z" fill="#000" fill-opacity="0.022" stroke="#555" stroke-width="0.75"/>
<path d="M207.4,379.4 L206.7,379.5 L205.9,379.5 L205.4,379.3 L204.9,379.0 L204.4,378.7 L204.2,378.4 L203.7,377.9 L203.4,377.4 L203.2,376.9 L203.1,376.4 L203.1,375.7 L203.2,375.2 L203.4,374.5 L203.7,374.0 L203.9,373.5 L204.2,373.0 L204.4,372.6 L204.8,372.2 L205.2,371.8 L205.7,371.4 L206.2,371.2 L206.7,371.1 L207.2,371.2 L207.8,371.4 L208.2,371.7 L208.7,372.1 L208.9,372.4 L209.3,372.9 L209.6,373.4 L209.9,373.9 L210.1,374.4 L210.3,374.9 L210.3,375.7 L210.2,376.4 L210.1,376.9 L209.8,377.4 L209.5,377.9 L209.2,378.3 L208.7,378.7 L208.4,378.9 L207.9,379.2 L207.4,379.4Z" fill="#000" fill-opacity="0.022" stroke="#555" stroke-width="0.75"/>
<path d="M195.9,381.9 L195.4,381.9 L194.8,381.7 L194.4,381.3 L194.0,380.9 L193.8,380.4 L193.6,379.9 L193.5,379.2 L193.5,378.4 L193.5,377.7 L193.6,376.9 L193.7,376.4 L193.9,375.9 L194.2,375.4 L194.7,374.9 L195.0,374.7 L195.5,374.4 L196.2,374.3 L196.7,374.4 L197.2,374.7 L197.7,375.1 L197.9,375.4 L198.2,375.9 L198.4,376.4 L198.6,377.2 L198.6,377.9 L198.5,378.7 L198.4,379.2 L198.2,379.9 L198.0,380.4 L197.7,380.9 L197.4,381.2 L196.9,381.6 L196.4,381.8 L195.9,381.9Z" fill="#000" fill-opacity="0.022" stroke="#555" stroke-width="0.75"/>
<path d="M209.2,402.4 L208.4,402.5 L207.7,402.5 L207.1,402.4 L206.4,402.2 L205.9,402.0 L205.4,401.8 L204.9,401.5 L204.4,401.2 L204.0,400.9 L203.6,400.7 L203.2,400.3 L202.8,399.9 L202.4,399.4 L202.3,398.9 L202.2,398.2 L202.3,397.4 L202.5,396.9 L202.8,396.4 L203.1,395.9 L203.4,395.6 L203.9,395.3 L204.4,395.0 L204.9,394.7 L205.4,394.5 L205.9,394.3 L206.4,394.1 L207.2,393.9 L207.7,393.8 L208.4,393.8 L209.2,393.8 L209.9,393.9 L210.4,394.0 L210.9,394.2 L211.4,394.4 L211.9,394.7 L212.3,395.2 L212.7,395.5 L212.9,395.9 L213.2,396.4 L213.4,397.2 L213.5,397.7 L213.5,398.4 L213.4,398.9 L213.2,399.7 L212.9,400.1 L212.7,400.5 L212.3,400.9 L211.9,401.3 L211.4,401.6 L210.9,401.9 L210.4,402.1 L209.9,402.3 L209.4,402.4Z" fill="#000" fill-opacity="0.022" stroke="#555" stroke-width="0.75"/>
<path d="M196.7,383.7 L195.9,383.7 L195.4,383.6 L194.8,383.4 L194.4,383.2 L193.9,382.8 L193.5,382.4 L193.2,381.9 L192.9,381.4 L192.7,380.9 L192.6,380.4 L192.5,379.7 L192.4,378.9 L192.4,378.2 L192.4,377.4 L192.5,376.7 L192.6,375.9 L192.8,375.4 L193.0,374.9 L193.3,374.4 L193.7,374.0 L194.0,373.7 L194.4,373.3 L194.9,373.0 L195.4,372.8 L196.2,372.8 L196.7,372.9 L197.2,373.2 L197.7,373.4 L198.2,373.7 L198.7,374.0 L199.2,374.3 L199.6,374.7 L200.1,374.9 L200.7,375.0 L201.2,374.7 L201.5,374.4 L201.9,374.0 L202.2,373.6 L202.5,373.2 L202.8,372.7 L203.2,372.2 L203.4,371.8 L203.8,371.4 L204.2,371.0 L204.6,370.7 L205.0,370.4 L205.5,370.2 L206.2,370.0 L206.7,369.9 L207.4,369.9 L207.9,370.0 L208.4,370.2 L208.9,370.5 L209.4,370.9 L209.7,371.2 L210.1,371.7 L210.4,372.1 L210.7,372.6 L210.9,373.1 L211.1,373.7 L211.3,374.2 L211.4,374.8 L211.5,375.4 L211.4,376.2 L211.3,376.7 L211.2,377.2 L210.9,377.8 L210.7,378.2 L210.3,378.7 L209.9,379.2 L209.7,379.5 L209.3,379.9 L208.9,380.2 L208.4,380.6 L208.0,380.9 L207.4,381.2 L206.9,381.4 L206.4,381.5 L205.9,381.7 L205.2,381.8 L204.4,381.7 L203.9,381.5 L203.5,381.2 L203.2,380.8 L202.8,380.4 L202.5,379.9 L202.2,379.5 L201.8,379.2 L201.2,378.9 L200.9,379.0 L200.6,379.4 L200.4,379.9 L200.2,380.7 L200.1,381.2 L199.9,381.7 L199.6,382.2 L199.2,382.7 L198.9,382.9 L198.4,383.2 L197.8,383.4 L197.2,383.6 L196.7,383.7Z" fill="#000" fill-opacity="0.022" stroke="#555" stroke-width="0.75"/>
<path d="M208.7,403.2 L207.9,403.2 L207.2,403.2 L206.7,403.1 L205.9,403.0 L205.4,402.9 L204.7,402.7 L204.2,402.4 L203.7,402.2 L203.2,402.0 L202.7,401.7 L202.2,401.4 L201.9,401.1 L201.4,400.7 L201.1,400.4 L200.7,399.9 L200.5,399.4 L200.4,398.9 L200.4,398.2 L200.5,397.7 L200.6,396.9 L200.8,396.4 L201.0,395.9 L201.2,395.4 L201.5,394.9 L201.8,394.4 L202.2,394.1 L202.7,393.7 L203.2,393.4 L203.7,393.2 L204.2,393.1 L204.9,393.0 L205.7,392.9 L206.2,392.9 L206.9,392.9 L207.4,392.9 L208.2,392.9 L208.9,393.0 L209.7,393.1 L210.2,393.2 L210.8,393.4 L211.4,393.7 L211.8,393.9 L212.2,394.2 L212.7,394.5 L213.0,394.9 L213.3,395.4 L213.6,395.9 L213.8,396.4 L214.0,396.9 L214.1,397.7 L214.1,398.4 L214.0,399.2 L213.8,399.7 L213.6,400.2 L213.3,400.7 L212.9,401.2 L212.7,401.4 L212.2,401.9 L211.8,402.2 L211.4,402.4 L210.8,402.7 L210.2,402.9 L209.7,403.0 L208.9,403.1Z" fill="#000" fill-opacity="0.022" stroke="#555" stroke-width="0.75"/>
<path d="M208.9,403.9 L208.2,404.0 L207.4,404.0 L206.7,404.0 L205.9,404.0 L205.4,403.9 L204.7,403.8 L204.1,403.7 L203.4,403.5 L202.9,403.3 L202.4,403.1 L201.9,402.8 L201.4,402.5 L201.0,402.2 L200.7,401.9 L200.2,401.5 L199.8,401.2 L199.4,400.7 L199.2,400.2 L199.0,399.7 L198.9,399.2 L198.8,398.4 L198.9,397.9 L199.0,397.2 L199.2,396.7 L199.3,395.9 L199.5,395.4 L199.7,394.7 L199.8,394.2 L200.1,393.7 L200.3,393.2 L200.6,392.7 L200.8,392.2 L201.0,391.7 L201.1,390.9 L201.0,390.2 L200.8,389.7 L200.6,389.2 L200.4,388.6 L200.2,387.9 L200.0,387.4 L199.7,386.9 L199.4,386.5 L198.9,386.2 L198.4,386.0 L197.9,385.9 L197.2,385.8 L196.4,385.7 L195.9,385.5 L195.4,385.4 L194.9,385.1 L194.4,384.8 L193.9,384.4 L193.6,384.2 L193.2,383.7 L192.9,383.4 L192.5,382.9 L192.2,382.4 L192.0,381.9 L191.8,381.4 L191.7,380.8 L191.6,380.2 L191.5,379.4 L191.5,378.7 L191.4,377.9 L191.5,377.2 L191.5,376.4 L191.6,375.7 L191.7,375.2 L191.9,374.6 L192.2,374.1 L192.4,373.7 L192.8,373.2 L193.2,372.7 L193.4,372.4 L193.9,372.0 L194.4,371.7 L194.9,371.5 L195.4,371.4 L195.9,371.4 L196.7,371.6 L197.2,371.7 L197.7,371.9 L198.3,372.2 L198.9,372.4 L199.4,372.5 L200.2,372.6 L200.7,372.4 L201.2,372.1 L201.7,371.7 L202.0,371.4 L202.4,371.0 L202.7,370.7 L203.2,370.3 L203.6,369.9 L204.0,369.7 L204.4,369.4 L205.0,369.2 L205.6,368.9 L206.2,368.8 L206.9,368.7 L207.7,368.7 L208.4,368.9 L208.9,369.0 L209.4,369.3 L209.9,369.6 L210.3,369.9 L210.7,370.3 L211.0,370.7 L211.4,371.2 L211.6,371.7 L211.9,372.2 L212.1,372.7 L212.2,373.2 L212.4,373.9 L212.4,374.4 L212.5,375.2 L212.5,375.9 L212.4,376.6 L212.3,377.2 L212.1,377.7 L211.9,378.2 L211.6,378.7 L211.3,379.2 L210.9,379.7 L210.7,380.0 L210.4,380.4 L209.9,380.9 L209.7,381.2 L209.2,381.7 L208.9,381.9 L208.4,382.3 L207.9,382.7 L207.6,382.9 L207.2,383.2 L206.7,383.7 L206.4,384.0 L206.1,384.4 L205.9,385.0 L205.7,385.7 L205.7,386.4 L205.6,386.9 L205.6,387.7 L205.5,388.4 L205.5,389.2 L205.6,389.9 L205.8,390.4 L206.2,390.8 L206.5,391.2 L206.9,391.4 L207.5,391.7 L208.2,391.9 L208.7,392.0 L209.2,392.2 L209.9,392.3 L210.4,392.5 L210.9,392.7 L211.5,392.9 L212.0,393.2 L212.4,393.4 L212.9,393.8 L213.2,394.2 L213.7,394.6 L213.9,395.0 L214.2,395.4 L214.4,395.9 L214.6,396.7 L214.8,397.2 L214.9,397.9 L214.8,398.7 L214.7,399.4 L214.5,399.9 L214.3,400.4 L213.9,400.9 L213.7,401.3 L213.4,401.7 L212.9,402.1 L212.6,402.4 L212.2,402.7 L211.7,403.1 L211.2,403.3 L210.7,403.5 L210.1,403.7 L209.4,403.8 L208.9,403.9Z" fill="#000" fill-opacity="0.022" stroke="#777" stroke-width="0.75"/>
<path d="M206.9,404.9 L206.2,404.9 L205.5,404.9 L204.9,404.9 L204.2,404.8 L203.4,404.7 L202.9,404.5 L202.4,404.4 L201.7,404.2 L201.2,403.9 L200.8,403.7 L200.4,403.4 L199.9,403.0 L199.4,402.7 L199.1,402.4 L198.7,401.9 L198.4,401.7 L198.0,401.2 L197.8,400.7 L197.6,400.2 L197.5,399.4 L197.5,398.7 L197.6,397.9 L197.7,397.3 L197.8,396.7 L197.9,395.9 L197.9,395.4 L198.0,394.7 L198.1,393.9 L198.2,393.4 L198.3,392.7 L198.3,391.9 L198.2,391.2 L198.1,390.7 L197.9,390.1 L197.7,389.4 L197.5,388.9 L197.2,388.4 L196.9,388.0 L196.4,387.7 L196.0,387.4 L195.6,387.2 L195.1,386.9 L194.7,386.6 L194.2,386.3 L193.7,385.9 L193.4,385.6 L193.0,385.2 L192.7,384.8 L192.3,384.4 L192.0,383.9 L191.7,383.4 L191.4,382.9 L191.2,382.4 L191.0,381.9 L190.9,381.4 L190.7,380.7 L190.6,380.2 L190.6,379.4 L190.5,378.7 L190.5,377.9 L190.5,377.2 L190.5,376.4 L190.6,375.7 L190.7,375.2 L190.9,374.4 L191.1,373.9 L191.3,373.4 L191.6,372.9 L191.9,372.4 L192.2,372.1 L192.4,371.7 L192.8,371.2 L193.2,370.8 L193.7,370.4 L194.2,370.2 L194.7,370.0 L195.2,369.9 L195.9,369.9 L196.4,370.0 L197.1,370.2 L197.7,370.3 L198.2,370.4 L198.9,370.6 L199.4,370.7 L199.9,370.6 L200.7,370.4 L201.2,370.2 L201.6,369.9 L201.9,369.7 L202.4,369.3 L202.9,369.0 L203.4,368.7 L203.8,368.4 L204.3,368.2 L204.9,367.9 L205.4,367.7 L205.9,367.6 L206.7,367.4 L207.4,367.4 L208.2,367.5 L208.7,367.7 L209.3,367.9 L209.8,368.2 L210.2,368.4 L210.7,368.7 L211.2,369.1 L211.5,369.4 L211.9,369.8 L212.2,370.2 L212.5,370.7 L212.8,371.2 L213.0,371.7 L213.2,372.2 L213.3,372.9 L213.4,373.4 L213.5,374.2 L213.5,374.9 L213.5,375.7 L213.5,376.4 L213.4,377.0 L213.2,377.7 L213.1,378.2 L212.8,378.7 L212.5,379.2 L212.2,379.7 L211.9,380.1 L211.7,380.5 L211.3,380.9 L211.0,381.4 L210.7,381.8 L210.4,382.2 L210.0,382.7 L209.7,383.1 L209.4,383.4 L209.0,383.9 L208.7,384.3 L208.4,384.7 L208.1,385.2 L207.9,385.7 L207.7,386.4 L207.6,386.9 L207.5,387.7 L207.6,388.4 L207.7,389.0 L207.9,389.7 L208.2,390.1 L208.4,390.4 L208.9,390.8 L209.4,391.1 L209.9,391.3 L210.4,391.5 L210.9,391.7 L211.4,392.0 L211.9,392.2 L212.4,392.5 L212.9,392.9 L213.2,393.2 L213.7,393.5 L214.0,393.9 L214.4,394.4 L214.7,394.8 L214.9,395.3 L215.2,395.9 L215.3,396.4 L215.4,396.9 L215.6,397.7 L215.6,398.4 L215.5,399.2 L215.4,399.7 L215.2,400.2 L214.9,400.7 L214.6,401.2 L214.3,401.7 L213.9,402.1 L213.6,402.4 L213.2,402.9 L212.8,403.2 L212.4,403.5 L211.9,403.8 L211.4,404.0 L210.9,404.2 L210.3,404.4 L209.7,404.6 L209.2,404.7 L208.4,404.8 L207.7,404.9 L207.0,404.9Z" fill="#000" fill-opacity="0.022" stroke="#777" stroke-width="0.75"/>
<path d="M206.7,405.9 L205.9,406.0 L205.2,406.0 L204.4,405.9 L203.9,405.9 L203.2,405.8 L202.5,405.7 L201.9,405.5 L201.4,405.4 L200.8,405.2 L200.3,404.9 L199.8,404.7 L199.4,404.4 L198.9,404.0 L198.4,403.7 L198.1,403.4 L197.7,403.0 L197.3,402.7 L196.9,402.2 L196.7,401.7 L196.4,401.2 L196.2,400.7 L196.1,400.2 L196.1,399.4 L196.1,398.7 L196.2,398.1 L196.2,397.4 L196.3,396.7 L196.4,395.9 L196.4,395.4 L196.5,394.7 L196.5,393.9 L196.5,393.2 L196.5,392.4 L196.4,391.9 L196.2,391.2 L196.0,390.7 L195.8,390.2 L195.5,389.7 L195.2,389.2 L194.9,388.8 L194.5,388.4 L194.2,388.1 L193.7,387.7 L193.4,387.4 L192.9,386.9 L192.7,386.6 L192.3,386.2 L191.9,385.7 L191.7,385.3 L191.4,384.9 L191.1,384.4 L190.8,383.9 L190.6,383.4 L190.4,382.9 L190.2,382.2 L190.0,381.7 L189.9,381.2 L189.7,380.4 L189.7,379.9 L189.6,379.2 L189.6,378.4 L189.6,377.7 L189.6,376.9 L189.6,376.2 L189.7,375.6 L189.7,374.9 L189.9,374.2 L190.1,373.7 L190.3,373.2 L190.5,372.7 L190.8,372.2 L191.1,371.7 L191.4,371.2 L191.7,370.8 L191.9,370.4 L192.3,369.9 L192.7,369.6 L193.2,369.2 L193.6,368.9 L194.1,368.7 L194.7,368.5 L195.2,368.3 L195.9,368.3 L196.7,368.4 L197.2,368.5 L197.9,368.6 L198.4,368.7 L199.2,368.8 L199.9,368.8 L200.7,368.7 L201.2,368.5 L201.7,368.3 L202.2,368.0 L202.7,367.7 L203.1,367.4 L203.5,367.2 L203.9,366.9 L204.5,366.7 L205.2,366.4 L205.7,366.3 L206.3,366.2 L206.9,366.1 L207.7,366.1 L208.2,366.2 L208.9,366.4 L209.4,366.6 L209.9,366.8 L210.4,367.1 L210.9,367.4 L211.2,367.7 L211.7,368.0 L212.1,368.4 L212.4,368.7 L212.8,369.2 L213.2,369.6 L213.4,370.0 L213.7,370.4 L213.9,370.9 L214.2,371.5 L214.3,372.2 L214.5,372.7 L214.6,373.4 L214.7,374.1 L214.7,374.7 L214.7,375.4 L214.7,376.1 L214.6,376.7 L214.5,377.4 L214.3,377.9 L214.2,378.4 L213.9,379.0 L213.7,379.4 L213.3,379.9 L213.0,380.4 L212.7,380.9 L212.4,381.4 L212.2,381.8 L211.9,382.2 L211.6,382.7 L211.2,383.2 L210.9,383.6 L210.7,384.0 L210.4,384.4 L210.1,384.9 L209.8,385.4 L209.6,385.9 L209.4,386.6 L209.3,387.2 L209.2,387.9 L209.4,388.7 L209.5,389.2 L209.8,389.7 L210.2,390.0 L210.6,390.4 L210.9,390.7 L211.4,390.9 L211.9,391.2 L212.4,391.6 L212.9,391.9 L213.2,392.2 L213.7,392.5 L214.1,392.9 L214.4,393.2 L214.8,393.7 L215.1,394.2 L215.4,394.6 L215.7,395.1 L215.9,395.7 L216.0,396.2 L216.2,396.7 L216.3,397.4 L216.3,398.2 L216.3,398.9 L216.2,399.6 L216.0,400.2 L215.8,400.7 L215.5,401.2 L215.2,401.7 L214.9,402.1 L214.6,402.4 L214.2,402.9 L213.9,403.2 L213.5,403.7 L213.1,403.9 L212.7,404.2 L212.2,404.5 L211.7,404.8 L211.2,405.0 L210.7,405.2 L209.9,405.4 L209.4,405.5 L208.7,405.7 L208.2,405.7 L207.4,405.8 L206.7,405.9Z" fill="#000" fill-opacity="0.022" stroke="#777" stroke-width="0.75"/>
<rect x="200.6" y="399.6" width="0.9" height="0.9" fill="#aaa"/>
<rect x="204.2" y="385.4" width="0.9" height="0.9" fill="#aaa"/>
<rect x="192.7" y="387.6" width="0.9" height="0.9" fill="#aaa"/>
<rect x="203.1" y="376.7" width="0.9" height="0.9" fill="#aaa"/>
<rect x="195.7" y="398.5" width="0.9" height="0.9" fill="#aaa"/>
<rect x="181.8" y="382.6" width="0.9" height="0.9" fill="#aaa"/>
<rect x="187.7" y="406.4" width="0.9" height="0.9" fill="#aaa"/>
<rect x="209.0" y="394.1" width="0.9" height="0.9" fill="#aaa"/>
<rect x="206.5" y="391.3" width="0.9" height="0.9" fill="#aaa"/>
<rect x="205.2" y="368.9" width="0.9" height="0.9" fill="#aaa"/>
<rect x="204.8" y="395.0" width="0.9" height="0.9" fill="#aaa"/>
<rect x="184.6" y="397.8" width="0.9" height="0.9" fill="#aaa"/>
<rect x="209.7" y="369.6" width="0.9" height="0.9" fill="#aaa"/>
<rect x="196.1" y="384.2" width="0.9" height="0.9" fill="#aaa"/>
<rect x="195.4" y="392.6" width="0.9" height="0.9" fill="#aaa"/>
<rect x="186.4" y="385.2" width="0.9" height="0.9" fill="#aaa"/>
<rect x="204.4" y="396.6" width="0.9" height="0.9" fill="#aaa"/>
<rect x="202.3" y="385.0" width="0.9" height="0.9" fill="#aaa"/>
<rect x="210.0" y="364.0" width="0.9" height="0.9" fill="#aaa"/>
<rect x="212.9" y="384.2" width="0.9" height="0.9" fill="#aaa"/>
<rect x="186.7" y="382.7" width="0.9" height="0.9" fill="#aaa"/>
<rect x="179.7" y="363.3" width="0.9" height="0.9" fill="#aaa"/>
<rect x="197.8" y="378.5" width="0.9" height="0.9" fill="#aaa"/>
<rect x="210.5" y="377.2" width="0.9" height="0.9" fill="#aaa"/>
<rect x="186.2" y="376.4" width="0.9" height="0.9" fill="#aaa"/>
<rect x="222.3" y="388.2" width="0.9" height="0.9" fill="#aaa"/>
<rect x="194.4" y="376.0" width="0.9" height="0.9" fill="#aaa"/>
<rect x="188.5" y="385.9" width="0.9" height="0.9" fill="#aaa"/>
<rect x="206.9" y="401.7" width="0.9" height="0.9" fill="#aaa"/>
<rect x="215.5" y="391.1" width="0.9" height="0.9" fill="#aaa"/>
<rect x="193.8" y="377.6" width="0.9" height="0.9" fill="#aaa"/>
<rect x="174.0" y="375.7" width="0.9" height="0.9" fill="#aaa"/>
<rect x="206.8" y="383.8" width="0.9" height="0.9" fill="#aaa"/>
<rect x="206.1" y="371.7" width="0.9" height="0.9" fill="#aaa"/>
<rect x="212.5" y="391.4" width="0.9" height="0.9" fill="#aaa"/>
<rect x="202.2" y="392.7" width="0.9" height="0.9" fill="#aaa"/>
<rect x="174.9" y="381.2" width="0.9" height="0.9" fill="#aaa"/>
<rect x="191.0" y="409.6" width="0.9" height="0.9" fill="#aaa"/>
<rect x="199.5" y="381.8" width="0.9" height="0.9" fill="#aaa"/>
<rect x="212.0" y="375.2" width="0.9" height="0.9" fill="#aaa"/>
<path d="M273.6,377.5 L272.8,377.7 L272.1,377.7 L271.3,377.5 L270.8,377.2 L270.4,376.9 L270.0,376.7 L269.6,376.3 L269.2,375.9 L269.1,375.2 L269.4,374.7 L269.8,374.4 L270.3,374.0 L270.8,373.8 L271.3,373.6 L272.1,373.5 L272.6,373.4 L273.1,373.4 L273.8,373.6 L274.4,373.7 L275.0,373.9 L275.4,374.2 L275.8,374.5 L276.1,374.9 L276.1,375.7 L275.8,376.2 L275.6,376.5 L275.1,376.9 L274.6,377.1 L274.1,377.3 L273.6,377.5Z" fill="#000" fill-opacity="0.022" stroke="#555" stroke-width="0.75"/>
<path d="M273.1,379.0 L272.3,379.1 L271.6,379.1 L270.8,379.0 L270.3,378.8 L269.8,378.5 L269.3,378.3 L268.8,378.0 L268.4,377.7 L268.0,377.4 L267.6,377.0 L267.2,376.7 L266.9,376.2 L266.8,375.7 L266.8,375.1 L267.1,374.5 L267.3,374.1 L267.7,373.7 L268.1,373.4 L268.6,373.1 L269.1,372.8 L269.6,372.6 L270.1,372.4 L270.7,372.2 L271.3,372.1 L272.1,372.1 L272.8,372.1 L273.6,372.1 L274.3,372.1 L274.8,372.2 L275.6,372.4 L276.1,372.6 L276.6,372.8 L277.1,373.1 L277.5,373.4 L277.8,373.7 L278.3,374.2 L278.6,374.5 L278.9,374.9 L279.3,375.3 L280.1,375.2 L280.6,375.2 L281.1,375.3 L281.4,375.7 L281.7,376.2 L281.8,376.7 L281.7,377.2 L281.3,377.5 L280.8,377.4 L280.3,377.1 L279.8,376.7 L279.5,376.4 L278.8,376.4 L278.3,376.6 L277.8,376.9 L277.4,377.2 L277.0,377.4 L276.6,377.7 L276.1,378.0 L275.6,378.2 L274.9,378.4 L274.3,378.6 L273.8,378.8 L273.3,378.9Z" fill="#000" fill-opacity="0.022" stroke="#555" stroke-width="0.75"/>
<path d="M273.3,380.2 L272.6,380.3 L271.8,380.3 L271.1,380.2 L270.6,380.1 L269.9,379.9 L269.3,379.7 L268.8,379.5 L268.3,379.2 L267.9,378.9 L267.5,378.7 L267.1,378.4 L266.6,378.0 L266.2,377.7 L265.8,377.3 L265.5,376.9 L265.1,376.4 L264.9,375.9 L264.7,375.4 L264.6,374.7 L264.7,373.9 L265.1,373.6 L265.6,373.2 L266.0,372.9 L266.4,372.7 L266.9,372.4 L267.3,372.2 L267.8,371.9 L268.3,371.7 L268.8,371.4 L269.5,371.2 L270.1,371.1 L270.8,371.0 L271.6,371.0 L272.3,371.0 L273.1,371.0 L273.8,371.0 L274.6,371.0 L275.3,371.1 L275.8,371.2 L276.5,371.4 L277.1,371.6 L277.6,371.8 L278.1,372.0 L278.6,372.2 L279.3,372.4 L279.8,372.6 L280.3,372.7 L281.0,372.9 L281.5,373.2 L281.9,373.4 L282.3,373.9 L282.6,374.3 L282.8,374.8 L283.0,375.4 L283.2,375.9 L283.2,376.7 L283.2,377.4 L283.1,378.1 L282.8,378.6 L282.5,378.9 L282.1,379.2 L281.3,379.3 L280.7,379.2 L280.1,379.0 L279.6,378.8 L279.1,378.7 L278.3,378.6 L277.8,378.7 L277.2,378.9 L276.6,379.2 L276.1,379.4 L275.6,379.6 L275.1,379.8 L274.5,379.9 L273.8,380.1 L273.3,380.2Z" fill="#000" fill-opacity="0.022" stroke="#555" stroke-width="0.75"/>
<path d="M274.8,381.2 L274.1,381.3 L273.3,381.4 L272.6,381.4 L271.8,381.3 L271.1,381.2 L270.6,381.2 L269.8,381.0 L269.3,380.9 L268.8,380.7 L268.2,380.4 L267.7,380.2 L267.3,379.9 L266.8,379.7 L266.3,379.3 L265.8,379.0 L265.3,378.7 L264.9,378.4 L264.5,378.2 L264.1,377.9 L263.6,377.6 L263.1,377.3 L262.7,376.9 L262.3,376.6 L261.9,376.2 L261.6,375.8 L261.3,375.4 L261.0,374.9 L260.7,374.4 L260.6,373.7 L260.7,372.9 L260.9,372.4 L261.3,371.9 L261.6,371.7 L262.1,371.4 L262.6,371.1 L263.3,371.0 L264.1,371.1 L264.6,371.2 L265.3,371.3 L266.1,371.2 L266.6,371.1 L267.1,370.9 L267.6,370.7 L268.3,370.4 L268.8,370.3 L269.3,370.2 L270.1,370.1 L270.8,370.0 L271.6,370.0 L272.3,370.0 L273.1,370.0 L273.8,370.0 L274.6,370.0 L275.3,370.1 L275.9,370.2 L276.6,370.4 L277.1,370.5 L277.6,370.7 L278.3,370.9 L278.8,371.0 L279.6,371.2 L280.1,371.3 L280.7,371.4 L281.3,371.7 L281.7,371.9 L282.1,372.2 L282.6,372.6 L282.9,372.9 L283.2,373.4 L283.5,373.9 L283.7,374.4 L283.8,374.9 L284.0,375.7 L284.0,376.4 L284.1,376.9 L284.0,377.4 L283.9,378.2 L283.7,378.7 L283.5,379.2 L283.2,379.7 L282.8,380.1 L282.3,380.4 L281.8,380.5 L281.1,380.5 L280.6,380.4 L279.8,380.2 L279.3,380.1 L278.6,380.0 L277.8,380.2 L277.3,380.4 L276.8,380.6 L276.3,380.8 L275.8,381.0 L275.1,381.2Z" fill="#000" fill-opacity="0.022" stroke="#555" stroke-width="0.75"/>
<path d="M275.3,401.2 L274.6,401.3 L274.0,401.2 L273.6,400.7 L273.4,400.2 L273.6,399.6 L273.9,399.2 L274.3,398.9 L275.1,398.8 L275.6,399.0 L276.0,399.4 L276.1,399.9 L276.1,400.5 L275.7,400.9 L275.3,401.2Z" fill="#000" fill-opacity="0.022" stroke="#555" stroke-width="0.75"/>
<path d="M274.6,382.5 L273.8,382.6 L273.1,382.6 L272.3,382.5 L271.7,382.4 L271.1,382.4 L270.3,382.2 L269.8,382.1 L269.2,381.9 L268.6,381.7 L268.1,381.5 L267.6,381.2 L267.1,381.0 L266.6,380.7 L266.1,380.5 L265.6,380.2 L265.1,380.0 L264.6,379.7 L264.1,379.5 L263.6,379.3 L263.1,379.0 L262.6,378.7 L262.2,378.4 L261.8,378.1 L261.4,377.7 L261.1,377.3 L260.8,376.9 L260.4,376.4 L260.1,375.9 L259.9,375.4 L259.7,374.9 L259.5,374.4 L259.4,373.7 L259.5,372.9 L259.7,372.4 L259.9,371.9 L260.3,371.4 L260.6,371.2 L261.1,370.7 L261.4,370.4 L261.8,370.2 L262.5,369.9 L263.1,369.8 L263.8,369.8 L264.6,369.8 L265.3,369.9 L266.1,369.8 L266.8,369.7 L267.3,369.6 L268.1,369.5 L268.6,369.4 L269.3,369.2 L269.8,369.2 L270.6,369.1 L271.3,369.1 L272.1,369.1 L272.8,369.0 L273.6,369.0 L274.3,369.0 L275.1,369.0 L275.8,369.2 L276.3,369.3 L276.8,369.5 L277.6,369.7 L278.1,369.8 L278.8,369.9 L279.3,370.0 L280.1,370.1 L280.6,370.2 L281.2,370.4 L281.7,370.7 L282.1,371.0 L282.6,371.4 L282.9,371.7 L283.3,372.2 L283.6,372.5 L283.9,372.9 L284.1,373.4 L284.3,373.9 L284.5,374.7 L284.6,375.2 L284.7,375.9 L284.7,376.7 L284.7,377.4 L284.6,378.2 L284.4,378.7 L284.3,379.2 L284.1,379.7 L283.8,380.2 L283.4,380.7 L283.1,381.1 L282.6,381.4 L282.1,381.6 L281.3,381.6 L280.6,381.5 L280.0,381.4 L279.3,381.4 L278.6,381.4 L278.1,381.5 L277.5,381.7 L276.8,381.9 L276.3,382.0 L275.7,382.2 L275.1,382.4 L274.6,382.5Z" fill="#000" fill-opacity="0.022" stroke="#555" stroke-width="0.75"/>
<path d="M275.8,402.7 L275.1,402.9 L274.3,402.9 L273.6,402.7 L273.1,402.4 L272.8,402.2 L272.4,401.7 L272.1,401.2 L271.9,400.7 L271.9,399.9 L272.0,399.2 L272.1,398.7 L272.4,398.2 L272.8,397.7 L273.2,397.4 L273.7,397.2 L274.3,397.0 L275.1,397.0 L275.8,397.1 L276.3,397.3 L276.8,397.6 L277.2,397.9 L277.5,398.4 L277.8,398.9 L277.9,399.4 L278.0,400.2 L277.8,400.9 L277.6,401.4 L277.3,401.8 L276.9,402.2 L276.4,402.4 L275.8,402.7Z" fill="#000" fill-opacity="0.022" stroke="#555" stroke-width="0.75"/>
<path d="M273.8,384.5 L273.1,384.7 L272.3,384.6 L271.8,384.4 L271.1,384.2 L270.6,384.0 L270.1,383.9 L269.6,383.7 L269.1,383.4 L268.6,383.1 L268.1,382.8 L267.6,382.6 L267.1,382.3 L266.6,382.0 L266.1,381.8 L265.6,381.5 L265.1,381.3 L264.6,381.1 L264.1,380.9 L263.6,380.7 L263.0,380.4 L262.5,380.2 L262.1,379.9 L261.6,379.6 L261.1,379.2 L260.8,378.9 L260.4,378.4 L260.1,378.0 L259.8,377.6 L259.6,377.2 L259.3,376.7 L259.1,376.2 L258.8,375.6 L258.6,374.9 L258.5,374.4 L258.4,373.7 L258.4,372.9 L258.6,372.4 L258.8,371.8 L259.1,371.3 L259.3,370.9 L259.7,370.4 L260.1,370.1 L260.5,369.7 L260.9,369.4 L261.3,369.2 L261.8,368.9 L262.5,368.7 L263.1,368.6 L263.8,368.6 L264.6,368.6 L265.3,368.6 L266.1,368.6 L266.8,368.5 L267.5,368.4 L268.1,368.4 L268.8,368.3 L269.4,368.2 L270.1,368.1 L270.8,368.1 L271.6,368.0 L272.3,368.0 L272.8,367.9 L273.6,367.9 L274.3,367.9 L274.9,367.9 L275.6,368.0 L276.2,368.2 L276.8,368.4 L277.3,368.5 L278.1,368.7 L278.6,368.8 L279.3,368.9 L279.8,369.0 L280.6,369.1 L281.1,369.2 L281.6,369.4 L282.1,369.7 L282.6,370.1 L283.0,370.4 L283.3,370.8 L283.7,371.2 L284.0,371.7 L284.3,372.1 L284.6,372.5 L284.8,372.9 L285.1,373.5 L285.3,374.2 L285.4,374.7 L285.5,375.4 L285.5,376.2 L285.5,376.9 L285.4,377.7 L285.3,378.2 L285.1,378.9 L285.0,379.4 L284.8,379.9 L284.5,380.4 L284.2,380.9 L283.9,381.4 L283.6,381.8 L283.1,382.2 L282.6,382.4 L282.1,382.6 L281.6,382.7 L280.8,382.7 L280.3,382.7 L279.6,382.6 L278.8,382.7 L278.3,382.8 L277.6,382.9 L277.1,383.1 L276.6,383.3 L276.1,383.5 L275.6,383.7 L275.0,383.9 L274.5,384.2 L273.9,384.4Z" fill="#000" fill-opacity="0.022" stroke="#777" stroke-width="0.75"/>
<path d="M273.3,390.7 L272.6,390.9 L271.8,390.8 L271.3,390.6 L270.8,390.2 L270.5,389.9 L270.1,389.4 L270.0,388.9 L270.0,388.2 L270.2,387.7 L270.6,387.2 L270.8,386.9 L271.3,386.5 L271.8,386.2 L272.3,386.0 L273.1,386.1 L273.6,386.3 L274.0,386.7 L274.3,387.1 L274.6,387.6 L274.7,388.2 L274.7,388.9 L274.5,389.4 L274.2,389.9 L273.8,390.4 L273.4,390.7Z" fill="#000" fill-opacity="0.022" stroke="#777" stroke-width="0.75"/>
<path d="M275.8,404.0 L275.1,404.1 L274.3,404.1 L273.6,403.9 L273.1,403.8 L272.6,403.5 L272.2,403.2 L271.8,402.9 L271.4,402.4 L271.1,401.9 L270.9,401.4 L270.7,400.9 L270.6,400.2 L270.6,399.4 L270.7,398.7 L270.9,398.2 L271.1,397.7 L271.3,397.2 L271.7,396.7 L272.1,396.4 L272.6,396.0 L273.1,395.7 L273.6,395.5 L274.3,395.5 L275.1,395.5 L275.8,395.7 L276.3,395.9 L276.8,396.1 L277.3,396.3 L277.8,396.7 L278.1,396.9 L278.6,397.4 L278.8,397.8 L279.1,398.3 L279.2,398.9 L279.3,399.4 L279.4,400.2 L279.3,400.9 L279.2,401.4 L278.9,401.9 L278.6,402.4 L278.3,402.8 L277.8,403.2 L277.4,403.4 L276.8,403.7 L276.3,403.9 L275.8,404.0Z" fill="#000" fill-opacity="0.022" stroke="#777" stroke-width="0.75"/>
<path d="M275.3,405.2 L274.6,405.2 L274.1,405.2 L273.3,405.0 L272.8,404.8 L272.3,404.6 L271.8,404.2 L271.4,403.9 L271.1,403.7 L270.6,403.2 L270.3,402.8 L270.0,402.4 L269.8,401.9 L269.6,401.2 L269.5,400.7 L269.4,399.9 L269.4,399.2 L269.5,398.4 L269.6,397.9 L269.8,397.3 L270.0,396.7 L270.3,396.2 L270.5,395.7 L270.8,395.2 L271.1,394.8 L271.3,394.2 L271.3,393.9 L271.1,393.4 L270.6,392.9 L270.3,392.7 L269.8,392.3 L269.3,391.9 L269.0,391.7 L268.6,391.2 L268.3,390.8 L268.1,390.4 L267.8,389.7 L267.7,389.2 L267.6,388.4 L267.6,387.7 L267.7,386.9 L267.8,386.2 L267.8,385.4 L267.6,384.8 L267.3,384.4 L266.9,383.9 L266.6,383.6 L266.1,383.2 L265.6,382.9 L265.1,382.7 L264.6,382.4 L264.1,382.2 L263.6,382.0 L263.1,381.8 L262.6,381.6 L262.1,381.3 L261.6,381.0 L261.1,380.7 L260.8,380.4 L260.3,380.0 L260.0,379.7 L259.6,379.2 L259.3,378.9 L259.0,378.4 L258.7,377.9 L258.4,377.4 L258.2,376.9 L258.0,376.4 L257.8,375.8 L257.6,375.2 L257.5,374.7 L257.4,373.9 L257.4,373.2 L257.5,372.4 L257.6,371.9 L257.8,371.4 L258.1,370.9 L258.3,370.4 L258.6,369.9 L259.0,369.4 L259.3,369.2 L259.8,368.8 L260.2,368.4 L260.6,368.2 L261.1,367.9 L261.6,367.7 L262.3,367.5 L262.8,367.4 L263.6,367.4 L264.3,367.4 L265.1,367.4 L265.8,367.4 L266.6,367.4 L267.3,367.3 L268.1,367.3 L268.6,367.2 L269.3,367.1 L270.1,367.0 L270.6,366.9 L271.3,366.9 L272.1,366.8 L272.8,366.8 L273.6,366.8 L274.3,366.8 L275.1,366.9 L275.7,366.9 L276.3,367.1 L276.9,367.2 L277.6,367.4 L278.1,367.5 L278.8,367.6 L279.3,367.7 L280.1,367.9 L280.6,368.0 L281.3,368.2 L281.8,368.4 L282.3,368.6 L282.8,368.9 L283.1,369.2 L283.6,369.6 L283.9,369.9 L284.3,370.4 L284.6,370.8 L284.8,371.2 L285.1,371.7 L285.4,372.2 L285.7,372.7 L285.9,373.2 L286.1,373.7 L286.3,374.4 L286.4,374.9 L286.4,375.7 L286.4,376.4 L286.3,377.2 L286.2,377.7 L286.1,378.4 L286.0,378.9 L285.8,379.4 L285.6,380.1 L285.3,380.7 L285.1,381.2 L284.8,381.6 L284.6,382.0 L284.2,382.4 L283.8,382.8 L283.3,383.2 L282.9,383.4 L282.3,383.7 L281.8,383.8 L281.1,383.8 L280.3,383.8 L279.6,383.9 L279.0,383.9 L278.3,384.2 L277.8,384.4 L277.5,384.7 L277.1,385.2 L276.8,385.7 L276.7,386.2 L276.7,386.9 L276.7,387.7 L276.6,388.4 L276.5,388.9 L276.3,389.7 L276.2,390.2 L276.0,390.7 L275.7,391.2 L275.4,391.7 L275.2,392.2 L275.1,392.9 L275.3,393.5 L275.8,393.9 L276.2,394.2 L276.6,394.4 L277.1,394.7 L277.6,395.0 L278.1,395.3 L278.5,395.7 L278.8,396.0 L279.3,396.4 L279.6,396.7 L279.9,397.2 L280.2,397.7 L280.4,398.2 L280.5,398.9 L280.6,399.4 L280.6,400.2 L280.5,400.7 L280.4,401.4 L280.2,401.9 L280.0,402.4 L279.7,402.9 L279.3,403.4 L279.0,403.7 L278.6,404.1 L278.1,404.4 L277.6,404.6 L277.1,404.8 L276.6,405.0 L275.8,405.1 L275.3,405.2Z" fill="#000" fill-opacity="0.022" stroke="#777" stroke-width="0.75"/>
<path d="M276.1,406.2 L275.3,406.3 L274.6,406.3 L273.8,406.2 L273.3,406.1 L272.8,405.9 L272.2,405.7 L271.8,405.4 L271.3,405.2 L270.8,404.8 L270.3,404.5 L270.0,404.2 L269.6,403.8 L269.3,403.4 L268.9,402.9 L268.7,402.4 L268.5,401.9 L268.3,401.2 L268.3,400.7 L268.3,399.9 L268.3,399.2 L268.3,398.7 L268.4,397.9 L268.6,397.3 L268.7,396.7 L268.8,396.1 L268.9,395.4 L268.8,394.7 L268.7,394.2 L268.4,393.7 L268.1,393.2 L267.8,392.9 L267.4,392.4 L267.1,391.9 L266.8,391.5 L266.6,390.9 L266.4,390.4 L266.2,389.9 L266.1,389.2 L266.0,388.7 L265.9,387.9 L265.9,387.2 L265.9,386.4 L265.8,385.7 L265.7,385.2 L265.4,384.7 L265.1,384.3 L264.6,383.9 L264.2,383.7 L263.7,383.4 L263.2,383.2 L262.6,382.9 L262.1,382.7 L261.6,382.4 L261.2,382.2 L260.8,381.9 L260.3,381.6 L259.8,381.2 L259.6,380.9 L259.1,380.4 L258.8,380.1 L258.5,379.7 L258.1,379.2 L257.8,378.7 L257.6,378.3 L257.3,377.8 L257.1,377.2 L256.9,376.7 L256.8,376.2 L256.6,375.4 L256.5,374.9 L256.4,374.2 L256.4,373.4 L256.5,372.7 L256.6,372.1 L256.7,371.4 L256.9,370.9 L257.1,370.4 L257.3,369.9 L257.6,369.4 L257.9,368.9 L258.3,368.5 L258.6,368.2 L259.1,367.8 L259.5,367.4 L259.8,367.2 L260.3,366.9 L260.8,366.6 L261.3,366.4 L262.1,366.2 L262.6,366.2 L263.3,366.2 L263.8,366.2 L264.6,366.3 L265.3,366.3 L266.1,366.3 L266.8,366.2 L267.3,366.2 L268.1,366.1 L268.8,366.0 L269.3,365.9 L270.1,365.8 L270.8,365.7 L271.3,365.7 L272.1,365.6 L272.8,365.6 L273.6,365.6 L274.3,365.7 L274.8,365.7 L275.6,365.8 L276.3,365.9 L276.9,365.9 L277.6,366.1 L278.2,366.2 L278.8,366.3 L279.3,366.5 L280.1,366.6 L280.6,366.8 L281.2,366.9 L281.8,367.2 L282.3,367.4 L282.8,367.6 L283.3,367.9 L283.6,368.2 L284.1,368.6 L284.4,368.9 L284.8,369.4 L285.1,369.7 L285.4,370.2 L285.8,370.7 L286.1,371.1 L286.3,371.4 L286.6,371.9 L286.9,372.4 L287.1,372.9 L287.3,373.5 L287.5,374.2 L287.6,374.7 L287.6,375.4 L287.6,376.2 L287.5,376.7 L287.4,377.4 L287.2,377.9 L287.1,378.6 L286.9,379.2 L286.7,379.7 L286.5,380.2 L286.3,380.7 L286.0,381.2 L285.8,381.7 L285.4,382.2 L285.1,382.7 L284.8,383.1 L284.5,383.4 L284.1,383.8 L283.6,384.2 L283.2,384.4 L282.7,384.7 L282.1,384.9 L281.6,385.0 L280.8,385.1 L280.2,385.2 L279.6,385.4 L279.1,385.7 L278.8,386.0 L278.6,386.5 L278.3,387.2 L278.2,387.7 L278.1,388.4 L278.0,388.9 L277.9,389.7 L277.8,390.4 L277.7,390.9 L277.7,391.7 L277.7,392.4 L277.9,392.9 L278.2,393.4 L278.5,393.9 L278.8,394.2 L279.2,394.7 L279.6,395.0 L280.0,395.4 L280.3,395.8 L280.6,396.2 L281.0,396.7 L281.3,397.2 L281.5,397.7 L281.6,398.2 L281.8,398.9 L281.8,399.7 L281.7,400.4 L281.6,401.2 L281.5,401.7 L281.3,402.4 L281.1,402.9 L280.8,403.3 L280.5,403.7 L280.1,404.2 L279.8,404.5 L279.3,404.9 L278.8,405.2 L278.4,405.4 L277.9,405.7 L277.3,405.9 L276.8,406.1 L276.2,406.2Z" fill="#000" fill-opacity="0.022" stroke="#777" stroke-width="0.75"/>
<rect x="287.3" y="373.2" width="0.9" height="0.9" fill="#aaa"/>
<rect x="269.5" y="370.6" width="0.9" height="0.9" fill="#aaa"/>
<rect x="278.5" y="371.8" width="0.9" height="0.9" fill="#aaa"/>
<rect x="270.8" y="367.8" width="0.9" height="0.9" fill="#aaa"/>
<rect x="273.0" y="383.8" width="0.9" height="0.9" fill="#aaa"/>
<rect x="277.3" y="385.4" width="0.9" height="0.9" fill="#aaa"/>
<rect x="277.7" y="393.5" width="0.9" height="0.9" fill="#aaa"/>
<rect x="265.5" y="367.4" width="0.9" height="0.9" fill="#aaa"/>
<rect x="254.9" y="389.8" width="0.9" height="0.9" fill="#aaa"/>
<rect x="265.7" y="394.2" width="0.9" height="0.9" fill="#aaa"/>
<rect x="270.8" y="369.4" width="0.9" height="0.9" fill="#aaa"/>
<rect x="281.1" y="404.9" width="0.9" height="0.9" fill="#aaa"/>
<rect x="268.0" y="370.3" width="0.9" height="0.9" fill="#aaa"/>
<rect x="260.1" y="392.3" width="0.9" height="0.9" fill="#aaa"/>
<rect x="263.2" y="376.7" width="0.9" height="0.9" fill="#aaa"/>
<rect x="278.4" y="381.7" width="0.9" height="0.9" fill="#aaa"/>
<rect x="271.6" y="375.1" width="0.9" height="0.9" fill="#aaa"/>
<rect x="262.6" y="383.6" width="0.9" height="0.9" fill="#aaa"/>
<rect x="272.1" y="388.7" width="0.9" height="0.9" fill="#aaa"/>
<rect x="264.2" y="385.7" width="0.9" height="0.9" fill="#aaa"/>
<rect x="275.9" y="382.6" width="0.9" height="0.9" fill="#aaa"/>
<rect x="277.1" y="393.7" width="0.9" height="0.9" fill="#aaa"/>
<rect x="272.6" y="382.5" width="0.9" height="0.9" fill="#aaa"/>
<rect x="258.6" y="385.5" width="0.9" height="0.9" fill="#aaa"/>
<rect x="269.1" y="377.9" width="0.9" height="0.9" fill="#aaa"/>
<rect x="260.3" y="388.5" width="0.9" height="0.9" fill="#aaa"/>
<rect x="271.2" y="386.8" width="0.9" height="0.9" fill="#aaa"/>
<rect x="263.1" y="382.7" width="0.9" height="0.9" fill="#aaa"/>
<rect x="262.3" y="373.9" width="0.9" height="0.9" fill="#aaa"/>
<rect x="273.0" y="384.3" width="0.9" height="0.9" fill="#aaa"/>
<rect x="268.9" y="372.1" width="0.9" height="0.9" fill="#aaa"/>
<rect x="273.4" y="368.5" width="0.9" height="0.9" fill="#aaa"/>
<rect x="279.5" y="377.4" width="0.9" height="0.9" fill="#aaa"/>
<rect x="270.2" y="391.0" width="0.9" height="0.9" fill="#aaa"/>
<rect x="276.9" y="366.1" width="0.9" height="0.9" fill="#aaa"/>
<rect x="267.2" y="386.0" width="0.9" height="0.9" fill="#aaa"/>
<rect x="269.4" y="381.0" width="0.9" height="0.9" fill="#aaa"/>
<path d="M348.4,381.0 L347.7,381.1 L347.2,380.9 L346.7,380.6 L346.3,380.2 L346.0,379.7 L345.8,379.2 L345.6,378.7 L345.7,377.9 L345.9,377.4 L346.2,377.0 L346.6,376.7 L347.0,376.4 L347.6,376.2 L348.2,376.1 L348.8,376.2 L349.2,376.4 L349.7,376.9 L349.9,377.4 L350.0,377.9 L350.0,378.7 L350.0,379.4 L349.8,379.9 L349.4,380.4 L349.0,380.7 L348.5,380.9Z" fill="#000" fill-opacity="0.022" stroke="#555" stroke-width="0.75"/>
<path d="M337.7,379.2 L337.2,379.2 L336.4,379.1 L335.9,378.9 L335.3,378.7 L334.9,378.4 L334.4,378.0 L334.2,377.7 L333.8,377.2 L333.5,376.7 L333.4,376.2 L333.6,375.7 L333.9,375.3 L334.4,375.1 L334.9,374.9 L335.7,374.8 L336.4,374.7 L337.2,374.8 L337.7,375.0 L338.2,375.3 L338.7,375.7 L339.0,375.9 L339.4,376.4 L339.7,376.7 L340.0,377.2 L339.9,377.7 L339.7,378.2 L339.2,378.7 L338.8,378.9 L338.2,379.2 L337.7,379.2Z" fill="#000" fill-opacity="0.022" stroke="#555" stroke-width="0.75"/>
<path d="M348.2,382.2 L347.4,382.3 L346.7,382.2 L346.2,382.0 L345.7,381.7 L345.4,381.4 L345.1,380.9 L344.7,380.5 L344.4,380.2 L344.1,379.7 L343.8,379.2 L343.6,378.7 L343.6,377.9 L343.7,377.4 L344.1,376.9 L344.4,376.6 L344.9,376.2 L345.2,375.9 L345.7,375.6 L346.2,375.4 L346.7,375.1 L347.2,374.9 L347.9,374.7 L348.7,374.7 L349.4,374.9 L349.9,375.2 L350.3,375.4 L350.7,375.9 L350.9,376.2 L351.2,376.8 L351.4,377.4 L351.4,378.2 L351.4,378.9 L351.4,379.7 L351.2,380.3 L350.9,380.7 L350.6,381.2 L350.2,381.5 L349.7,381.8 L349.2,382.0 L348.4,382.2Z" fill="#000" fill-opacity="0.022" stroke="#555" stroke-width="0.75"/>
<path d="M347.7,383.5 L346.9,383.5 L346.2,383.5 L345.7,383.3 L345.2,383.0 L344.8,382.7 L344.4,382.3 L344.1,381.9 L343.7,381.5 L343.4,381.2 L342.9,380.8 L342.5,380.4 L342.1,380.2 L341.4,380.0 L340.7,380.0 L340.0,380.2 L339.4,380.4 L338.9,380.5 L338.2,380.6 L337.4,380.6 L336.7,380.5 L336.2,380.4 L335.4,380.3 L334.9,380.2 L334.4,379.9 L333.9,379.7 L333.4,379.3 L333.1,378.9 L332.7,378.5 L332.4,378.2 L332.0,377.7 L331.7,377.2 L331.5,376.7 L331.4,376.2 L331.4,375.5 L331.7,375.0 L331.9,374.6 L332.4,374.2 L332.7,373.9 L333.2,373.6 L333.9,373.4 L334.4,373.4 L335.2,373.4 L335.9,373.4 L336.7,373.4 L337.2,373.5 L337.9,373.7 L338.4,373.8 L338.9,374.1 L339.4,374.3 L339.9,374.5 L340.4,374.7 L341.2,374.9 L341.7,375.0 L342.4,375.1 L343.2,375.1 L343.8,374.9 L344.4,374.7 L344.9,374.6 L345.4,374.4 L345.9,374.1 L346.4,373.9 L347.1,373.7 L347.7,373.6 L348.4,373.6 L349.1,373.7 L349.7,373.9 L350.2,374.1 L350.7,374.4 L351.1,374.7 L351.4,375.1 L351.7,375.4 L352.0,375.9 L352.2,376.4 L352.4,377.2 L352.5,377.7 L352.5,378.4 L352.5,379.2 L352.4,379.7 L352.2,380.4 L352.0,380.9 L351.7,381.4 L351.4,381.8 L351.0,382.2 L350.7,382.4 L350.2,382.7 L349.6,382.9 L348.9,383.2 L348.4,383.3 L347.8,383.4Z" fill="#000" fill-opacity="0.022" stroke="#555" stroke-width="0.75"/>
<path d="M347.4,384.7 L346.7,384.9 L345.9,384.9 L345.2,384.7 L344.7,384.5 L344.4,384.2 L343.9,383.7 L343.7,383.4 L343.2,382.9 L342.9,382.7 L342.4,382.3 L341.9,382.0 L341.4,381.8 L340.9,381.7 L340.2,381.6 L339.5,381.7 L338.9,381.7 L338.2,381.7 L337.5,381.7 L336.9,381.6 L336.2,381.5 L335.7,381.4 L334.9,381.2 L334.4,381.1 L333.9,380.9 L333.4,380.7 L332.9,380.3 L332.5,379.9 L332.2,379.7 L331.7,379.2 L331.4,378.9 L331.0,378.4 L330.7,378.0 L330.4,377.6 L330.2,377.0 L330.0,376.4 L329.9,375.9 L329.9,375.3 L330.1,374.7 L330.4,374.2 L330.7,373.8 L331.0,373.4 L331.4,372.9 L331.8,372.7 L332.2,372.4 L332.9,372.2 L333.4,372.2 L334.2,372.2 L334.7,372.2 L335.4,372.3 L336.2,372.4 L336.9,372.4 L337.4,372.5 L338.2,372.6 L338.7,372.8 L339.2,373.0 L339.8,373.2 L340.4,373.4 L340.9,373.6 L341.4,373.8 L342.2,373.9 L342.9,373.9 L343.7,373.8 L344.2,373.6 L344.8,373.4 L345.4,373.2 L345.9,373.0 L346.4,372.8 L346.9,372.7 L347.7,372.6 L348.4,372.6 L349.0,372.7 L349.7,372.9 L350.2,373.1 L350.7,373.3 L351.2,373.7 L351.6,373.9 L351.9,374.3 L352.4,374.7 L352.7,375.2 L352.9,375.7 L353.1,376.2 L353.3,376.7 L353.4,377.4 L353.4,378.2 L353.4,378.9 L353.3,379.7 L353.2,380.2 L353.0,380.9 L352.7,381.4 L352.5,381.9 L352.2,382.3 L351.9,382.7 L351.4,383.1 L351.0,383.4 L350.6,383.7 L350.0,383.9 L349.4,384.2 L348.9,384.4 L348.4,384.5 L347.7,384.7Z" fill="#000" fill-opacity="0.022" stroke="#555" stroke-width="0.75"/>
<path d="M346.2,402.0 L345.4,402.1 L344.7,402.0 L344.2,401.7 L343.9,401.4 L343.7,400.9 L343.5,400.2 L343.4,399.7 L343.4,398.9 L343.6,398.4 L343.8,397.9 L344.2,397.5 L344.5,397.2 L344.9,396.8 L345.4,396.5 L346.2,396.7 L346.6,396.9 L346.9,397.3 L347.3,397.7 L347.6,398.2 L347.8,398.7 L348.0,399.2 L348.0,399.9 L347.9,400.4 L347.6,400.9 L347.2,401.4 L346.8,401.7 L346.3,401.9Z" fill="#000" fill-opacity="0.022" stroke="#555" stroke-width="0.75"/>
<path d="M344.4,388.0 L343.9,387.8 L343.7,387.2 L343.6,386.7 L343.4,386.2 L343.2,385.6 L342.9,385.0 L342.7,384.6 L342.4,384.2 L341.9,383.8 L341.5,383.4 L341.0,383.2 L340.4,383.0 L339.9,382.9 L339.2,382.8 L338.4,382.8 L337.7,382.7 L337.2,382.6 L336.4,382.5 L335.9,382.4 L335.2,382.3 L334.7,382.1 L334.1,381.9 L333.5,381.7 L333.0,381.4 L332.6,381.2 L332.2,380.9 L331.7,380.6 L331.3,380.2 L330.9,379.9 L330.5,379.4 L330.2,379.1 L329.9,378.7 L329.7,378.2 L329.4,377.7 L329.2,377.2 L328.9,376.6 L328.8,375.9 L328.8,375.2 L328.9,374.4 L329.1,373.9 L329.3,373.4 L329.6,372.9 L329.9,372.5 L330.2,372.2 L330.7,371.7 L331.0,371.4 L331.5,371.2 L332.2,371.0 L332.9,371.0 L333.7,371.1 L334.4,371.2 L334.9,371.3 L335.7,371.3 L336.4,371.4 L337.2,371.4 L337.7,371.5 L338.4,371.6 L338.9,371.8 L339.4,372.0 L340.0,372.2 L340.6,372.4 L341.2,372.7 L341.7,372.8 L342.4,372.9 L343.2,372.8 L343.8,372.7 L344.4,372.5 L344.9,372.3 L345.4,372.1 L345.9,371.9 L346.7,371.7 L347.2,371.7 L347.9,371.6 L348.7,371.7 L349.2,371.8 L349.8,371.9 L350.4,372.2 L350.9,372.4 L351.3,372.7 L351.7,372.9 L352.2,373.3 L352.7,373.7 L352.9,374.0 L353.3,374.4 L353.5,374.9 L353.8,375.4 L353.9,376.0 L354.1,376.7 L354.2,377.3 L354.2,377.9 L354.2,378.7 L354.2,379.2 L354.1,379.9 L353.9,380.5 L353.7,381.2 L353.5,381.7 L353.2,382.2 L352.9,382.7 L352.7,383.0 L352.4,383.4 L351.9,383.9 L351.6,384.2 L351.2,384.5 L350.7,384.8 L350.2,385.1 L349.7,385.3 L349.2,385.5 L348.6,385.7 L347.9,385.9 L347.4,386.1 L346.9,386.3 L346.4,386.6 L345.9,386.9 L345.6,387.2 L345.2,387.5 L344.7,387.9Z" fill="#000" fill-opacity="0.022" stroke="#555" stroke-width="0.75"/>
<path d="M345.7,404.2 L344.9,404.3 L344.2,404.2 L343.7,404.1 L343.2,403.9 L342.7,403.5 L342.4,403.2 L342.1,402.7 L341.8,402.2 L341.6,401.7 L341.4,401.1 L341.3,400.4 L341.1,399.9 L341.1,399.2 L341.2,398.4 L341.4,397.9 L341.6,397.4 L341.8,396.9 L342.0,396.4 L342.2,395.9 L342.4,395.2 L342.4,394.5 L342.5,393.9 L342.7,393.4 L343.0,392.9 L343.4,392.6 L344.2,392.6 L344.7,392.8 L345.2,393.1 L345.6,393.4 L346.0,393.7 L346.4,394.1 L346.8,394.4 L347.2,394.8 L347.5,395.2 L347.9,395.7 L348.2,396.1 L348.4,396.5 L348.8,396.9 L349.1,397.4 L349.4,397.9 L349.7,398.4 L349.9,398.9 L349.9,399.7 L349.8,400.4 L349.6,400.9 L349.3,401.4 L349.0,401.9 L348.7,402.3 L348.4,402.7 L347.9,403.1 L347.5,403.4 L347.0,403.7 L346.5,403.9 L345.9,404.1Z" fill="#000" fill-opacity="0.022" stroke="#555" stroke-width="0.75"/>
<path d="M346.4,405.7 L345.7,405.9 L344.9,405.9 L344.2,405.9 L343.4,405.8 L342.9,405.6 L342.4,405.4 L341.9,405.1 L341.5,404.7 L341.2,404.4 L340.9,403.9 L340.6,403.4 L340.4,402.9 L340.2,402.2 L340.1,401.7 L339.9,401.2 L339.7,400.4 L339.7,399.9 L339.6,399.2 L339.7,398.4 L339.8,397.9 L339.9,397.4 L340.2,396.7 L340.3,396.2 L340.4,395.4 L340.5,394.9 L340.4,394.4 L340.4,393.7 L340.4,392.9 L340.4,392.3 L340.5,391.7 L340.5,390.9 L340.5,390.2 L340.5,389.4 L340.6,388.7 L340.7,387.9 L340.8,387.4 L340.9,386.8 L341.0,386.2 L340.9,385.7 L340.6,385.2 L340.2,384.8 L339.7,384.5 L339.2,384.3 L338.7,384.1 L338.0,383.9 L337.4,383.8 L336.9,383.7 L336.2,383.6 L335.7,383.4 L334.9,383.3 L334.4,383.1 L333.9,382.9 L333.3,382.7 L332.8,382.4 L332.3,382.2 L331.9,381.9 L331.4,381.6 L330.9,381.3 L330.5,380.9 L330.2,380.7 L329.7,380.2 L329.4,379.9 L329.2,379.4 L328.9,378.9 L328.7,378.4 L328.4,377.9 L328.2,377.4 L328.0,376.7 L327.9,376.2 L327.8,375.4 L327.8,374.7 L327.9,374.0 L328.1,373.4 L328.3,372.9 L328.5,372.4 L328.9,371.9 L329.2,371.5 L329.4,371.2 L329.9,370.7 L330.3,370.4 L330.7,370.2 L331.4,369.9 L331.9,369.9 L332.7,369.8 L333.4,369.9 L333.9,370.0 L334.7,370.2 L335.2,370.2 L335.9,370.3 L336.7,370.4 L337.4,370.4 L337.9,370.5 L338.7,370.6 L339.2,370.7 L339.9,370.9 L340.4,371.2 L340.9,371.4 L341.4,371.5 L342.2,371.7 L342.7,371.7 L343.2,371.7 L343.9,371.5 L344.4,371.4 L344.9,371.2 L345.7,370.9 L346.2,370.8 L346.7,370.7 L347.4,370.6 L348.2,370.6 L348.9,370.7 L349.4,370.8 L350.0,370.9 L350.6,371.2 L351.1,371.4 L351.6,371.7 L352.0,371.9 L352.4,372.2 L352.9,372.6 L353.3,372.9 L353.7,373.4 L353.9,373.8 L354.2,374.2 L354.4,374.8 L354.7,375.4 L354.9,375.9 L355.0,376.4 L355.1,377.2 L355.1,377.9 L355.1,378.7 L355.1,379.4 L354.9,380.2 L354.8,380.7 L354.7,381.2 L354.4,381.7 L354.2,382.2 L353.9,382.7 L353.6,383.2 L353.3,383.7 L352.9,384.2 L352.7,384.5 L352.3,384.9 L351.9,385.3 L351.4,385.7 L351.0,385.9 L350.6,386.2 L350.1,386.4 L349.6,386.7 L349.1,386.9 L348.6,387.2 L348.2,387.5 L347.7,387.9 L347.4,388.2 L347.2,388.7 L346.9,389.3 L346.9,389.9 L346.9,390.7 L347.1,391.2 L347.3,391.7 L347.6,392.2 L347.9,392.7 L348.2,393.1 L348.4,393.5 L348.7,393.9 L349.0,394.4 L349.3,394.9 L349.6,395.4 L349.9,395.9 L350.2,396.4 L350.4,396.8 L350.8,397.2 L351.0,397.7 L351.3,398.2 L351.4,398.9 L351.5,399.4 L351.4,399.9 L351.3,400.7 L351.2,401.2 L350.9,401.7 L350.7,402.2 L350.4,402.7 L350.1,403.2 L349.7,403.7 L349.4,404.1 L349.1,404.4 L348.7,404.8 L348.2,405.2 L347.7,405.4 L347.2,405.6 L346.6,405.7Z" fill="#000" fill-opacity="0.022" stroke="#777" stroke-width="0.75"/>
<path d="M347.2,407.5 L346.4,407.5 L345.7,407.5 L344.9,407.5 L344.3,407.4 L343.7,407.4 L342.9,407.3 L342.4,407.1 L341.9,406.9 L341.4,406.6 L340.9,406.2 L340.7,405.9 L340.2,405.4 L339.9,405.1 L339.7,404.7 L339.4,404.2 L339.2,403.7 L338.9,403.0 L338.8,402.4 L338.7,401.9 L338.5,401.2 L338.4,400.7 L338.3,399.9 L338.3,399.2 L338.3,398.4 L338.4,397.7 L338.6,397.2 L338.7,396.6 L338.8,395.9 L338.9,395.2 L338.8,394.4 L338.8,393.7 L338.8,392.9 L338.8,392.2 L338.8,391.4 L338.7,390.7 L338.7,390.0 L338.7,389.4 L338.6,388.7 L338.6,387.9 L338.5,387.2 L338.4,386.7 L338.2,386.2 L337.8,385.7 L337.4,385.4 L336.9,385.1 L336.4,384.9 L335.8,384.7 L335.2,384.5 L334.7,384.4 L334.2,384.2 L333.5,383.9 L332.9,383.7 L332.4,383.5 L331.9,383.2 L331.5,382.9 L331.1,382.7 L330.7,382.4 L330.2,382.1 L329.7,381.7 L329.4,381.4 L329.0,380.9 L328.7,380.6 L328.4,380.2 L328.2,379.7 L327.9,379.2 L327.7,378.7 L327.4,378.1 L327.2,377.4 L327.1,376.9 L326.9,376.4 L326.9,375.7 L326.8,374.9 L326.9,374.2 L327.0,373.7 L327.2,372.9 L327.4,372.4 L327.6,371.9 L327.9,371.4 L328.2,371.0 L328.4,370.7 L328.9,370.2 L329.2,369.9 L329.7,369.5 L330.2,369.3 L330.7,369.1 L331.2,368.9 L331.9,368.8 L332.7,368.8 L333.4,368.9 L333.9,369.0 L334.7,369.1 L335.3,369.2 L335.9,369.3 L336.7,369.4 L337.4,369.4 L337.9,369.5 L338.7,369.6 L339.2,369.7 L339.9,369.9 L340.4,370.0 L341.0,370.2 L341.7,370.4 L342.2,370.5 L342.9,370.5 L343.4,370.4 L344.2,370.3 L344.7,370.1 L345.4,369.9 L345.9,369.8 L346.4,369.7 L347.2,369.6 L347.9,369.5 L348.7,369.5 L349.4,369.7 L349.9,369.8 L350.4,370.0 L350.9,370.2 L351.5,370.4 L351.9,370.7 L352.4,371.0 L352.9,371.3 L353.4,371.7 L353.7,372.0 L354.1,372.4 L354.4,372.9 L354.7,373.3 L354.9,373.7 L355.2,374.2 L355.4,374.8 L355.7,375.4 L355.8,375.9 L355.9,376.6 L356.0,377.2 L356.0,377.9 L356.0,378.7 L356.0,379.4 L355.9,380.0 L355.8,380.7 L355.7,381.2 L355.4,381.7 L355.2,382.3 L354.9,382.7 L354.7,383.2 L354.4,383.7 L354.1,384.2 L353.8,384.7 L353.4,385.2 L353.2,385.5 L352.8,385.9 L352.4,386.3 L352.0,386.7 L351.7,386.9 L351.2,387.3 L350.7,387.7 L350.4,387.9 L349.9,388.3 L349.6,388.7 L349.4,389.2 L349.2,389.7 L349.2,390.4 L349.2,390.9 L349.4,391.6 L349.7,392.2 L349.9,392.7 L350.2,393.2 L350.4,393.6 L350.7,394.1 L350.9,394.6 L351.2,395.0 L351.4,395.5 L351.7,395.9 L352.0,396.4 L352.3,396.9 L352.5,397.4 L352.7,398.2 L352.7,398.7 L352.8,399.4 L352.7,400.2 L352.7,400.7 L352.5,401.4 L352.4,401.9 L352.2,402.7 L352.0,403.2 L351.7,403.7 L351.4,404.2 L351.2,404.5 L350.9,404.9 L350.5,405.4 L350.2,405.8 L349.8,406.2 L349.4,406.4 L348.9,406.8 L348.4,407.1 L347.9,407.3 L347.2,407.4Z" fill="#000" fill-opacity="0.022" stroke="#777" stroke-width="0.75"/>
<path d="M348.2,409.0 L347.4,409.2 L346.7,409.2 L345.9,409.1 L345.2,409.1 L344.4,409.0 L343.7,408.9 L343.2,408.9 L342.6,408.7 L341.9,408.5 L341.4,408.2 L341.0,407.9 L340.6,407.7 L340.2,407.3 L339.8,406.9 L339.4,406.6 L339.1,406.2 L338.8,405.7 L338.4,405.2 L338.2,404.8 L337.9,404.2 L337.7,403.7 L337.6,403.2 L337.4,402.7 L337.3,401.9 L337.2,401.4 L337.1,400.7 L337.0,399.9 L337.0,399.2 L337.0,398.4 L337.1,397.7 L337.2,396.9 L337.2,396.4 L337.3,395.7 L337.2,394.9 L337.2,394.2 L337.2,393.7 L337.2,392.9 L337.2,392.2 L337.2,391.4 L337.1,390.7 L337.1,389.9 L337.0,389.2 L337.0,388.4 L336.9,387.9 L336.7,387.4 L336.4,386.9 L336.0,386.4 L335.7,386.2 L335.2,385.9 L334.7,385.7 L334.2,385.4 L333.6,385.2 L333.0,384.9 L332.5,384.7 L332.0,384.4 L331.5,384.2 L331.1,383.9 L330.6,383.7 L330.2,383.4 L329.7,383.0 L329.2,382.7 L328.9,382.4 L328.4,382.0 L328.2,381.7 L327.9,381.2 L327.6,380.7 L327.3,380.2 L327.0,379.7 L326.8,379.2 L326.6,378.7 L326.4,378.2 L326.2,377.6 L326.0,376.9 L325.9,376.4 L325.9,375.7 L325.9,374.9 L325.9,374.2 L326.0,373.7 L326.2,372.9 L326.3,372.4 L326.5,371.9 L326.7,371.4 L327.0,370.9 L327.3,370.4 L327.7,370.0 L327.9,369.7 L328.4,369.2 L328.7,368.9 L329.2,368.6 L329.7,368.3 L330.2,368.1 L330.8,367.9 L331.4,367.8 L332.2,367.8 L332.9,367.8 L333.7,367.9 L334.2,368.0 L334.9,368.1 L335.6,368.2 L336.2,368.3 L336.9,368.4 L337.6,368.4 L338.2,368.5 L338.9,368.6 L339.4,368.7 L340.2,368.9 L340.7,369.0 L341.4,369.1 L342.0,369.2 L342.7,369.2 L343.2,369.2 L343.9,369.1 L344.7,369.0 L345.2,368.9 L345.9,368.7 L346.4,368.6 L347.2,368.5 L347.7,368.4 L348.4,368.4 L348.9,368.5 L349.7,368.6 L350.2,368.8 L350.7,368.9 L351.3,369.2 L351.9,369.4 L352.4,369.7 L352.8,369.9 L353.2,370.2 L353.7,370.6 L354.1,370.9 L354.4,371.3 L354.8,371.7 L355.2,372.2 L355.4,372.7 L355.7,373.1 L355.9,373.6 L356.2,374.1 L356.4,374.7 L356.6,375.2 L356.8,375.7 L356.9,376.4 L357.0,376.9 L357.0,377.7 L357.0,378.4 L357.0,379.2 L357.0,379.9 L356.9,380.4 L356.7,381.2 L356.6,381.7 L356.4,382.2 L356.1,382.7 L355.9,383.2 L355.6,383.7 L355.3,384.2 L355.0,384.7 L354.8,385.2 L354.4,385.7 L354.2,386.1 L353.9,386.4 L353.4,386.9 L353.2,387.2 L352.7,387.7 L352.4,387.9 L352.0,388.4 L351.7,388.8 L351.4,389.2 L351.2,389.7 L351.0,390.4 L351.1,391.2 L351.2,391.7 L351.4,392.2 L351.7,392.7 L351.9,393.2 L352.2,393.7 L352.5,394.2 L352.8,394.7 L353.0,395.2 L353.2,395.7 L353.4,396.2 L353.7,396.9 L353.8,397.4 L353.9,398.1 L354.0,398.7 L354.1,399.4 L354.0,400.2 L354.0,400.9 L353.9,401.4 L353.8,402.2 L353.7,402.7 L353.5,403.4 L353.3,403.9 L353.0,404.4 L352.7,404.9 L352.4,405.4 L352.2,405.7 L351.8,406.2 L351.4,406.7 L351.2,406.9 L350.7,407.4 L350.4,407.7 L349.9,408.0 L349.4,408.4 L348.9,408.7 L348.4,408.9Z" fill="#000" fill-opacity="0.022" stroke="#777" stroke-width="0.75"/>
<rect x="344.5" y="383.4" width="0.9" height="0.9" fill="#aaa"/>
<rect x="341.0" y="385.3" width="0.9" height="0.9" fill="#aaa"/>
<rect x="355.9" y="388.2" width="0.9" height="0.9" fill="#aaa"/>
<rect x="345.9" y="377.7" width="0.9" height="0.9" fill="#aaa"/>
<rect x="352.9" y="380.2" width="0.9" height="0.9" fill="#aaa"/>
<rect x="342.3" y="381.2" width="0.9" height="0.9" fill="#aaa"/>
<rect x="333.9" y="397.8" width="0.9" height="0.9" fill="#aaa"/>
<rect x="344.2" y="380.7" width="0.9" height="0.9" fill="#aaa"/>
<rect x="333.1" y="404.9" width="0.9" height="0.9" fill="#aaa"/>
<rect x="348.3" y="390.3" width="0.9" height="0.9" fill="#aaa"/>
<rect x="330.2" y="398.0" width="0.9" height="0.9" fill="#aaa"/>
<rect x="346.1" y="379.2" width="0.9" height="0.9" fill="#aaa"/>
<rect x="338.1" y="362.9" width="0.9" height="0.9" fill="#aaa"/>
<rect x="347.2" y="369.3" width="0.9" height="0.9" fill="#aaa"/>
<rect x="349.5" y="377.1" width="0.9" height="0.9" fill="#aaa"/>
<rect x="331.9" y="386.8" width="0.9" height="0.9" fill="#aaa"/>
<rect x="341.9" y="368.9" width="0.9" height="0.9" fill="#aaa"/>
<rect x="338.5" y="389.7" width="0.9" height="0.9" fill="#aaa"/>
<rect x="336.4" y="366.3" width="0.9" height="0.9" fill="#aaa"/>
<rect x="336.5" y="370.9" width="0.9" height="0.9" fill="#aaa"/>
<rect x="332.5" y="383.0" width="0.9" height="0.9" fill="#aaa"/>
<rect x="338.8" y="379.9" width="0.9" height="0.9" fill="#aaa"/>
<rect x="319.6" y="386.6" width="0.9" height="0.9" fill="#aaa"/>
<rect x="337.0" y="377.5" width="0.9" height="0.9" fill="#aaa"/>
<rect x="341.2" y="405.4" width="0.9" height="0.9" fill="#aaa"/>
<rect x="324.0" y="363.2" width="0.9" height="0.9" fill="#aaa"/>
<rect x="348.5" y="373.0" width="0.9" height="0.9" fill="#aaa"/>
<rect x="354.9" y="370.6" width="0.9" height="0.9" fill="#aaa"/>
<rect x="333.6" y="392.4" width="0.9" height="0.9" fill="#aaa"/>
<rect x="350.3" y="387.7" width="0.9" height="0.9" fill="#aaa"/>
<rect x="344.8" y="380.9" width="0.9" height="0.9" fill="#aaa"/>
<rect x="334.1" y="380.0" width="0.9" height="0.9" fill="#aaa"/>
<rect x="354.6" y="390.9" width="0.9" height="0.9" fill="#aaa"/>
<rect x="339.6" y="386.2" width="0.9" height="0.9" fill="#aaa"/>
<rect x="349.3" y="396.5" width="0.9" height="0.9" fill="#aaa"/>
<rect x="337.8" y="381.5" width="0.9" height="0.9" fill="#aaa"/>
<rect x="343.3" y="413.5" width="0.9" height="0.9" fill="#aaa"/>
<rect x="342.3" y="397.6" width="0.9" height="0.9" fill="#aaa"/>
<rect x="321.1" y="392.5" width="0.9" height="0.9" fill="#aaa"/>
<circle cx="209.8" cy="398" r="2.6" fill="none" stroke="#222" stroke-width="1.3"/>
<rect x="56.50" y="316.10" width="31.10" height="30.50" stroke="#111" stroke-width="2.0" fill="none"/>
<rect x="127.50" y="320.90" width="29.30" height="26.00" stroke="#111" stroke-width="2.0" fill="none"/>
<rect x="196.50" y="321.20" width="28.90" height="25.80" stroke="#111" stroke-width="2.0" fill="none"/>
<rect x="265.90" y="321.30" width="29.20" height="25.90" stroke="#111" stroke-width="2.0" fill="none"/>
<rect x="335.00" y="321.30" width="29.50" height="25.90" stroke="#111" stroke-width="2.0" fill="none"/>
<rect x="127.40" y="390.60" width="29.20" height="25.80" stroke="#111" stroke-width="2.0" fill="none"/>
<rect x="196.00" y="390.90" width="29.20" height="25.80" stroke="#111" stroke-width="2.0" fill="none"/>
<rect x="264.80" y="391.90" width="28.90" height="25.10" stroke="#111" stroke-width="2.0" fill="none"/>
<rect x="333.90" y="391.40" width="29.30" height="25.60" stroke="#111" stroke-width="2.0" fill="none"/>
<line x1="17.60" y1="389.00" x2="17.60" y2="290.00" stroke="#111" stroke-width="1.1" />
<polygon points="14.50,291.50 17.60,284.50 20.70,291.50" fill="#111" stroke="none" stroke-width="0"/>
<text transform="translate(4.40,315.50) rotate(-90)" x="0" y="3.69" font-size="10.3" text-anchor="middle" font-weight="bold" fill="#111" stroke="#111" stroke-width="0.57">Control</text>
<text transform="translate(4.90,373.70) rotate(-90)" x="0" y="3.76" font-size="10.5" text-anchor="middle" font-weight="bold" fill="#111" stroke="#111" stroke-width="0.58">IFN-γ</text>
<text transform="translate(17.30,405.20) rotate(-90)" x="0" y="3.72" font-size="10.4" text-anchor="middle" font-weight="bold" fill="#111" stroke="#111" stroke-width="0.57">CD48</text>
<text x="31.20" y="429.49" font-size="10.3" text-anchor="start" font-weight="bold" fill="#111" stroke="#111" stroke-width="0.57">CD150</text>
<line x1="71.00" y1="426.20" x2="358.00" y2="426.20" stroke="#111" stroke-width="1.1" />
<polygon points="356.50,423.20 363.50,426.20 356.50,429.20" fill="#111" stroke="none" stroke-width="0"/>
<text x="385.50" y="279.12" font-size="11.8" text-anchor="middle" font-weight="bold" fill="#111" stroke="#111" stroke-width="0.65">F</text>
<rect x="409.00" y="286.20" width="109.00" height="87.40" stroke="#111" stroke-width="1.3" fill="none"/>
<line x1="409.00" y1="286.20" x2="409.00" y2="373.60" stroke="#111" stroke-width="1.35" />
<line x1="409.00" y1="373.60" x2="518.00" y2="373.60" stroke="#111" stroke-width="1.35" />
<line x1="406.00" y1="373.60" x2="409.00" y2="373.60" stroke="#111" stroke-width="1.2" />
<text x="404.30" y="377.74" font-size="8.2" text-anchor="end" font-weight="bold" fill="#111" stroke="#111" stroke-width="0.45">0</text>
<line x1="406.00" y1="333.75" x2="409.00" y2="333.75" stroke="#111" stroke-width="1.2" />
<text x="404.30" y="336.69" font-size="8.2" text-anchor="end" font-weight="bold" fill="#111" stroke="#111" stroke-width="0.45">50</text>
<line x1="406.00" y1="293.90" x2="409.00" y2="293.90" stroke="#111" stroke-width="1.2" />
<text x="404.30" y="296.84" font-size="8.2" text-anchor="end" font-weight="bold" fill="#111" stroke="#111" stroke-width="0.45">100</text>
<line x1="416.30" y1="373.60" x2="416.30" y2="376.60" stroke="#111" stroke-width="1.2" />
<text x="416.70" y="385.36" font-size="8" text-anchor="middle" font-weight="bold" fill="#111" stroke="#111" stroke-width="0.44">0</text>
<line x1="439.80" y1="373.60" x2="439.80" y2="376.60" stroke="#111" stroke-width="1.2" />
<text x="440.20" y="385.36" font-size="8" text-anchor="middle" font-weight="bold" fill="#111" stroke="#111" stroke-width="0.44">1</text>
<line x1="464.00" y1="373.60" x2="464.00" y2="376.60" stroke="#111" stroke-width="1.2" />
<text x="464.40" y="385.36" font-size="8" text-anchor="middle" font-weight="bold" fill="#111" stroke="#111" stroke-width="0.44">2</text>
<line x1="487.70" y1="373.60" x2="487.70" y2="376.60" stroke="#111" stroke-width="1.2" />
<text x="488.10" y="385.36" font-size="8" text-anchor="middle" font-weight="bold" fill="#111" stroke="#111" stroke-width="0.44">3</text>
<line x1="511.40" y1="373.60" x2="511.40" y2="376.60" stroke="#111" stroke-width="1.2" />
<text x="511.80" y="385.36" font-size="8" text-anchor="middle" font-weight="bold" fill="#111" stroke="#111" stroke-width="0.44">4</text>
<text x="465.60" y="397.82" font-size="9" text-anchor="middle" font-weight="bold" fill="#111" stroke="#111" stroke-width="0.49">Day</text>
<text transform="translate(387.60,330.30) rotate(-90)" x="0" y="3.29" font-size="9.2" text-anchor="middle" font-weight="bold" fill="#111" stroke="#111" stroke-width="0.51">% HSC</text>
<line x1="511.40" y1="364.83" x2="511.40" y2="360.05" stroke="#111" stroke-width="1.2" />
<line x1="507.90" y1="360.05" x2="514.90" y2="360.05" stroke="#111" stroke-width="1.2" />
<polyline points="416.30,293.90 439.80,325.78 464.00,356.07 487.70,363.24 511.40,365.63" stroke="#111" stroke-width="1.8" fill="none" stroke-linejoin="round" />
<polyline points="416.30,293.90 439.80,324.19 464.00,352.88 487.70,361.65 511.40,364.83" stroke="#111" stroke-width="1.8" fill="none" stroke-linejoin="round" />
<circle cx="416.30" cy="293.90" r="3.8" fill="#111"/>
<rect x="412.80" y="290.40" width="7" height="7" fill="#111"/>
<circle cx="439.80" cy="325.78" r="3.8" fill="#111"/>
<rect x="436.30" y="320.69" width="7" height="7" fill="#111"/>
<circle cx="464.00" cy="356.07" r="3.8" fill="#111"/>
<rect x="460.50" y="349.38" width="7" height="7" fill="#111"/>
<circle cx="487.70" cy="363.24" r="3.8" fill="#111"/>
<rect x="484.20" y="358.15" width="7" height="7" fill="#111"/>
<circle cx="511.40" cy="365.63" r="3.8" fill="#111"/>
<rect x="507.90" y="361.33" width="7" height="7" fill="#111"/>
<line x1="469.50" y1="293.80" x2="481.60" y2="293.80" stroke="#111" stroke-width="1.5" />
<circle cx="475.20" cy="293.80" r="3.2" fill="#111"/>
<line x1="469.50" y1="304.90" x2="481.60" y2="304.90" stroke="#111" stroke-width="1.5" />
<rect x="472.10" y="301.80" width="6.2" height="6.2" fill="#111"/>
<text x="485.20" y="296.77" font-size="8.3" text-anchor="start" font-weight="bold" fill="#111" stroke="#111" stroke-width="0.46">Control</text>
<text x="485.20" y="307.87" font-size="8.3" text-anchor="start" font-weight="bold" fill="#111" stroke="#111" stroke-width="0.46">IFN-γ</text>
</svg>
</body></html>
